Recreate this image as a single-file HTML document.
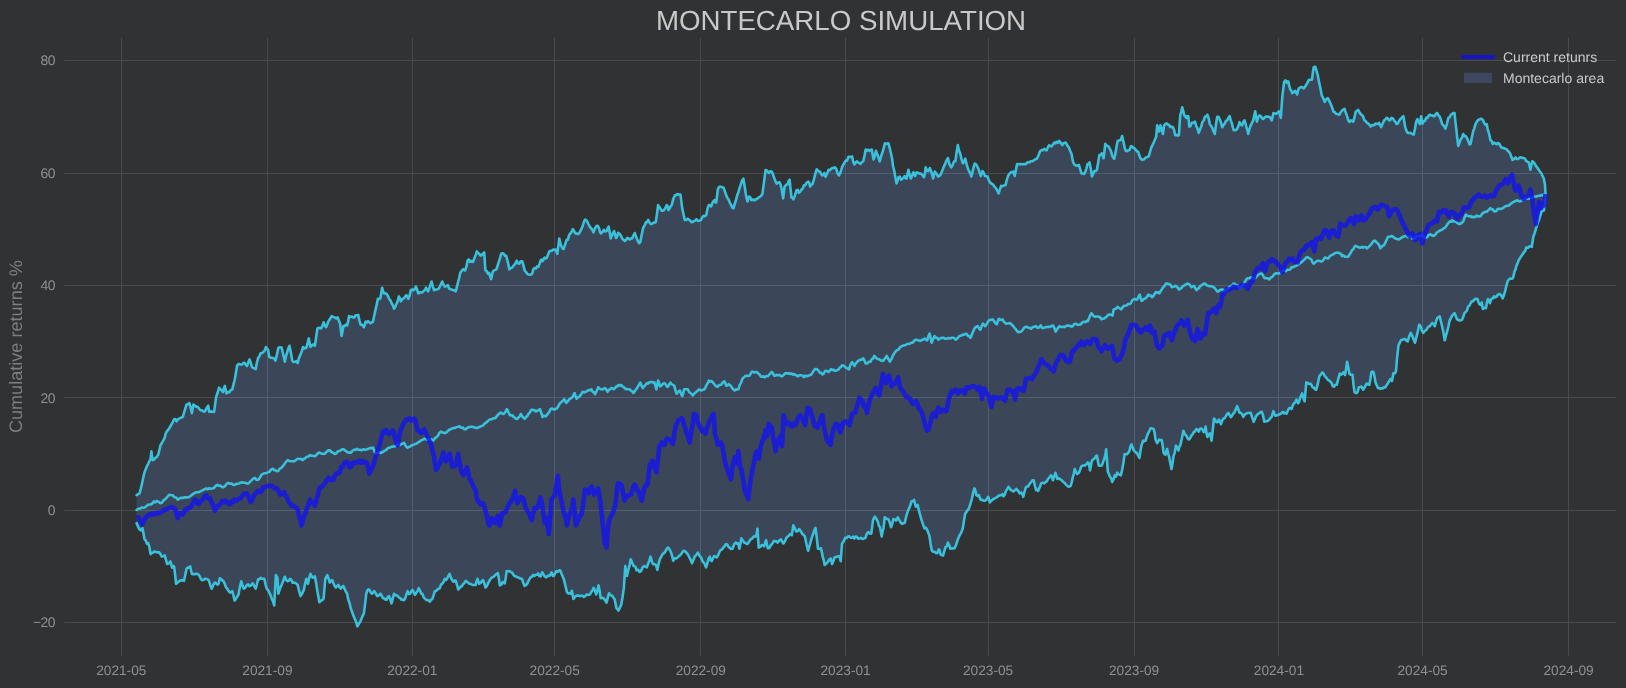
<!DOCTYPE html>
<html><head><meta charset="utf-8"><title>Montecarlo simulation</title>
<style>html,body{margin:0;padding:0;background:#313234;}body{width:1626px;height:688px;overflow:hidden;}svg{display:block;will-change:transform;}text{font-family:"Liberation Sans",sans-serif;text-rendering:geometricPrecision;}</style></head><body>
<svg width="1626" height="688" viewBox="0 0 1626 688">
<rect width="1626" height="688" fill="#313234"/>
<path d="M121.5,38 V655.5 M267.5,38 V655.5 M412.5,38 V655.5 M554.5,38 V655.5 M700.5,38 V655.5 M845.5,38 V655.5 M988.5,38 V655.5 M1134.5,38 V655.5 M1278.5,38 V655.5 M1422.5,38 V655.5 M1568.5,38 V655.5 M64.5,60.5 H1616 M64.5,173.5 H1616 M64.5,285.5 H1616 M64.5,397.5 H1616 M64.5,510.5 H1616 M64.5,622.5 H1616" stroke="#494a4d" stroke-width="1" fill="none"/>
<clipPath id="c"><path d="M136.6,495.1 L138.1,494.1 L139.5,493.4 L140.8,488.8 L142.0,483.5 L143.2,477.8 L144.5,472.4 L145.7,469.3 L147.0,466.0 L148.2,463.8 L149.4,461.2 L150.6,458.8 L151.4,451.4 L152.6,460.1 L154.0,459.6 L155.3,457.9 L156.7,457.1 L158.1,455.1 L159.3,450.3 L160.5,445.2 L161.9,443.0 L163.3,440.4 L164.7,437.8 L165.7,433.5 L166.7,431.6 L168.3,429.7 L170.0,427.0 L171.6,424.2 L172.8,422.1 L174.1,419.3 L175.3,419.1 L176.6,421.3 L178.2,419.0 L179.7,418.4 L181.2,417.6 L182.8,416.8 L184.0,412.9 L185.3,408.6 L186.5,404.5 L187.9,404.2 L189.4,403.2 L190.7,407.7 L191.9,413.1 L193.4,404.5 L194.8,405.6 L196.1,406.6 L197.5,406.8 L198.8,408.2 L200.4,410.2 L201.9,410.2 L203.4,411.4 L205.0,411.4 L206.6,408.1 L208.2,405.7 L209.2,411.9 L210.8,411.4 L212.5,411.7 L214.1,411.9 L215.1,404.4 L216.1,397.1 L217.6,392.8 L219.1,387.7 L220.4,389.3 L221.7,390.3 L223.0,392.1 L223.9,388.3 L224.8,385.9 L226.5,393.4 L227.9,392.1 L229.3,392.4 L230.8,390.0 L232.2,389.6 L233.4,384.9 L234.7,379.8 L235.9,372.9 L237.1,365.5 L238.7,363.9 L240.2,364.3 L241.8,364.6 L243.3,363.1 L244.5,362.7 L245.8,364.8 L247.0,366.0 L248.2,362.6 L249.5,359.4 L250.7,362.5 L251.9,366.8 L253.2,367.9 L254.4,368.4 L255.7,369.2 L256.9,362.6 L258.1,358.1 L259.4,356.2 L260.6,353.2 L262.1,353.0 L263.6,351.9 L264.8,350.1 L266.0,347.0 L267.0,349.3 L268.0,349.5 L269.2,356.9 L270.4,357.6 L271.7,357.8 L272.9,358.1 L274.1,358.4 L275.4,360.6 L276.9,354.6 L278.4,347.7 L280.0,347.2 L281.6,347.5 L283.2,354.3 L284.8,361.8 L286.1,356.0 L287.3,351.9 L288.4,348.2 L289.5,345.8 L290.9,352.8 L292.2,360.6 L293.7,362.1 L295.2,361.8 L296.4,361.0 L297.7,363.1 L299.1,357.7 L300.6,354.4 L301.9,350.9 L303.1,347.0 L304.7,348.4 L306.3,347.7 L307.6,343.5 L308.8,338.4 L310.5,347.0 L312.0,345.3 L313.4,344.4 L314.9,345.8 L316.1,337.4 L317.4,328.5 L318.6,328.0 L319.9,327.7 L321.1,328.5 L322.4,326.1 L323.6,322.3 L324.9,325.5 L326.1,327.2 L327.3,324.3 L328.5,321.1 L330.1,318.8 L331.7,316.1 L333.2,317.1 L334.7,317.4 L336.2,318.5 L337.7,317.4 L338.9,320.9 L340.1,323.5 L341.6,335.9 L342.5,331.3 L343.4,326.0 L344.6,326.2 L345.9,324.6 L347.1,325.5 L348.1,321.7 L349.0,316.1 L350.5,317.0 L352.0,316.6 L353.2,317.4 L354.5,317.4 L355.7,315.2 L357.0,315.3 L358.2,314.9 L359.4,320.4 L360.7,324.8 L362.3,324.7 L363.9,327.2 L364.8,324.3 L365.6,321.6 L366.8,322.5 L368.1,321.1 L369.3,322.3 L370.5,323.3 L371.8,322.4 L373.0,321.8 L374.2,315.7 L375.5,309.9 L376.7,304.6 L377.9,298.8 L379.1,299.0 L380.4,298.3 L381.2,293.1 L382.1,287.7 L383.1,291.4 L384.1,293.4 L385.4,293.2 L386.6,293.9 L387.8,295.7 L389.1,298.8 L390.3,300.1 L391.5,303.0 L392.8,305.2 L394.0,308.7 L395.2,306.9 L396.5,303.8 L397.7,301.1 L398.9,296.4 L399.9,298.5 L400.9,301.3 L402.1,299.1 L403.2,298.7 L404.4,297.6 L405.4,296.2 L406.4,295.1 L407.4,296.7 L408.3,298.8 L409.6,295.5 L410.8,290.2 L412.3,289.5 L413.8,290.2 L414.8,289.2 L415.8,286.5 L417.0,289.1 L418.2,293.4 L419.6,292.2 L420.9,292.6 L422.3,292.3 L423.7,290.9 L424.9,289.9 L426.1,287.7 L427.1,289.8 L428.1,291.4 L429.3,288.2 L430.4,284.9 L431.6,281.5 L432.8,286.3 L434.0,290.2 L435.5,289.6 L437.0,289.5 L438.5,288.9 L439.7,286.8 L441.0,284.0 L442.2,281.5 L443.4,284.5 L444.7,286.5 L446.3,286.2 L447.9,285.2 L449.1,288.5 L450.3,288.9 L451.7,289.8 L453.1,289.9 L454.4,290.5 L455.8,291.4 L457.0,286.4 L458.2,281.5 L459.2,277.8 L460.2,272.9 L461.7,270.8 L463.2,269.2 L464.2,270.1 L465.2,270.4 L466.4,266.7 L467.6,260.5 L468.9,259.4 L470.1,261.8 L471.6,261.0 L473.1,261.8 L474.3,258.5 L475.6,255.1 L476.8,251.4 L478.0,253.0 L479.3,253.9 L480.5,255.6 L481.7,255.0 L483.0,253.7 L484.2,252.4 L485.4,270.4 L486.6,270.9 L487.9,273.8 L489.1,272.9 L490.1,276.2 L491.1,279.1 L492.8,271.6 L494.0,270.4 L495.3,269.9 L496.5,269.2 L497.7,265.3 L498.8,261.8 L500.0,258.1 L501.2,253.8 L502.5,253.3 L503.7,253.8 L505.0,255.7 L506.2,255.8 L507.8,261.8 L509.4,269.4 L510.8,268.1 L512.2,267.6 L513.6,265.7 L515.2,263.8 L516.8,260.7 L518.0,263.2 L519.3,263.7 L520.8,261.3 L522.2,261.2 L523.5,265.7 L524.7,270.6 L526.2,272.2 L527.7,274.3 L529.2,274.6 L530.6,274.7 L532.1,273.8 L533.4,269.1 L534.6,268.1 L535.8,268.5 L537.1,266.3 L538.3,266.9 L539.5,264.0 L540.8,260.2 L541.6,259.7 L542.5,261.2 L543.5,259.6 L544.5,257.7 L545.7,258.5 L546.9,257.7 L548.1,254.4 L549.4,251.3 L550.6,250.9 L551.9,250.7 L553.1,249.6 L554.4,249.7 L555.6,249.6 L557.3,253.8 L558.3,246.1 L559.3,238.5 L560.5,243.9 L561.8,247.1 L562.8,248.7 L563.7,248.9 L565.2,244.1 L566.7,239.7 L567.9,239.6 L569.2,234.8 L570.4,233.5 L571.6,231.9 L572.9,229.1 L574.1,231.1 L575.4,233.5 L576.6,233.6 L577.9,234.0 L579.1,233.5 L580.3,231.2 L581.5,228.6 L582.7,226.0 L584.0,221.5 L585.2,219.5 L586.8,220.7 L588.4,224.1 L589.9,226.8 L591.4,228.6 L592.4,229.8 L593.4,232.3 L594.9,228.5 L596.4,226.1 L597.6,225.7 L598.8,227.4 L599.8,231.3 L600.8,233.5 L602.3,232.2 L603.8,229.8 L605.2,231.5 L606.7,231.1 L607.7,228.2 L608.7,226.6 L609.7,232.6 L610.7,238.5 L612.4,234.0 L614.1,231.1 L615.1,235.1 L616.1,238.0 L617.1,236.5 L618.1,232.8 L619.6,233.8 L621.1,236.0 L622.3,238.7 L623.6,240.0 L624.8,240.9 L626.0,240.0 L627.3,237.9 L628.5,238.5 L629.7,239.5 L631.0,238.4 L632.2,238.5 L633.5,235.3 L634.7,233.0 L635.9,236.3 L637.2,239.4 L638.4,242.2 L639.3,243.2 L640.3,242.2 L641.8,234.1 L643.3,227.4 L644.5,225.7 L645.8,222.4 L647.0,222.2 L648.2,219.9 L649.7,223.0 L651.2,224.1 L652.7,223.4 L654.2,222.4 L655.7,222.4 L656.9,214.5 L658.1,205.1 L659.3,207.1 L660.6,209.0 L661.8,210.8 L663.4,210.8 L665.0,208.8 L665.9,206.8 L666.8,205.1 L667.6,206.0 L668.5,210.1 L670.1,207.3 L671.7,205.1 L673.3,198.9 L674.9,195.2 L676.1,195.2 L677.4,194.0 L678.9,194.5 L680.4,194.5 L681.3,201.2 L682.3,208.8 L683.5,214.3 L684.8,219.9 L686.3,219.9 L687.8,218.7 L689.0,219.8 L690.2,220.7 L691.5,222.2 L692.7,221.9 L693.9,221.0 L695.2,220.8 L696.4,219.2 L698.0,221.0 L699.6,220.7 L701.1,219.8 L702.6,216.7 L703.8,215.7 L705.1,216.2 L706.3,215.0 L707.5,208.7 L708.8,205.1 L710.0,205.0 L711.2,206.4 L712.9,201.9 L714.5,200.2 L715.4,202.1 L716.2,202.6 L717.9,189.1 L719.1,187.0 L720.4,186.6 L722.0,187.2 L723.6,187.8 L724.9,191.4 L726.1,195.2 L727.3,197.6 L728.6,199.7 L729.8,202.6 L731.0,204.7 L732.3,207.7 L733.5,208.3 L734.7,204.0 L736.0,199.9 L737.2,195.2 L738.4,192.2 L739.7,187.7 L740.9,184.1 L742.1,180.5 L743.4,178.7 L744.6,186.0 L745.8,194.0 L746.7,198.5 L747.6,201.4 L749.0,196.5 L750.2,197.2 L751.5,200.2 L752.9,199.5 L754.3,200.4 L755.7,199.4 L756.9,199.2 L758.2,197.8 L759.4,197.0 L760.9,196.1 L762.4,194.0 L764.0,182.1 L765.6,170.0 L767.2,170.7 L768.8,173.0 L770.3,171.3 L771.8,171.8 L773.0,174.4 L774.2,177.9 L775.5,181.4 L776.7,183.6 L778.2,182.6 L779.7,182.4 L780.7,185.1 L781.7,189.1 L783.1,198.4 L784.6,186.6 L786.2,184.8 L787.8,184.1 L788.7,180.8 L789.6,179.7 L790.5,188.6 L791.5,197.7 L792.5,197.7 L793.5,199.4 L795.0,195.1 L796.5,190.3 L797.7,189.9 L798.9,192.8 L800.2,191.6 L801.4,189.6 L802.7,188.6 L803.9,185.3 L805.2,185.3 L806.4,182.9 L807.3,182.1 L808.3,181.6 L809.2,182.5 L810.1,186.6 L811.3,184.7 L812.5,184.1 L813.9,179.4 L815.3,173.9 L816.7,169.3 L818.4,171.1 L820.0,171.8 L821.2,174.2 L822.4,175.5 L823.3,174.7 L824.2,173.0 L825.6,176.7 L827.1,173.5 L828.6,169.8 L829.8,170.2 L831.1,169.1 L832.3,168.1 L833.5,168.0 L834.8,167.3 L836.2,168.6 L837.6,173.4 L839.0,175.5 L840.6,172.1 L842.2,166.8 L843.4,164.5 L844.7,162.3 L845.9,160.6 L847.1,160.7 L848.4,156.9 L849.6,156.9 L850.9,157.0 L852.1,156.4 L853.3,162.1 L854.5,164.4 L855.8,162.3 L857.0,161.4 L858.2,162.7 L859.5,163.1 L860.7,163.9 L862.0,161.9 L863.2,161.4 L864.5,155.8 L865.7,149.5 L866.9,150.6 L868.2,149.7 L869.4,150.8 L870.6,150.1 L871.8,149.5 L872.7,154.7 L873.6,159.4 L874.8,155.7 L876.0,150.8 L877.2,154.3 L878.5,157.7 L879.7,161.4 L881.4,155.4 L883.0,150.8 L884.0,146.8 L884.9,143.4 L886.1,144.0 L887.2,143.5 L888.4,143.4 L889.6,147.5 L890.7,152.2 L891.9,157.5 L893.1,166.2 L894.3,171.1 L895.5,178.0 L896.6,183.4 L897.5,180.7 L898.5,177.2 L899.8,176.6 L901.0,179.7 L902.2,178.9 L903.5,177.6 L904.7,176.0 L905.7,178.4 L906.7,178.5 L908.4,169.8 L909.6,174.4 L910.9,178.5 L912.1,175.4 L913.4,172.3 L914.2,174.5 L915.1,176.0 L916.1,172.8 L917.1,172.3 L918.3,173.4 L919.6,173.3 L920.8,173.5 L922.4,174.9 L924.0,177.2 L924.9,173.2 L925.7,167.4 L927.0,170.5 L928.2,171.1 L929.9,168.1 L931.5,172.3 L933.1,178.5 L934.8,171.6 L936.5,173.7 L938.1,176.7 L939.3,176.0 L940.5,174.8 L941.9,171.6 L943.3,167.9 L944.7,164.9 L946.3,160.9 L947.9,158.2 L949.5,164.3 L951.2,167.4 L952.4,165.6 L953.6,162.4 L954.5,161.0 L955.4,161.2 L956.6,152.2 L957.8,145.1 L959.0,150.6 L960.3,153.8 L961.5,159.2 L962.8,163.2 L964.0,162.2 L965.2,158.7 L966.8,164.8 L968.4,169.8 L969.9,172.5 L971.4,176.5 L972.6,171.5 L973.9,166.1 L974.9,163.6 L975.9,164.1 L977.3,166.4 L978.8,169.8 L979.8,172.9 L980.8,176.0 L981.6,173.9 L982.5,171.1 L983.8,173.0 L985.0,176.0 L986.2,176.2 L987.5,176.5 L988.7,179.7 L989.9,182.2 L991.5,183.7 L993.2,184.7 L994.7,187.0 L996.1,188.4 L997.4,191.0 L998.6,193.3 L999.9,189.4 L1001.1,185.9 L1002.6,186.2 L1004.0,185.4 L1005.5,185.1 L1006.8,180.0 L1008.0,176.0 L1009.5,173.7 L1010.9,172.3 L1012.1,171.9 L1013.4,171.6 L1014.7,176.0 L1015.9,170.0 L1017.1,164.1 L1018.3,164.2 L1019.6,164.1 L1020.8,164.1 L1022.5,164.2 L1024.1,164.0 L1025.8,164.1 L1027.4,162.3 L1029.1,162.5 L1030.7,161.2 L1032.2,161.3 L1033.8,160.3 L1035.4,159.2 L1036.9,158.7 L1038.5,155.3 L1040.1,151.3 L1041.6,150.0 L1043.1,150.1 L1044.3,148.8 L1045.6,150.1 L1046.8,150.1 L1048.0,146.9 L1049.2,145.1 L1050.5,146.3 L1051.7,146.4 L1052.9,144.6 L1054.2,142.6 L1055.4,143.4 L1056.6,141.8 L1057.9,142.8 L1059.1,140.9 L1060.7,142.7 L1062.3,145.1 L1063.5,143.3 L1064.6,142.9 L1065.8,142.6 L1067.4,145.5 L1069.0,147.6 L1070.2,151.0 L1071.5,153.8 L1072.3,158.2 L1073.2,162.4 L1074.8,165.0 L1076.4,165.6 L1077.7,165.7 L1078.9,164.9 L1080.2,169.2 L1081.4,173.5 L1082.6,173.5 L1083.9,173.9 L1085.1,172.3 L1086.3,168.9 L1087.5,164.1 L1088.5,164.0 L1089.5,162.4 L1090.8,168.7 L1092.0,176.5 L1093.2,173.7 L1094.5,171.1 L1095.7,171.0 L1096.9,169.8 L1098.2,162.2 L1099.4,155.0 L1100.7,154.9 L1101.9,153.3 L1103.6,158.2 L1104.4,151.5 L1105.3,143.9 L1106.9,145.8 L1108.5,146.4 L1109.8,148.7 L1111.0,151.3 L1112.6,156.8 L1114.2,158.7 L1115.4,153.6 L1116.5,146.7 L1117.7,140.9 L1118.7,140.6 L1119.7,140.2 L1120.9,139.9 L1122.1,136.0 L1123.1,140.3 L1124.1,145.1 L1124.9,148.6 L1125.8,150.8 L1127.0,151.3 L1128.3,150.3 L1129.5,150.1 L1130.8,146.4 L1132.0,146.2 L1133.3,147.8 L1134.5,148.3 L1135.7,149.7 L1137.0,151.4 L1138.2,151.8 L1139.5,155.8 L1140.7,158.7 L1141.6,159.3 L1142.4,159.9 L1144.0,159.3 L1145.6,157.5 L1147.2,157.2 L1148.8,156.2 L1150.0,152.0 L1151.3,147.6 L1152.5,145.1 L1153.7,142.6 L1155.0,139.4 L1156.2,136.5 L1157.2,125.4 L1158.2,128.9 L1159.2,131.5 L1160.4,125.4 L1161.7,129.0 L1162.9,134.0 L1164.1,125.4 L1165.3,124.0 L1166.6,123.4 L1167.8,124.6 L1169.1,124.8 L1170.3,127.1 L1171.5,126.8 L1172.8,127.1 L1174.0,129.7 L1175.2,135.2 L1176.4,134.7 L1177.7,135.6 L1178.9,135.2 L1180.2,115.5 L1181.2,111.8 L1182.2,107.3 L1183.3,111.4 L1184.4,115.5 L1185.4,116.5 L1186.4,117.9 L1187.3,116.1 L1188.3,116.2 L1189.3,126.6 L1190.5,126.0 L1191.8,122.9 L1193.4,122.6 L1195.0,121.6 L1196.2,126.1 L1197.5,128.4 L1198.7,132.8 L1200.0,129.6 L1201.2,126.6 L1202.4,122.0 L1203.7,120.5 L1204.9,116.7 L1206.2,116.4 L1207.4,114.7 L1208.6,118.1 L1209.8,124.1 L1211.0,125.9 L1212.3,127.8 L1213.5,131.3 L1214.8,134.0 L1216.0,124.1 L1217.2,116.7 L1218.5,116.7 L1219.7,119.2 L1221.0,122.5 L1222.2,127.3 L1223.5,125.0 L1224.7,123.6 L1225.9,121.0 L1227.1,120.4 L1228.3,118.3 L1229.6,116.2 L1230.8,120.3 L1232.1,124.1 L1232.9,127.6 L1233.8,130.3 L1235.4,130.2 L1237.0,129.1 L1238.2,126.7 L1239.5,122.1 L1240.8,124.6 L1242.1,125.4 L1243.3,122.0 L1244.5,120.4 L1245.4,123.1 L1246.3,126.6 L1247.2,129.6 L1248.2,134.0 L1249.5,128.9 L1250.7,125.4 L1252.0,122.8 L1253.2,120.4 L1254.2,115.9 L1255.2,111.3 L1256.1,116.8 L1256.9,121.6 L1258.2,117.4 L1259.4,115.5 L1260.6,115.9 L1261.9,118.0 L1263.1,119.2 L1264.3,117.8 L1265.5,116.7 L1266.7,116.5 L1268.0,116.7 L1269.2,116.7 L1270.5,118.0 L1271.7,120.4 L1272.6,117.2 L1273.4,113.0 L1275.0,113.6 L1276.6,113.7 L1277.8,112.4 L1279.1,111.3 L1279.9,114.1 L1280.8,117.9 L1282.3,96.9 L1283.2,89.4 L1284.1,82.1 L1285.3,80.4 L1286.5,82.6 L1287.4,81.4 L1288.3,81.6 L1289.2,85.6 L1290.2,89.5 L1291.2,90.3 L1292.2,93.2 L1293.7,92.1 L1295.2,90.8 L1296.2,92.8 L1297.2,94.5 L1298.1,90.4 L1298.9,88.3 L1300.2,87.5 L1301.4,87.1 L1302.6,87.5 L1303.8,88.3 L1305.0,86.8 L1306.3,84.6 L1307.5,82.8 L1308.8,80.1 L1310.4,79.8 L1312.0,79.6 L1312.8,72.9 L1313.7,67.3 L1314.6,66.9 L1315.4,66.8 L1316.7,71.3 L1317.9,75.9 L1318.9,81.4 L1319.9,85.8 L1320.9,91.0 L1321.9,95.7 L1323.3,98.3 L1324.8,101.9 L1326.3,99.1 L1327.8,98.2 L1329.0,100.4 L1330.3,103.1 L1331.9,106.9 L1333.5,111.8 L1334.7,112.0 L1335.9,113.7 L1337.6,114.1 L1339.2,114.7 L1340.7,112.3 L1342.1,110.5 L1343.3,109.7 L1344.6,108.8 L1345.6,112.1 L1346.6,114.7 L1347.4,117.3 L1348.3,120.4 L1349.5,122.0 L1350.8,120.4 L1352.0,120.8 L1353.2,121.6 L1354.5,117.5 L1355.7,111.8 L1357.0,110.9 L1358.2,109.8 L1359.8,113.0 L1361.4,114.7 L1362.9,115.9 L1364.4,120.4 L1365.6,120.9 L1366.9,122.7 L1368.1,123.6 L1369.3,124.6 L1370.6,126.4 L1371.8,125.4 L1373.0,125.0 L1374.3,125.1 L1375.5,123.6 L1376.7,123.9 L1378.0,123.8 L1379.2,122.9 L1380.2,125.4 L1381.2,127.1 L1382.7,123.6 L1384.1,120.4 L1385.3,119.5 L1386.6,117.9 L1387.8,118.4 L1389.1,120.4 L1390.3,120.0 L1391.5,117.9 L1392.8,118.4 L1394.0,120.4 L1395.2,121.6 L1396.5,124.0 L1397.7,123.6 L1399.0,121.2 L1400.2,119.2 L1401.8,117.7 L1403.4,116.2 L1405.1,126.6 L1406.3,130.5 L1407.6,132.8 L1408.8,133.1 L1410.1,132.7 L1411.3,133.5 L1412.5,134.2 L1413.8,134.5 L1415.0,128.5 L1416.2,121.6 L1417.5,119.2 L1418.7,122.1 L1419.9,124.1 L1421.2,116.2 L1422.4,123.6 L1423.6,121.2 L1424.9,121.0 L1426.1,117.9 L1427.3,118.0 L1428.6,115.8 L1429.8,114.7 L1431.0,115.4 L1432.3,115.4 L1433.5,116.2 L1434.7,116.1 L1436.0,113.6 L1437.2,113.0 L1438.5,115.3 L1439.7,116.7 L1441.0,120.1 L1442.2,124.1 L1443.8,125.9 L1445.4,128.6 L1446.9,123.8 L1448.4,117.9 L1449.6,117.2 L1450.8,114.7 L1452.0,114.1 L1453.3,113.1 L1454.5,113.0 L1455.4,121.6 L1456.3,129.1 L1457.2,137.5 L1458.2,145.9 L1459.5,142.9 L1460.7,139.4 L1462.0,137.8 L1463.2,134.0 L1464.7,136.0 L1466.1,136.5 L1467.3,138.8 L1468.6,141.9 L1469.6,144.5 L1470.6,143.9 L1471.8,137.7 L1473.1,131.5 L1474.3,128.4 L1475.5,124.1 L1477.0,121.4 L1478.5,119.7 L1479.8,119.2 L1481.0,118.7 L1482.6,119.6 L1484.2,122.9 L1485.5,124.8 L1486.7,124.1 L1487.6,128.8 L1488.4,131.5 L1489.4,135.0 L1490.4,140.2 L1491.6,141.0 L1492.8,143.9 L1494.0,142.5 L1495.3,143.4 L1496.5,144.2 L1497.8,143.1 L1499.0,143.4 L1500.2,145.5 L1501.5,147.6 L1502.7,147.8 L1504.0,148.3 L1505.2,148.8 L1506.4,149.0 L1507.7,150.8 L1508.9,151.8 L1510.1,153.5 L1511.4,157.1 L1512.6,159.9 L1514.1,158.9 L1515.6,157.5 L1516.5,158.7 L1517.5,159.2 L1518.7,158.5 L1520.0,157.4 L1521.2,157.5 L1522.4,158.0 L1523.7,158.0 L1524.9,158.7 L1526.2,161.0 L1527.4,161.7 L1528.7,162.4 L1529.6,166.0 L1530.4,169.8 L1531.3,165.2 L1532.3,161.2 L1533.4,162.2 L1534.6,163.5 L1535.7,165.6 L1537.2,167.5 L1538.7,169.8 L1540.1,171.9 L1541.5,173.5 L1542.7,176.4 L1543.8,178.5 L1545.0,184.7 L1545.4,193.3 L1545.4,194.0 L1545.0,203.1 L1543.8,210.5 L1542.7,210.8 L1541.5,211.8 L1540.3,215.5 L1539.2,219.2 L1538.2,221.9 L1537.3,224.1 L1535.7,229.6 L1534.6,233.4 L1533.4,236.5 L1531.8,246.8 L1530.6,246.4 L1529.4,246.4 L1527.8,248.0 L1526.2,247.6 L1525.0,251.3 L1523.7,252.5 L1522.5,254.5 L1521.2,256.2 L1520.0,258.2 L1518.8,259.9 L1517.5,263.7 L1516.3,266.1 L1515.4,270.0 L1514.6,271.1 L1513.6,275.7 L1512.6,278.5 L1511.3,278.7 L1510.1,278.5 L1508.9,279.5 L1507.7,281.0 L1506.5,285.4 L1505.2,290.9 L1504.0,295.0 L1502.7,298.3 L1501.5,295.9 L1500.2,294.2 L1499.0,294.1 L1497.8,294.9 L1496.5,296.6 L1495.3,297.4 L1494.0,296.4 L1492.8,298.3 L1491.3,299.1 L1489.9,303.2 L1488.9,300.1 L1487.9,299.0 L1486.9,302.8 L1485.9,308.2 L1484.4,307.8 L1482.9,308.9 L1481.7,302.5 L1480.5,304.8 L1479.2,304.0 L1478.3,301.6 L1477.5,299.0 L1475.9,298.8 L1474.3,299.5 L1473.1,301.2 L1471.8,301.3 L1470.6,303.2 L1469.4,305.7 L1468.1,306.5 L1466.9,310.6 L1465.7,311.8 L1464.4,313.1 L1463.2,317.1 L1461.9,320.0 L1460.7,320.2 L1459.5,320.5 L1458.2,319.8 L1457.0,319.3 L1455.8,316.3 L1454.5,313.1 L1453.3,314.2 L1452.1,315.6 L1450.8,318.5 L1449.6,320.5 L1448.3,327.0 L1447.1,331.6 L1445.9,335.9 L1444.7,340.3 L1443.5,332.7 L1442.2,326.7 L1441.0,321.7 L1439.7,316.3 L1438.5,317.0 L1437.2,318.1 L1436.0,321.4 L1434.8,326.2 L1433.5,324.1 L1432.3,323.0 L1431.0,324.5 L1429.8,326.2 L1428.2,326.7 L1426.6,329.7 L1424.9,330.8 L1423.2,332.9 L1422.2,331.4 L1421.2,327.9 L1420.2,325.7 L1419.2,324.7 L1418.3,329.0 L1417.5,332.9 L1416.2,337.9 L1415.0,342.8 L1413.8,340.0 L1412.5,336.6 L1411.7,334.8 L1410.8,332.9 L1409.2,336.4 L1407.6,341.5 L1406.4,340.7 L1405.1,339.1 L1403.9,339.1 L1402.4,339.7 L1400.9,340.3 L1399.7,342.8 L1398.5,345.2 L1397.0,358.8 L1396.0,371.2 L1394.8,373.5 L1393.5,373.2 L1392.0,381.1 L1391.2,379.0 L1390.3,379.1 L1389.0,381.5 L1387.8,383.5 L1386.6,385.2 L1385.3,387.4 L1384.1,387.2 L1382.9,388.4 L1381.6,388.2 L1380.4,389.0 L1379.2,388.1 L1377.9,388.0 L1376.7,385.3 L1375.5,382.3 L1374.6,377.3 L1373.7,372.4 L1372.5,371.4 L1371.3,372.4 L1370.3,379.5 L1369.3,384.8 L1368.0,384.4 L1366.8,383.5 L1365.6,385.4 L1364.3,388.0 L1363.1,389.7 L1361.4,386.5 L1360.2,386.9 L1358.9,387.2 L1357.9,390.9 L1356.9,392.9 L1355.7,393.0 L1354.5,392.2 L1353.5,384.7 L1352.5,374.9 L1351.0,374.8 L1349.5,374.1 L1348.3,367.5 L1347.1,361.8 L1346.1,368.6 L1345.1,374.9 L1343.4,372.4 L1342.2,373.7 L1340.9,374.8 L1339.7,373.7 L1338.2,379.3 L1336.7,384.8 L1335.4,384.8 L1334.0,386.7 L1332.7,386.0 L1331.8,383.5 L1331.0,382.3 L1329.4,380.6 L1327.8,379.8 L1326.3,377.7 L1324.8,376.1 L1323.6,373.6 L1322.4,372.4 L1320.9,374.3 L1319.4,376.1 L1317.8,383.9 L1316.2,389.7 L1315.0,389.2 L1313.7,387.6 L1312.5,387.2 L1311.2,384.5 L1310.0,383.5 L1308.8,383.9 L1307.5,383.3 L1306.3,382.3 L1305.4,392.6 L1304.6,401.3 L1303.3,397.7 L1302.1,393.4 L1301.1,395.7 L1300.1,397.9 L1299.1,401.8 L1298.1,403.3 L1296.4,399.6 L1295.2,402.5 L1293.9,403.3 L1292.7,405.6 L1291.5,409.0 L1290.2,408.0 L1289.0,408.2 L1287.8,410.7 L1286.5,413.7 L1285.3,412.7 L1284.0,413.4 L1282.8,411.9 L1281.6,412.9 L1280.3,414.0 L1279.1,414.4 L1277.9,415.3 L1276.6,415.3 L1275.4,415.7 L1274.4,414.1 L1273.4,411.2 L1272.6,413.9 L1271.7,416.9 L1270.5,418.0 L1269.2,419.7 L1268.0,420.6 L1266.8,421.3 L1265.5,421.3 L1264.3,421.8 L1263.0,415.4 L1261.8,411.9 L1260.6,412.1 L1259.4,413.2 L1257.8,414.1 L1256.1,416.1 L1254.9,419.0 L1253.7,421.8 L1252.2,417.6 L1250.7,412.7 L1249.5,412.9 L1248.2,413.0 L1247.0,413.2 L1245.8,413.9 L1244.5,414.8 L1243.3,416.9 L1242.0,414.0 L1240.8,412.9 L1239.5,412.8 L1238.2,409.0 L1237.0,406.1 L1235.8,409.4 L1234.5,412.3 L1233.3,413.7 L1232.0,415.6 L1230.8,417.2 L1229.6,415.2 L1228.4,412.8 L1227.2,414.0 L1225.9,416.0 L1224.7,418.2 L1223.4,418.5 L1222.2,420.6 L1221.0,424.2 L1220.0,421.9 L1219.0,419.7 L1217.8,421.9 L1216.5,422.2 L1215.2,419.8 L1214.0,418.5 L1212.8,429.8 L1211.6,440.7 L1210.7,436.5 L1209.8,433.3 L1208.6,434.7 L1207.4,437.0 L1206.5,433.1 L1205.6,426.6 L1204.7,431.1 L1203.7,432.1 L1202.5,429.6 L1201.2,428.4 L1200.0,428.7 L1198.7,431.6 L1197.5,429.7 L1196.2,429.1 L1195.0,431.5 L1193.7,432.2 L1192.5,434.5 L1191.3,435.7 L1190.0,438.4 L1188.8,439.5 L1187.6,438.3 L1186.4,435.8 L1184.9,434.4 L1183.4,430.8 L1181.8,438.8 L1180.2,445.6 L1179.3,446.8 L1178.5,450.6 L1177.2,447.5 L1176.0,445.6 L1174.8,452.3 L1173.5,456.3 L1172.5,463.6 L1171.5,469.1 L1170.3,463.1 L1169.1,456.8 L1168.1,453.3 L1167.1,448.9 L1165.4,454.8 L1164.5,453.9 L1163.6,453.1 L1162.7,445.9 L1161.7,440.0 L1160.5,440.3 L1159.2,439.5 L1158.2,441.5 L1157.2,443.2 L1156.3,441.3 L1155.5,439.5 L1154.6,432.7 L1153.7,429.1 L1152.1,428.4 L1150.5,428.4 L1149.3,431.0 L1148.1,433.3 L1146.8,436.7 L1145.6,440.7 L1144.3,441.1 L1143.1,440.7 L1141.4,445.6 L1140.4,451.4 L1139.4,458.0 L1138.2,455.6 L1136.9,453.1 L1135.5,452.1 L1134.0,450.6 L1132.8,448.1 L1131.5,444.4 L1130.5,445.9 L1129.5,450.6 L1128.3,452.8 L1127.1,454.3 L1125.8,454.1 L1124.6,454.3 L1123.4,462.9 L1122.2,469.5 L1120.9,475.3 L1119.7,474.8 L1118.4,474.1 L1117.2,472.7 L1115.9,476.8 L1114.7,475.3 L1113.5,479.3 L1112.2,482.0 L1111.0,478.0 L1109.8,476.5 L1108.8,473.9 L1107.8,471.6 L1106.9,458.7 L1106.1,449.4 L1105.2,455.5 L1104.3,458.7 L1103.1,461.9 L1101.9,465.4 L1100.3,465.8 L1098.7,465.4 L1097.8,460.4 L1096.9,455.5 L1095.9,456.1 L1094.9,458.0 L1093.5,459.2 L1092.0,460.5 L1091.0,465.2 L1090.0,470.4 L1088.8,462.9 L1087.6,462.5 L1086.3,464.4 L1085.1,465.4 L1083.9,465.4 L1082.6,465.7 L1081.4,466.2 L1080.2,469.5 L1078.9,472.8 L1078.1,473.2 L1077.2,474.1 L1076.0,472.0 L1074.7,469.1 L1073.7,474.1 L1072.7,477.8 L1071.7,482.4 L1070.7,485.9 L1069.2,486.7 L1067.8,486.4 L1066.2,484.9 L1064.7,483.0 L1063.1,481.9 L1061.6,480.2 L1060.2,479.4 L1058.8,478.2 L1057.4,479.0 L1056.4,476.0 L1055.4,472.8 L1054.2,476.5 L1052.9,480.2 L1052.0,477.2 L1051.0,475.3 L1049.5,477.3 L1048.0,479.0 L1046.8,481.4 L1045.5,482.2 L1044.3,483.4 L1042.7,482.7 L1041.1,483.4 L1039.6,487.6 L1038.1,490.9 L1037.1,489.6 L1036.1,490.1 L1034.9,485.6 L1033.7,480.2 L1032.5,480.3 L1031.2,482.0 L1029.7,483.8 L1028.2,486.4 L1027.0,486.6 L1025.8,487.6 L1024.5,491.7 L1023.3,496.8 L1022.1,493.3 L1020.9,492.6 L1019.6,493.3 L1018.0,490.8 L1016.4,488.9 L1014.9,490.3 L1013.4,491.4 L1012.1,490.6 L1010.9,490.1 L1009.7,488.5 L1008.5,486.9 L1007.2,489.1 L1006.0,490.9 L1004.8,494.5 L1003.5,496.3 L1002.5,494.2 L1001.6,495.1 L1000.1,495.2 L998.6,495.8 L997.0,497.2 L995.3,498.2 L993.7,498.8 L992.4,500.0 L991.2,500.6 L989.9,502.5 L988.2,496.8 L986.6,499.4 L985.0,500.7 L983.6,500.6 L982.2,499.8 L980.8,500.0 L979.8,497.8 L978.8,495.1 L977.6,495.9 L976.4,495.1 L975.4,490.6 L974.4,488.4 L973.1,493.1 L971.9,498.8 L970.4,503.9 L968.9,508.7 L967.7,510.0 L966.4,512.2 L965.2,513.6 L964.0,520.4 L962.8,528.4 L961.1,532.9 L959.5,535.5 L957.8,539.5 L956.2,544.5 L954.6,548.2 L953.2,548.4 L951.8,548.3 L950.4,548.7 L949.1,545.0 L947.9,542.7 L946.7,546.6 L945.5,546.9 L944.2,551.6 L943.0,555.6 L941.8,555.1 L940.5,554.4 L939.6,550.2 L938.8,549.4 L937.3,553.1 L936.0,553.1 L934.8,551.9 L933.3,551.8 L931.9,550.7 L930.6,543.9 L929.4,535.8 L928.4,532.9 L927.4,530.4 L926.0,527.8 L924.5,528.4 L923.3,525.2 L922.0,521.3 L920.8,517.3 L919.2,511.7 L917.6,504.9 L916.7,505.2 L915.8,506.7 L914.1,500.0 L912.9,501.1 L911.6,501.2 L910.0,506.4 L908.4,509.9 L907.2,513.1 L905.9,517.7 L904.7,523.0 L903.5,523.1 L902.2,523.9 L901.0,523.0 L899.4,520.3 L897.8,517.3 L896.1,520.5 L894.8,519.4 L893.4,519.1 L892.2,524.0 L891.0,527.2 L889.5,521.9 L888.1,519.1 L886.4,518.8 L884.7,517.3 L883.5,528.4 L882.6,531.3 L881.7,536.5 L880.9,531.9 L880.0,527.2 L878.9,525.8 L877.7,521.4 L876.2,518.6 L874.8,516.7 L873.9,518.4 L873.0,520.2 L872.1,527.3 L871.3,533.6 L869.8,533.4 L868.2,532.1 L866.7,534.0 L865.5,537.8 L864.2,538.4 L862.5,539.0 L860.9,537.9 L859.2,538.4 L858.0,538.6 L856.7,536.8 L855.5,536.5 L854.3,538.5 L853.0,536.7 L851.8,537.7 L850.6,537.6 L849.3,536.4 L848.1,536.5 L846.7,538.0 L845.2,537.7 L843.6,541.4 L842.0,543.9 L840.7,561.2 L839.5,556.2 L837.8,556.4 L836.2,556.9 L834.5,557.5 L833.3,561.3 L832.1,564.1 L830.8,558.7 L829.6,559.2 L828.4,561.2 L827.2,562.6 L825.9,564.0 L824.7,564.9 L823.8,560.4 L822.9,557.5 L822.0,553.1 L821.0,548.3 L819.5,549.0 L818.0,548.8 L816.8,538.1 L815.5,527.8 L814.5,529.9 L813.5,532.8 L812.3,536.3 L811.1,540.2 L809.6,545.5 L808.1,550.8 L806.5,544.3 L804.9,536.5 L803.6,534.9 L802.4,534.0 L800.8,531.3 L799.2,529.1 L797.7,531.2 L796.2,531.5 L794.8,528.4 L793.3,525.4 L791.8,535.2 L790.1,534.0 L788.9,535.6 L787.6,536.8 L786.4,537.7 L784.9,541.2 L783.4,543.4 L782.1,541.5 L780.9,539.4 L779.3,540.4 L777.7,542.6 L776.5,541.2 L775.2,541.4 L774.0,540.9 L772.5,543.3 L771.0,545.1 L769.4,547.9 L767.8,548.3 L766.1,540.2 L765.1,543.2 L764.1,546.4 L762.9,545.2 L761.7,545.1 L760.2,546.9 L758.7,547.6 L757.5,528.6 L756.2,536.5 L755.0,536.2 L753.7,536.5 L752.1,538.6 L750.5,539.4 L749.3,541.2 L748.1,543.4 L746.9,544.0 L745.6,543.2 L744.4,542.6 L742.9,540.8 L741.4,538.4 L740.4,543.7 L739.4,548.8 L738.2,543.4 L737.0,543.6 L735.7,542.6 L734.1,544.4 L732.5,548.8 L731.0,549.0 L729.5,547.6 L728.3,546.7 L727.0,544.2 L725.8,544.4 L724.6,546.0 L723.4,547.6 L722.0,549.6 L720.6,549.9 L719.2,552.5 L718.0,555.4 L716.7,557.5 L715.5,556.8 L714.2,556.2 L713.0,558.2 L711.7,561.2 L710.8,560.3 L709.8,556.7 L708.6,558.5 L707.3,563.5 L706.1,567.4 L704.9,564.4 L703.6,562.4 L702.4,561.1 L701.1,557.5 L699.5,555.8 L697.9,552.5 L696.4,554.9 L694.9,556.2 L693.5,559.7 L692.0,563.2 L691.0,560.5 L690.0,558.7 L688.8,556.2 L687.5,553.8 L686.3,552.5 L685.0,551.2 L683.8,550.8 L682.6,551.8 L681.4,553.8 L680.2,555.3 L678.9,556.0 L677.7,557.5 L676.2,558.4 L674.7,558.3 L673.2,560.7 L672.4,557.2 L671.5,553.8 L669.9,550.0 L668.3,547.6 L667.0,548.4 L665.8,550.8 L664.3,553.0 L662.8,553.8 L661.3,556.6 L659.9,559.2 L658.6,563.8 L657.4,569.8 L655.9,564.9 L654.4,564.3 L652.9,564.1 L651.7,560.9 L650.5,556.7 L649.3,560.9 L648.0,564.1 L646.8,567.4 L645.5,566.7 L644.3,566.1 L642.7,567.2 L641.1,571.1 L639.6,572.0 L638.1,569.8 L636.6,570.3 L635.2,566.4 L633.7,566.1 L632.2,562.8 L630.7,559.2 L629.5,565.7 L628.2,570.7 L627.0,576.0 L626.1,571.1 L625.3,566.1 L623.8,588.4 L622.5,597.5 L621.3,604.4 L619.8,607.9 L618.4,610.6 L617.4,609.1 L616.4,608.1 L614.7,599.5 L613.5,597.7 L612.2,595.8 L610.6,595.2 L609.0,593.3 L607.8,597.7 L606.5,602.7 L605.0,600.1 L603.5,598.2 L602.0,597.7 L600.6,598.2 L599.6,590.7 L598.6,585.4 L597.4,590.5 L596.1,594.5 L594.9,590.1 L593.7,587.9 L592.4,590.5 L591.2,592.1 L589.9,594.5 L588.3,594.9 L586.7,594.5 L585.2,596.1 L583.8,597.0 L582.5,595.7 L581.3,595.8 L579.7,596.1 L578.0,595.4 L576.4,595.8 L574.9,596.9 L573.4,599.0 L571.9,590.8 L570.6,593.7 L569.4,593.3 L568.2,593.5 L567.0,592.1 L565.5,586.0 L564.0,579.7 L562.8,576.6 L561.5,573.8 L560.3,570.6 L559.1,570.3 L557.8,571.8 L556.6,571.1 L555.4,572.8 L554.1,575.5 L552.9,576.0 L551.6,572.3 L550.4,574.7 L549.2,576.0 L547.7,575.9 L546.2,577.4 L544.7,576.5 L543.5,574.3 L542.3,572.3 L541.4,574.1 L540.5,576.5 L539.3,575.9 L538.1,573.5 L536.9,574.8 L535.6,574.9 L534.4,576.0 L533.1,574.9 L531.9,576.8 L530.6,577.2 L529.0,580.0 L527.4,583.4 L526.0,585.1 L524.5,585.9 L523.2,582.5 L522.0,579.0 L520.4,578.6 L518.7,577.6 L517.1,577.2 L515.9,576.4 L514.6,576.3 L513.4,574.8 L512.1,572.5 L510.9,572.2 L509.6,571.1 L508.1,571.2 L506.7,571.1 L505.7,577.9 L504.7,583.4 L503.7,583.0 L502.7,582.2 L501.2,584.9 L499.8,585.4 L498.8,578.1 L497.8,573.0 L496.6,574.1 L495.3,574.8 L493.9,576.8 L492.4,577.2 L490.8,578.6 L489.1,581.3 L487.9,583.7 L486.6,586.5 L485.4,587.5 L484.2,583.0 L483.0,580.1 L481.7,581.2 L480.5,583.0 L479.2,583.8 L477.5,578.8 L476.5,581.8 L475.5,585.0 L474.0,585.0 L472.4,585.0 L470.9,584.0 L469.4,583.8 L468.2,582.8 L466.9,581.8 L465.7,580.8 L464.5,583.0 L463.2,584.0 L462.0,586.2 L460.7,586.7 L459.5,588.1 L458.2,589.5 L457.0,585.0 L455.8,580.8 L454.6,580.6 L453.3,581.8 L452.1,580.1 L450.9,577.6 L449.6,573.9 L448.4,575.7 L447.1,578.6 L445.9,580.1 L444.7,578.9 L443.4,582.3 L442.2,583.8 L441.0,584.6 L439.7,588.2 L438.5,588.7 L437.3,589.8 L436.0,591.0 L434.8,591.2 L433.6,595.3 L432.3,599.1 L431.1,599.6 L429.8,601.7 L428.6,600.3 L427.4,600.2 L426.1,599.7 L424.9,598.6 L423.7,597.4 L422.4,593.9 L421.2,593.7 L419.9,590.1 L418.7,588.2 L417.5,591.2 L416.2,592.8 L415.0,594.9 L413.8,592.4 L412.5,589.9 L411.3,591.3 L410.1,593.7 L408.9,594.1 L407.6,591.2 L406.4,594.4 L405.1,598.6 L403.9,600.2 L402.6,599.6 L401.4,599.8 L400.2,598.1 L398.9,597.5 L397.7,596.1 L396.5,595.2 L395.2,595.1 L394.0,593.7 L392.8,598.6 L391.5,603.5 L390.3,599.3 L389.1,596.1 L387.9,596.9 L386.6,599.8 L385.4,599.6 L384.1,598.2 L382.9,598.1 L381.6,595.7 L380.4,593.7 L378.8,595.5 L377.2,596.1 L375.7,593.3 L374.2,591.2 L373.0,592.6 L371.8,593.7 L370.6,592.3 L369.3,589.5 L368.1,589.5 L367.2,590.8 L366.3,593.7 L365.1,603.8 L363.9,613.4 L362.3,616.6 L360.7,620.8 L359.0,623.6 L357.4,626.3 L355.9,621.3 L354.5,618.4 L353.3,615.2 L352.0,611.7 L350.8,608.5 L349.6,603.3 L348.3,599.7 L347.1,593.7 L345.9,591.7 L344.6,588.8 L343.4,586.2 L342.1,586.9 L340.9,588.7 L339.6,587.4 L338.4,585.0 L337.1,586.0 L335.9,587.5 L334.7,586.0 L333.4,583.3 L332.2,580.1 L331.0,581.1 L329.8,582.5 L328.6,578.7 L327.3,575.1 L326.3,576.9 L325.3,578.8 L323.6,598.6 L322.2,600.2 L320.8,600.7 L319.4,602.3 L318.4,596.6 L317.4,591.2 L316.1,582.9 L314.9,576.4 L313.7,577.2 L312.5,577.6 L311.5,576.0 L310.5,573.9 L309.2,578.0 L308.0,583.8 L306.3,578.8 L305.1,583.6 L303.8,589.9 L302.2,593.4 L300.6,596.1 L299.1,590.9 L297.7,585.0 L296.4,583.7 L295.2,583.0 L293.9,582.5 L292.7,582.8 L291.4,580.2 L290.2,578.8 L289.0,580.4 L287.8,581.3 L286.3,580.2 L284.8,576.8 L283.2,581.1 L281.6,585.0 L280.0,588.5 L278.4,593.7 L277.4,577.6 L275.9,575.1 L274.2,605.5 L272.9,601.1 L271.7,598.6 L270.4,594.8 L269.2,592.4 L268.0,590.1 L266.8,588.7 L265.6,584.8 L264.3,578.8 L263.1,578.7 L261.8,578.8 L260.6,577.9 L259.3,579.4 L258.1,579.3 L256.9,584.3 L255.7,588.7 L254.2,585.9 L252.7,583.3 L251.1,585.3 L249.5,586.2 L248.2,584.4 L247.0,585.0 L245.4,587.5 L243.8,588.7 L242.6,586.0 L241.3,581.3 L239.9,586.9 L238.4,594.9 L237.2,596.8 L235.9,598.7 L234.7,600.6 L233.4,595.4 L232.2,591.2 L230.9,592.4 L229.7,592.4 L228.4,590.8 L227.2,588.7 L226.0,587.3 L224.7,583.7 L223.5,581.3 L222.3,580.4 L221.0,578.9 L219.8,578.3 L218.6,583.8 L217.4,584.7 L216.1,583.4 L214.9,582.5 L213.3,585.0 L211.7,588.7 L210.2,584.9 L208.7,580.1 L207.4,579.4 L206.2,578.8 L204.7,578.9 L203.3,580.0 L201.8,580.1 L200.4,578.0 L199.0,575.0 L197.6,573.9 L196.2,573.8 L194.8,574.3 L193.3,574.1 L191.9,573.9 L191.1,570.7 L190.2,566.5 L189.0,567.7 L187.7,567.6 L186.5,568.9 L185.2,575.3 L184.0,580.8 L182.4,580.2 L180.7,580.4 L179.1,581.3 L177.6,582.5 L176.1,583.8 L175.1,574.5 L174.1,566.5 L173.1,565.8 L172.1,567.7 L170.4,561.5 L168.8,563.3 L167.2,564.0 L165.9,559.7 L164.7,555.4 L163.2,556.3 L161.8,556.6 L160.6,554.3 L159.3,552.4 L157.7,552.4 L156.0,552.0 L154.4,551.6 L153.1,552.6 L151.9,552.9 L150.6,554.1 L149.4,547.2 L148.2,543.0 L147.0,543.7 L145.7,540.5 L144.5,539.3 L143.5,533.3 L142.5,528.2 L141.0,530.3 L139.5,529.4 L138.1,526.7 L136.6,523.2Z"/></clipPath>
<path d="M136.6,495.1 L138.1,494.1 L139.5,493.4 L140.8,488.8 L142.0,483.5 L143.2,477.8 L144.5,472.4 L145.7,469.3 L147.0,466.0 L148.2,463.8 L149.4,461.2 L150.6,458.8 L151.4,451.4 L152.6,460.1 L154.0,459.6 L155.3,457.9 L156.7,457.1 L158.1,455.1 L159.3,450.3 L160.5,445.2 L161.9,443.0 L163.3,440.4 L164.7,437.8 L165.7,433.5 L166.7,431.6 L168.3,429.7 L170.0,427.0 L171.6,424.2 L172.8,422.1 L174.1,419.3 L175.3,419.1 L176.6,421.3 L178.2,419.0 L179.7,418.4 L181.2,417.6 L182.8,416.8 L184.0,412.9 L185.3,408.6 L186.5,404.5 L187.9,404.2 L189.4,403.2 L190.7,407.7 L191.9,413.1 L193.4,404.5 L194.8,405.6 L196.1,406.6 L197.5,406.8 L198.8,408.2 L200.4,410.2 L201.9,410.2 L203.4,411.4 L205.0,411.4 L206.6,408.1 L208.2,405.7 L209.2,411.9 L210.8,411.4 L212.5,411.7 L214.1,411.9 L215.1,404.4 L216.1,397.1 L217.6,392.8 L219.1,387.7 L220.4,389.3 L221.7,390.3 L223.0,392.1 L223.9,388.3 L224.8,385.9 L226.5,393.4 L227.9,392.1 L229.3,392.4 L230.8,390.0 L232.2,389.6 L233.4,384.9 L234.7,379.8 L235.9,372.9 L237.1,365.5 L238.7,363.9 L240.2,364.3 L241.8,364.6 L243.3,363.1 L244.5,362.7 L245.8,364.8 L247.0,366.0 L248.2,362.6 L249.5,359.4 L250.7,362.5 L251.9,366.8 L253.2,367.9 L254.4,368.4 L255.7,369.2 L256.9,362.6 L258.1,358.1 L259.4,356.2 L260.6,353.2 L262.1,353.0 L263.6,351.9 L264.8,350.1 L266.0,347.0 L267.0,349.3 L268.0,349.5 L269.2,356.9 L270.4,357.6 L271.7,357.8 L272.9,358.1 L274.1,358.4 L275.4,360.6 L276.9,354.6 L278.4,347.7 L280.0,347.2 L281.6,347.5 L283.2,354.3 L284.8,361.8 L286.1,356.0 L287.3,351.9 L288.4,348.2 L289.5,345.8 L290.9,352.8 L292.2,360.6 L293.7,362.1 L295.2,361.8 L296.4,361.0 L297.7,363.1 L299.1,357.7 L300.6,354.4 L301.9,350.9 L303.1,347.0 L304.7,348.4 L306.3,347.7 L307.6,343.5 L308.8,338.4 L310.5,347.0 L312.0,345.3 L313.4,344.4 L314.9,345.8 L316.1,337.4 L317.4,328.5 L318.6,328.0 L319.9,327.7 L321.1,328.5 L322.4,326.1 L323.6,322.3 L324.9,325.5 L326.1,327.2 L327.3,324.3 L328.5,321.1 L330.1,318.8 L331.7,316.1 L333.2,317.1 L334.7,317.4 L336.2,318.5 L337.7,317.4 L338.9,320.9 L340.1,323.5 L341.6,335.9 L342.5,331.3 L343.4,326.0 L344.6,326.2 L345.9,324.6 L347.1,325.5 L348.1,321.7 L349.0,316.1 L350.5,317.0 L352.0,316.6 L353.2,317.4 L354.5,317.4 L355.7,315.2 L357.0,315.3 L358.2,314.9 L359.4,320.4 L360.7,324.8 L362.3,324.7 L363.9,327.2 L364.8,324.3 L365.6,321.6 L366.8,322.5 L368.1,321.1 L369.3,322.3 L370.5,323.3 L371.8,322.4 L373.0,321.8 L374.2,315.7 L375.5,309.9 L376.7,304.6 L377.9,298.8 L379.1,299.0 L380.4,298.3 L381.2,293.1 L382.1,287.7 L383.1,291.4 L384.1,293.4 L385.4,293.2 L386.6,293.9 L387.8,295.7 L389.1,298.8 L390.3,300.1 L391.5,303.0 L392.8,305.2 L394.0,308.7 L395.2,306.9 L396.5,303.8 L397.7,301.1 L398.9,296.4 L399.9,298.5 L400.9,301.3 L402.1,299.1 L403.2,298.7 L404.4,297.6 L405.4,296.2 L406.4,295.1 L407.4,296.7 L408.3,298.8 L409.6,295.5 L410.8,290.2 L412.3,289.5 L413.8,290.2 L414.8,289.2 L415.8,286.5 L417.0,289.1 L418.2,293.4 L419.6,292.2 L420.9,292.6 L422.3,292.3 L423.7,290.9 L424.9,289.9 L426.1,287.7 L427.1,289.8 L428.1,291.4 L429.3,288.2 L430.4,284.9 L431.6,281.5 L432.8,286.3 L434.0,290.2 L435.5,289.6 L437.0,289.5 L438.5,288.9 L439.7,286.8 L441.0,284.0 L442.2,281.5 L443.4,284.5 L444.7,286.5 L446.3,286.2 L447.9,285.2 L449.1,288.5 L450.3,288.9 L451.7,289.8 L453.1,289.9 L454.4,290.5 L455.8,291.4 L457.0,286.4 L458.2,281.5 L459.2,277.8 L460.2,272.9 L461.7,270.8 L463.2,269.2 L464.2,270.1 L465.2,270.4 L466.4,266.7 L467.6,260.5 L468.9,259.4 L470.1,261.8 L471.6,261.0 L473.1,261.8 L474.3,258.5 L475.6,255.1 L476.8,251.4 L478.0,253.0 L479.3,253.9 L480.5,255.6 L481.7,255.0 L483.0,253.7 L484.2,252.4 L485.4,270.4 L486.6,270.9 L487.9,273.8 L489.1,272.9 L490.1,276.2 L491.1,279.1 L492.8,271.6 L494.0,270.4 L495.3,269.9 L496.5,269.2 L497.7,265.3 L498.8,261.8 L500.0,258.1 L501.2,253.8 L502.5,253.3 L503.7,253.8 L505.0,255.7 L506.2,255.8 L507.8,261.8 L509.4,269.4 L510.8,268.1 L512.2,267.6 L513.6,265.7 L515.2,263.8 L516.8,260.7 L518.0,263.2 L519.3,263.7 L520.8,261.3 L522.2,261.2 L523.5,265.7 L524.7,270.6 L526.2,272.2 L527.7,274.3 L529.2,274.6 L530.6,274.7 L532.1,273.8 L533.4,269.1 L534.6,268.1 L535.8,268.5 L537.1,266.3 L538.3,266.9 L539.5,264.0 L540.8,260.2 L541.6,259.7 L542.5,261.2 L543.5,259.6 L544.5,257.7 L545.7,258.5 L546.9,257.7 L548.1,254.4 L549.4,251.3 L550.6,250.9 L551.9,250.7 L553.1,249.6 L554.4,249.7 L555.6,249.6 L557.3,253.8 L558.3,246.1 L559.3,238.5 L560.5,243.9 L561.8,247.1 L562.8,248.7 L563.7,248.9 L565.2,244.1 L566.7,239.7 L567.9,239.6 L569.2,234.8 L570.4,233.5 L571.6,231.9 L572.9,229.1 L574.1,231.1 L575.4,233.5 L576.6,233.6 L577.9,234.0 L579.1,233.5 L580.3,231.2 L581.5,228.6 L582.7,226.0 L584.0,221.5 L585.2,219.5 L586.8,220.7 L588.4,224.1 L589.9,226.8 L591.4,228.6 L592.4,229.8 L593.4,232.3 L594.9,228.5 L596.4,226.1 L597.6,225.7 L598.8,227.4 L599.8,231.3 L600.8,233.5 L602.3,232.2 L603.8,229.8 L605.2,231.5 L606.7,231.1 L607.7,228.2 L608.7,226.6 L609.7,232.6 L610.7,238.5 L612.4,234.0 L614.1,231.1 L615.1,235.1 L616.1,238.0 L617.1,236.5 L618.1,232.8 L619.6,233.8 L621.1,236.0 L622.3,238.7 L623.6,240.0 L624.8,240.9 L626.0,240.0 L627.3,237.9 L628.5,238.5 L629.7,239.5 L631.0,238.4 L632.2,238.5 L633.5,235.3 L634.7,233.0 L635.9,236.3 L637.2,239.4 L638.4,242.2 L639.3,243.2 L640.3,242.2 L641.8,234.1 L643.3,227.4 L644.5,225.7 L645.8,222.4 L647.0,222.2 L648.2,219.9 L649.7,223.0 L651.2,224.1 L652.7,223.4 L654.2,222.4 L655.7,222.4 L656.9,214.5 L658.1,205.1 L659.3,207.1 L660.6,209.0 L661.8,210.8 L663.4,210.8 L665.0,208.8 L665.9,206.8 L666.8,205.1 L667.6,206.0 L668.5,210.1 L670.1,207.3 L671.7,205.1 L673.3,198.9 L674.9,195.2 L676.1,195.2 L677.4,194.0 L678.9,194.5 L680.4,194.5 L681.3,201.2 L682.3,208.8 L683.5,214.3 L684.8,219.9 L686.3,219.9 L687.8,218.7 L689.0,219.8 L690.2,220.7 L691.5,222.2 L692.7,221.9 L693.9,221.0 L695.2,220.8 L696.4,219.2 L698.0,221.0 L699.6,220.7 L701.1,219.8 L702.6,216.7 L703.8,215.7 L705.1,216.2 L706.3,215.0 L707.5,208.7 L708.8,205.1 L710.0,205.0 L711.2,206.4 L712.9,201.9 L714.5,200.2 L715.4,202.1 L716.2,202.6 L717.9,189.1 L719.1,187.0 L720.4,186.6 L722.0,187.2 L723.6,187.8 L724.9,191.4 L726.1,195.2 L727.3,197.6 L728.6,199.7 L729.8,202.6 L731.0,204.7 L732.3,207.7 L733.5,208.3 L734.7,204.0 L736.0,199.9 L737.2,195.2 L738.4,192.2 L739.7,187.7 L740.9,184.1 L742.1,180.5 L743.4,178.7 L744.6,186.0 L745.8,194.0 L746.7,198.5 L747.6,201.4 L749.0,196.5 L750.2,197.2 L751.5,200.2 L752.9,199.5 L754.3,200.4 L755.7,199.4 L756.9,199.2 L758.2,197.8 L759.4,197.0 L760.9,196.1 L762.4,194.0 L764.0,182.1 L765.6,170.0 L767.2,170.7 L768.8,173.0 L770.3,171.3 L771.8,171.8 L773.0,174.4 L774.2,177.9 L775.5,181.4 L776.7,183.6 L778.2,182.6 L779.7,182.4 L780.7,185.1 L781.7,189.1 L783.1,198.4 L784.6,186.6 L786.2,184.8 L787.8,184.1 L788.7,180.8 L789.6,179.7 L790.5,188.6 L791.5,197.7 L792.5,197.7 L793.5,199.4 L795.0,195.1 L796.5,190.3 L797.7,189.9 L798.9,192.8 L800.2,191.6 L801.4,189.6 L802.7,188.6 L803.9,185.3 L805.2,185.3 L806.4,182.9 L807.3,182.1 L808.3,181.6 L809.2,182.5 L810.1,186.6 L811.3,184.7 L812.5,184.1 L813.9,179.4 L815.3,173.9 L816.7,169.3 L818.4,171.1 L820.0,171.8 L821.2,174.2 L822.4,175.5 L823.3,174.7 L824.2,173.0 L825.6,176.7 L827.1,173.5 L828.6,169.8 L829.8,170.2 L831.1,169.1 L832.3,168.1 L833.5,168.0 L834.8,167.3 L836.2,168.6 L837.6,173.4 L839.0,175.5 L840.6,172.1 L842.2,166.8 L843.4,164.5 L844.7,162.3 L845.9,160.6 L847.1,160.7 L848.4,156.9 L849.6,156.9 L850.9,157.0 L852.1,156.4 L853.3,162.1 L854.5,164.4 L855.8,162.3 L857.0,161.4 L858.2,162.7 L859.5,163.1 L860.7,163.9 L862.0,161.9 L863.2,161.4 L864.5,155.8 L865.7,149.5 L866.9,150.6 L868.2,149.7 L869.4,150.8 L870.6,150.1 L871.8,149.5 L872.7,154.7 L873.6,159.4 L874.8,155.7 L876.0,150.8 L877.2,154.3 L878.5,157.7 L879.7,161.4 L881.4,155.4 L883.0,150.8 L884.0,146.8 L884.9,143.4 L886.1,144.0 L887.2,143.5 L888.4,143.4 L889.6,147.5 L890.7,152.2 L891.9,157.5 L893.1,166.2 L894.3,171.1 L895.5,178.0 L896.6,183.4 L897.5,180.7 L898.5,177.2 L899.8,176.6 L901.0,179.7 L902.2,178.9 L903.5,177.6 L904.7,176.0 L905.7,178.4 L906.7,178.5 L908.4,169.8 L909.6,174.4 L910.9,178.5 L912.1,175.4 L913.4,172.3 L914.2,174.5 L915.1,176.0 L916.1,172.8 L917.1,172.3 L918.3,173.4 L919.6,173.3 L920.8,173.5 L922.4,174.9 L924.0,177.2 L924.9,173.2 L925.7,167.4 L927.0,170.5 L928.2,171.1 L929.9,168.1 L931.5,172.3 L933.1,178.5 L934.8,171.6 L936.5,173.7 L938.1,176.7 L939.3,176.0 L940.5,174.8 L941.9,171.6 L943.3,167.9 L944.7,164.9 L946.3,160.9 L947.9,158.2 L949.5,164.3 L951.2,167.4 L952.4,165.6 L953.6,162.4 L954.5,161.0 L955.4,161.2 L956.6,152.2 L957.8,145.1 L959.0,150.6 L960.3,153.8 L961.5,159.2 L962.8,163.2 L964.0,162.2 L965.2,158.7 L966.8,164.8 L968.4,169.8 L969.9,172.5 L971.4,176.5 L972.6,171.5 L973.9,166.1 L974.9,163.6 L975.9,164.1 L977.3,166.4 L978.8,169.8 L979.8,172.9 L980.8,176.0 L981.6,173.9 L982.5,171.1 L983.8,173.0 L985.0,176.0 L986.2,176.2 L987.5,176.5 L988.7,179.7 L989.9,182.2 L991.5,183.7 L993.2,184.7 L994.7,187.0 L996.1,188.4 L997.4,191.0 L998.6,193.3 L999.9,189.4 L1001.1,185.9 L1002.6,186.2 L1004.0,185.4 L1005.5,185.1 L1006.8,180.0 L1008.0,176.0 L1009.5,173.7 L1010.9,172.3 L1012.1,171.9 L1013.4,171.6 L1014.7,176.0 L1015.9,170.0 L1017.1,164.1 L1018.3,164.2 L1019.6,164.1 L1020.8,164.1 L1022.5,164.2 L1024.1,164.0 L1025.8,164.1 L1027.4,162.3 L1029.1,162.5 L1030.7,161.2 L1032.2,161.3 L1033.8,160.3 L1035.4,159.2 L1036.9,158.7 L1038.5,155.3 L1040.1,151.3 L1041.6,150.0 L1043.1,150.1 L1044.3,148.8 L1045.6,150.1 L1046.8,150.1 L1048.0,146.9 L1049.2,145.1 L1050.5,146.3 L1051.7,146.4 L1052.9,144.6 L1054.2,142.6 L1055.4,143.4 L1056.6,141.8 L1057.9,142.8 L1059.1,140.9 L1060.7,142.7 L1062.3,145.1 L1063.5,143.3 L1064.6,142.9 L1065.8,142.6 L1067.4,145.5 L1069.0,147.6 L1070.2,151.0 L1071.5,153.8 L1072.3,158.2 L1073.2,162.4 L1074.8,165.0 L1076.4,165.6 L1077.7,165.7 L1078.9,164.9 L1080.2,169.2 L1081.4,173.5 L1082.6,173.5 L1083.9,173.9 L1085.1,172.3 L1086.3,168.9 L1087.5,164.1 L1088.5,164.0 L1089.5,162.4 L1090.8,168.7 L1092.0,176.5 L1093.2,173.7 L1094.5,171.1 L1095.7,171.0 L1096.9,169.8 L1098.2,162.2 L1099.4,155.0 L1100.7,154.9 L1101.9,153.3 L1103.6,158.2 L1104.4,151.5 L1105.3,143.9 L1106.9,145.8 L1108.5,146.4 L1109.8,148.7 L1111.0,151.3 L1112.6,156.8 L1114.2,158.7 L1115.4,153.6 L1116.5,146.7 L1117.7,140.9 L1118.7,140.6 L1119.7,140.2 L1120.9,139.9 L1122.1,136.0 L1123.1,140.3 L1124.1,145.1 L1124.9,148.6 L1125.8,150.8 L1127.0,151.3 L1128.3,150.3 L1129.5,150.1 L1130.8,146.4 L1132.0,146.2 L1133.3,147.8 L1134.5,148.3 L1135.7,149.7 L1137.0,151.4 L1138.2,151.8 L1139.5,155.8 L1140.7,158.7 L1141.6,159.3 L1142.4,159.9 L1144.0,159.3 L1145.6,157.5 L1147.2,157.2 L1148.8,156.2 L1150.0,152.0 L1151.3,147.6 L1152.5,145.1 L1153.7,142.6 L1155.0,139.4 L1156.2,136.5 L1157.2,125.4 L1158.2,128.9 L1159.2,131.5 L1160.4,125.4 L1161.7,129.0 L1162.9,134.0 L1164.1,125.4 L1165.3,124.0 L1166.6,123.4 L1167.8,124.6 L1169.1,124.8 L1170.3,127.1 L1171.5,126.8 L1172.8,127.1 L1174.0,129.7 L1175.2,135.2 L1176.4,134.7 L1177.7,135.6 L1178.9,135.2 L1180.2,115.5 L1181.2,111.8 L1182.2,107.3 L1183.3,111.4 L1184.4,115.5 L1185.4,116.5 L1186.4,117.9 L1187.3,116.1 L1188.3,116.2 L1189.3,126.6 L1190.5,126.0 L1191.8,122.9 L1193.4,122.6 L1195.0,121.6 L1196.2,126.1 L1197.5,128.4 L1198.7,132.8 L1200.0,129.6 L1201.2,126.6 L1202.4,122.0 L1203.7,120.5 L1204.9,116.7 L1206.2,116.4 L1207.4,114.7 L1208.6,118.1 L1209.8,124.1 L1211.0,125.9 L1212.3,127.8 L1213.5,131.3 L1214.8,134.0 L1216.0,124.1 L1217.2,116.7 L1218.5,116.7 L1219.7,119.2 L1221.0,122.5 L1222.2,127.3 L1223.5,125.0 L1224.7,123.6 L1225.9,121.0 L1227.1,120.4 L1228.3,118.3 L1229.6,116.2 L1230.8,120.3 L1232.1,124.1 L1232.9,127.6 L1233.8,130.3 L1235.4,130.2 L1237.0,129.1 L1238.2,126.7 L1239.5,122.1 L1240.8,124.6 L1242.1,125.4 L1243.3,122.0 L1244.5,120.4 L1245.4,123.1 L1246.3,126.6 L1247.2,129.6 L1248.2,134.0 L1249.5,128.9 L1250.7,125.4 L1252.0,122.8 L1253.2,120.4 L1254.2,115.9 L1255.2,111.3 L1256.1,116.8 L1256.9,121.6 L1258.2,117.4 L1259.4,115.5 L1260.6,115.9 L1261.9,118.0 L1263.1,119.2 L1264.3,117.8 L1265.5,116.7 L1266.7,116.5 L1268.0,116.7 L1269.2,116.7 L1270.5,118.0 L1271.7,120.4 L1272.6,117.2 L1273.4,113.0 L1275.0,113.6 L1276.6,113.7 L1277.8,112.4 L1279.1,111.3 L1279.9,114.1 L1280.8,117.9 L1282.3,96.9 L1283.2,89.4 L1284.1,82.1 L1285.3,80.4 L1286.5,82.6 L1287.4,81.4 L1288.3,81.6 L1289.2,85.6 L1290.2,89.5 L1291.2,90.3 L1292.2,93.2 L1293.7,92.1 L1295.2,90.8 L1296.2,92.8 L1297.2,94.5 L1298.1,90.4 L1298.9,88.3 L1300.2,87.5 L1301.4,87.1 L1302.6,87.5 L1303.8,88.3 L1305.0,86.8 L1306.3,84.6 L1307.5,82.8 L1308.8,80.1 L1310.4,79.8 L1312.0,79.6 L1312.8,72.9 L1313.7,67.3 L1314.6,66.9 L1315.4,66.8 L1316.7,71.3 L1317.9,75.9 L1318.9,81.4 L1319.9,85.8 L1320.9,91.0 L1321.9,95.7 L1323.3,98.3 L1324.8,101.9 L1326.3,99.1 L1327.8,98.2 L1329.0,100.4 L1330.3,103.1 L1331.9,106.9 L1333.5,111.8 L1334.7,112.0 L1335.9,113.7 L1337.6,114.1 L1339.2,114.7 L1340.7,112.3 L1342.1,110.5 L1343.3,109.7 L1344.6,108.8 L1345.6,112.1 L1346.6,114.7 L1347.4,117.3 L1348.3,120.4 L1349.5,122.0 L1350.8,120.4 L1352.0,120.8 L1353.2,121.6 L1354.5,117.5 L1355.7,111.8 L1357.0,110.9 L1358.2,109.8 L1359.8,113.0 L1361.4,114.7 L1362.9,115.9 L1364.4,120.4 L1365.6,120.9 L1366.9,122.7 L1368.1,123.6 L1369.3,124.6 L1370.6,126.4 L1371.8,125.4 L1373.0,125.0 L1374.3,125.1 L1375.5,123.6 L1376.7,123.9 L1378.0,123.8 L1379.2,122.9 L1380.2,125.4 L1381.2,127.1 L1382.7,123.6 L1384.1,120.4 L1385.3,119.5 L1386.6,117.9 L1387.8,118.4 L1389.1,120.4 L1390.3,120.0 L1391.5,117.9 L1392.8,118.4 L1394.0,120.4 L1395.2,121.6 L1396.5,124.0 L1397.7,123.6 L1399.0,121.2 L1400.2,119.2 L1401.8,117.7 L1403.4,116.2 L1405.1,126.6 L1406.3,130.5 L1407.6,132.8 L1408.8,133.1 L1410.1,132.7 L1411.3,133.5 L1412.5,134.2 L1413.8,134.5 L1415.0,128.5 L1416.2,121.6 L1417.5,119.2 L1418.7,122.1 L1419.9,124.1 L1421.2,116.2 L1422.4,123.6 L1423.6,121.2 L1424.9,121.0 L1426.1,117.9 L1427.3,118.0 L1428.6,115.8 L1429.8,114.7 L1431.0,115.4 L1432.3,115.4 L1433.5,116.2 L1434.7,116.1 L1436.0,113.6 L1437.2,113.0 L1438.5,115.3 L1439.7,116.7 L1441.0,120.1 L1442.2,124.1 L1443.8,125.9 L1445.4,128.6 L1446.9,123.8 L1448.4,117.9 L1449.6,117.2 L1450.8,114.7 L1452.0,114.1 L1453.3,113.1 L1454.5,113.0 L1455.4,121.6 L1456.3,129.1 L1457.2,137.5 L1458.2,145.9 L1459.5,142.9 L1460.7,139.4 L1462.0,137.8 L1463.2,134.0 L1464.7,136.0 L1466.1,136.5 L1467.3,138.8 L1468.6,141.9 L1469.6,144.5 L1470.6,143.9 L1471.8,137.7 L1473.1,131.5 L1474.3,128.4 L1475.5,124.1 L1477.0,121.4 L1478.5,119.7 L1479.8,119.2 L1481.0,118.7 L1482.6,119.6 L1484.2,122.9 L1485.5,124.8 L1486.7,124.1 L1487.6,128.8 L1488.4,131.5 L1489.4,135.0 L1490.4,140.2 L1491.6,141.0 L1492.8,143.9 L1494.0,142.5 L1495.3,143.4 L1496.5,144.2 L1497.8,143.1 L1499.0,143.4 L1500.2,145.5 L1501.5,147.6 L1502.7,147.8 L1504.0,148.3 L1505.2,148.8 L1506.4,149.0 L1507.7,150.8 L1508.9,151.8 L1510.1,153.5 L1511.4,157.1 L1512.6,159.9 L1514.1,158.9 L1515.6,157.5 L1516.5,158.7 L1517.5,159.2 L1518.7,158.5 L1520.0,157.4 L1521.2,157.5 L1522.4,158.0 L1523.7,158.0 L1524.9,158.7 L1526.2,161.0 L1527.4,161.7 L1528.7,162.4 L1529.6,166.0 L1530.4,169.8 L1531.3,165.2 L1532.3,161.2 L1533.4,162.2 L1534.6,163.5 L1535.7,165.6 L1537.2,167.5 L1538.7,169.8 L1540.1,171.9 L1541.5,173.5 L1542.7,176.4 L1543.8,178.5 L1545.0,184.7 L1545.4,193.3 L1545.4,194.0 L1545.0,203.1 L1543.8,210.5 L1542.7,210.8 L1541.5,211.8 L1540.3,215.5 L1539.2,219.2 L1538.2,221.9 L1537.3,224.1 L1535.7,229.6 L1534.6,233.4 L1533.4,236.5 L1531.8,246.8 L1530.6,246.4 L1529.4,246.4 L1527.8,248.0 L1526.2,247.6 L1525.0,251.3 L1523.7,252.5 L1522.5,254.5 L1521.2,256.2 L1520.0,258.2 L1518.8,259.9 L1517.5,263.7 L1516.3,266.1 L1515.4,270.0 L1514.6,271.1 L1513.6,275.7 L1512.6,278.5 L1511.3,278.7 L1510.1,278.5 L1508.9,279.5 L1507.7,281.0 L1506.5,285.4 L1505.2,290.9 L1504.0,295.0 L1502.7,298.3 L1501.5,295.9 L1500.2,294.2 L1499.0,294.1 L1497.8,294.9 L1496.5,296.6 L1495.3,297.4 L1494.0,296.4 L1492.8,298.3 L1491.3,299.1 L1489.9,303.2 L1488.9,300.1 L1487.9,299.0 L1486.9,302.8 L1485.9,308.2 L1484.4,307.8 L1482.9,308.9 L1481.7,302.5 L1480.5,304.8 L1479.2,304.0 L1478.3,301.6 L1477.5,299.0 L1475.9,298.8 L1474.3,299.5 L1473.1,301.2 L1471.8,301.3 L1470.6,303.2 L1469.4,305.7 L1468.1,306.5 L1466.9,310.6 L1465.7,311.8 L1464.4,313.1 L1463.2,317.1 L1461.9,320.0 L1460.7,320.2 L1459.5,320.5 L1458.2,319.8 L1457.0,319.3 L1455.8,316.3 L1454.5,313.1 L1453.3,314.2 L1452.1,315.6 L1450.8,318.5 L1449.6,320.5 L1448.3,327.0 L1447.1,331.6 L1445.9,335.9 L1444.7,340.3 L1443.5,332.7 L1442.2,326.7 L1441.0,321.7 L1439.7,316.3 L1438.5,317.0 L1437.2,318.1 L1436.0,321.4 L1434.8,326.2 L1433.5,324.1 L1432.3,323.0 L1431.0,324.5 L1429.8,326.2 L1428.2,326.7 L1426.6,329.7 L1424.9,330.8 L1423.2,332.9 L1422.2,331.4 L1421.2,327.9 L1420.2,325.7 L1419.2,324.7 L1418.3,329.0 L1417.5,332.9 L1416.2,337.9 L1415.0,342.8 L1413.8,340.0 L1412.5,336.6 L1411.7,334.8 L1410.8,332.9 L1409.2,336.4 L1407.6,341.5 L1406.4,340.7 L1405.1,339.1 L1403.9,339.1 L1402.4,339.7 L1400.9,340.3 L1399.7,342.8 L1398.5,345.2 L1397.0,358.8 L1396.0,371.2 L1394.8,373.5 L1393.5,373.2 L1392.0,381.1 L1391.2,379.0 L1390.3,379.1 L1389.0,381.5 L1387.8,383.5 L1386.6,385.2 L1385.3,387.4 L1384.1,387.2 L1382.9,388.4 L1381.6,388.2 L1380.4,389.0 L1379.2,388.1 L1377.9,388.0 L1376.7,385.3 L1375.5,382.3 L1374.6,377.3 L1373.7,372.4 L1372.5,371.4 L1371.3,372.4 L1370.3,379.5 L1369.3,384.8 L1368.0,384.4 L1366.8,383.5 L1365.6,385.4 L1364.3,388.0 L1363.1,389.7 L1361.4,386.5 L1360.2,386.9 L1358.9,387.2 L1357.9,390.9 L1356.9,392.9 L1355.7,393.0 L1354.5,392.2 L1353.5,384.7 L1352.5,374.9 L1351.0,374.8 L1349.5,374.1 L1348.3,367.5 L1347.1,361.8 L1346.1,368.6 L1345.1,374.9 L1343.4,372.4 L1342.2,373.7 L1340.9,374.8 L1339.7,373.7 L1338.2,379.3 L1336.7,384.8 L1335.4,384.8 L1334.0,386.7 L1332.7,386.0 L1331.8,383.5 L1331.0,382.3 L1329.4,380.6 L1327.8,379.8 L1326.3,377.7 L1324.8,376.1 L1323.6,373.6 L1322.4,372.4 L1320.9,374.3 L1319.4,376.1 L1317.8,383.9 L1316.2,389.7 L1315.0,389.2 L1313.7,387.6 L1312.5,387.2 L1311.2,384.5 L1310.0,383.5 L1308.8,383.9 L1307.5,383.3 L1306.3,382.3 L1305.4,392.6 L1304.6,401.3 L1303.3,397.7 L1302.1,393.4 L1301.1,395.7 L1300.1,397.9 L1299.1,401.8 L1298.1,403.3 L1296.4,399.6 L1295.2,402.5 L1293.9,403.3 L1292.7,405.6 L1291.5,409.0 L1290.2,408.0 L1289.0,408.2 L1287.8,410.7 L1286.5,413.7 L1285.3,412.7 L1284.0,413.4 L1282.8,411.9 L1281.6,412.9 L1280.3,414.0 L1279.1,414.4 L1277.9,415.3 L1276.6,415.3 L1275.4,415.7 L1274.4,414.1 L1273.4,411.2 L1272.6,413.9 L1271.7,416.9 L1270.5,418.0 L1269.2,419.7 L1268.0,420.6 L1266.8,421.3 L1265.5,421.3 L1264.3,421.8 L1263.0,415.4 L1261.8,411.9 L1260.6,412.1 L1259.4,413.2 L1257.8,414.1 L1256.1,416.1 L1254.9,419.0 L1253.7,421.8 L1252.2,417.6 L1250.7,412.7 L1249.5,412.9 L1248.2,413.0 L1247.0,413.2 L1245.8,413.9 L1244.5,414.8 L1243.3,416.9 L1242.0,414.0 L1240.8,412.9 L1239.5,412.8 L1238.2,409.0 L1237.0,406.1 L1235.8,409.4 L1234.5,412.3 L1233.3,413.7 L1232.0,415.6 L1230.8,417.2 L1229.6,415.2 L1228.4,412.8 L1227.2,414.0 L1225.9,416.0 L1224.7,418.2 L1223.4,418.5 L1222.2,420.6 L1221.0,424.2 L1220.0,421.9 L1219.0,419.7 L1217.8,421.9 L1216.5,422.2 L1215.2,419.8 L1214.0,418.5 L1212.8,429.8 L1211.6,440.7 L1210.7,436.5 L1209.8,433.3 L1208.6,434.7 L1207.4,437.0 L1206.5,433.1 L1205.6,426.6 L1204.7,431.1 L1203.7,432.1 L1202.5,429.6 L1201.2,428.4 L1200.0,428.7 L1198.7,431.6 L1197.5,429.7 L1196.2,429.1 L1195.0,431.5 L1193.7,432.2 L1192.5,434.5 L1191.3,435.7 L1190.0,438.4 L1188.8,439.5 L1187.6,438.3 L1186.4,435.8 L1184.9,434.4 L1183.4,430.8 L1181.8,438.8 L1180.2,445.6 L1179.3,446.8 L1178.5,450.6 L1177.2,447.5 L1176.0,445.6 L1174.8,452.3 L1173.5,456.3 L1172.5,463.6 L1171.5,469.1 L1170.3,463.1 L1169.1,456.8 L1168.1,453.3 L1167.1,448.9 L1165.4,454.8 L1164.5,453.9 L1163.6,453.1 L1162.7,445.9 L1161.7,440.0 L1160.5,440.3 L1159.2,439.5 L1158.2,441.5 L1157.2,443.2 L1156.3,441.3 L1155.5,439.5 L1154.6,432.7 L1153.7,429.1 L1152.1,428.4 L1150.5,428.4 L1149.3,431.0 L1148.1,433.3 L1146.8,436.7 L1145.6,440.7 L1144.3,441.1 L1143.1,440.7 L1141.4,445.6 L1140.4,451.4 L1139.4,458.0 L1138.2,455.6 L1136.9,453.1 L1135.5,452.1 L1134.0,450.6 L1132.8,448.1 L1131.5,444.4 L1130.5,445.9 L1129.5,450.6 L1128.3,452.8 L1127.1,454.3 L1125.8,454.1 L1124.6,454.3 L1123.4,462.9 L1122.2,469.5 L1120.9,475.3 L1119.7,474.8 L1118.4,474.1 L1117.2,472.7 L1115.9,476.8 L1114.7,475.3 L1113.5,479.3 L1112.2,482.0 L1111.0,478.0 L1109.8,476.5 L1108.8,473.9 L1107.8,471.6 L1106.9,458.7 L1106.1,449.4 L1105.2,455.5 L1104.3,458.7 L1103.1,461.9 L1101.9,465.4 L1100.3,465.8 L1098.7,465.4 L1097.8,460.4 L1096.9,455.5 L1095.9,456.1 L1094.9,458.0 L1093.5,459.2 L1092.0,460.5 L1091.0,465.2 L1090.0,470.4 L1088.8,462.9 L1087.6,462.5 L1086.3,464.4 L1085.1,465.4 L1083.9,465.4 L1082.6,465.7 L1081.4,466.2 L1080.2,469.5 L1078.9,472.8 L1078.1,473.2 L1077.2,474.1 L1076.0,472.0 L1074.7,469.1 L1073.7,474.1 L1072.7,477.8 L1071.7,482.4 L1070.7,485.9 L1069.2,486.7 L1067.8,486.4 L1066.2,484.9 L1064.7,483.0 L1063.1,481.9 L1061.6,480.2 L1060.2,479.4 L1058.8,478.2 L1057.4,479.0 L1056.4,476.0 L1055.4,472.8 L1054.2,476.5 L1052.9,480.2 L1052.0,477.2 L1051.0,475.3 L1049.5,477.3 L1048.0,479.0 L1046.8,481.4 L1045.5,482.2 L1044.3,483.4 L1042.7,482.7 L1041.1,483.4 L1039.6,487.6 L1038.1,490.9 L1037.1,489.6 L1036.1,490.1 L1034.9,485.6 L1033.7,480.2 L1032.5,480.3 L1031.2,482.0 L1029.7,483.8 L1028.2,486.4 L1027.0,486.6 L1025.8,487.6 L1024.5,491.7 L1023.3,496.8 L1022.1,493.3 L1020.9,492.6 L1019.6,493.3 L1018.0,490.8 L1016.4,488.9 L1014.9,490.3 L1013.4,491.4 L1012.1,490.6 L1010.9,490.1 L1009.7,488.5 L1008.5,486.9 L1007.2,489.1 L1006.0,490.9 L1004.8,494.5 L1003.5,496.3 L1002.5,494.2 L1001.6,495.1 L1000.1,495.2 L998.6,495.8 L997.0,497.2 L995.3,498.2 L993.7,498.8 L992.4,500.0 L991.2,500.6 L989.9,502.5 L988.2,496.8 L986.6,499.4 L985.0,500.7 L983.6,500.6 L982.2,499.8 L980.8,500.0 L979.8,497.8 L978.8,495.1 L977.6,495.9 L976.4,495.1 L975.4,490.6 L974.4,488.4 L973.1,493.1 L971.9,498.8 L970.4,503.9 L968.9,508.7 L967.7,510.0 L966.4,512.2 L965.2,513.6 L964.0,520.4 L962.8,528.4 L961.1,532.9 L959.5,535.5 L957.8,539.5 L956.2,544.5 L954.6,548.2 L953.2,548.4 L951.8,548.3 L950.4,548.7 L949.1,545.0 L947.9,542.7 L946.7,546.6 L945.5,546.9 L944.2,551.6 L943.0,555.6 L941.8,555.1 L940.5,554.4 L939.6,550.2 L938.8,549.4 L937.3,553.1 L936.0,553.1 L934.8,551.9 L933.3,551.8 L931.9,550.7 L930.6,543.9 L929.4,535.8 L928.4,532.9 L927.4,530.4 L926.0,527.8 L924.5,528.4 L923.3,525.2 L922.0,521.3 L920.8,517.3 L919.2,511.7 L917.6,504.9 L916.7,505.2 L915.8,506.7 L914.1,500.0 L912.9,501.1 L911.6,501.2 L910.0,506.4 L908.4,509.9 L907.2,513.1 L905.9,517.7 L904.7,523.0 L903.5,523.1 L902.2,523.9 L901.0,523.0 L899.4,520.3 L897.8,517.3 L896.1,520.5 L894.8,519.4 L893.4,519.1 L892.2,524.0 L891.0,527.2 L889.5,521.9 L888.1,519.1 L886.4,518.8 L884.7,517.3 L883.5,528.4 L882.6,531.3 L881.7,536.5 L880.9,531.9 L880.0,527.2 L878.9,525.8 L877.7,521.4 L876.2,518.6 L874.8,516.7 L873.9,518.4 L873.0,520.2 L872.1,527.3 L871.3,533.6 L869.8,533.4 L868.2,532.1 L866.7,534.0 L865.5,537.8 L864.2,538.4 L862.5,539.0 L860.9,537.9 L859.2,538.4 L858.0,538.6 L856.7,536.8 L855.5,536.5 L854.3,538.5 L853.0,536.7 L851.8,537.7 L850.6,537.6 L849.3,536.4 L848.1,536.5 L846.7,538.0 L845.2,537.7 L843.6,541.4 L842.0,543.9 L840.7,561.2 L839.5,556.2 L837.8,556.4 L836.2,556.9 L834.5,557.5 L833.3,561.3 L832.1,564.1 L830.8,558.7 L829.6,559.2 L828.4,561.2 L827.2,562.6 L825.9,564.0 L824.7,564.9 L823.8,560.4 L822.9,557.5 L822.0,553.1 L821.0,548.3 L819.5,549.0 L818.0,548.8 L816.8,538.1 L815.5,527.8 L814.5,529.9 L813.5,532.8 L812.3,536.3 L811.1,540.2 L809.6,545.5 L808.1,550.8 L806.5,544.3 L804.9,536.5 L803.6,534.9 L802.4,534.0 L800.8,531.3 L799.2,529.1 L797.7,531.2 L796.2,531.5 L794.8,528.4 L793.3,525.4 L791.8,535.2 L790.1,534.0 L788.9,535.6 L787.6,536.8 L786.4,537.7 L784.9,541.2 L783.4,543.4 L782.1,541.5 L780.9,539.4 L779.3,540.4 L777.7,542.6 L776.5,541.2 L775.2,541.4 L774.0,540.9 L772.5,543.3 L771.0,545.1 L769.4,547.9 L767.8,548.3 L766.1,540.2 L765.1,543.2 L764.1,546.4 L762.9,545.2 L761.7,545.1 L760.2,546.9 L758.7,547.6 L757.5,528.6 L756.2,536.5 L755.0,536.2 L753.7,536.5 L752.1,538.6 L750.5,539.4 L749.3,541.2 L748.1,543.4 L746.9,544.0 L745.6,543.2 L744.4,542.6 L742.9,540.8 L741.4,538.4 L740.4,543.7 L739.4,548.8 L738.2,543.4 L737.0,543.6 L735.7,542.6 L734.1,544.4 L732.5,548.8 L731.0,549.0 L729.5,547.6 L728.3,546.7 L727.0,544.2 L725.8,544.4 L724.6,546.0 L723.4,547.6 L722.0,549.6 L720.6,549.9 L719.2,552.5 L718.0,555.4 L716.7,557.5 L715.5,556.8 L714.2,556.2 L713.0,558.2 L711.7,561.2 L710.8,560.3 L709.8,556.7 L708.6,558.5 L707.3,563.5 L706.1,567.4 L704.9,564.4 L703.6,562.4 L702.4,561.1 L701.1,557.5 L699.5,555.8 L697.9,552.5 L696.4,554.9 L694.9,556.2 L693.5,559.7 L692.0,563.2 L691.0,560.5 L690.0,558.7 L688.8,556.2 L687.5,553.8 L686.3,552.5 L685.0,551.2 L683.8,550.8 L682.6,551.8 L681.4,553.8 L680.2,555.3 L678.9,556.0 L677.7,557.5 L676.2,558.4 L674.7,558.3 L673.2,560.7 L672.4,557.2 L671.5,553.8 L669.9,550.0 L668.3,547.6 L667.0,548.4 L665.8,550.8 L664.3,553.0 L662.8,553.8 L661.3,556.6 L659.9,559.2 L658.6,563.8 L657.4,569.8 L655.9,564.9 L654.4,564.3 L652.9,564.1 L651.7,560.9 L650.5,556.7 L649.3,560.9 L648.0,564.1 L646.8,567.4 L645.5,566.7 L644.3,566.1 L642.7,567.2 L641.1,571.1 L639.6,572.0 L638.1,569.8 L636.6,570.3 L635.2,566.4 L633.7,566.1 L632.2,562.8 L630.7,559.2 L629.5,565.7 L628.2,570.7 L627.0,576.0 L626.1,571.1 L625.3,566.1 L623.8,588.4 L622.5,597.5 L621.3,604.4 L619.8,607.9 L618.4,610.6 L617.4,609.1 L616.4,608.1 L614.7,599.5 L613.5,597.7 L612.2,595.8 L610.6,595.2 L609.0,593.3 L607.8,597.7 L606.5,602.7 L605.0,600.1 L603.5,598.2 L602.0,597.7 L600.6,598.2 L599.6,590.7 L598.6,585.4 L597.4,590.5 L596.1,594.5 L594.9,590.1 L593.7,587.9 L592.4,590.5 L591.2,592.1 L589.9,594.5 L588.3,594.9 L586.7,594.5 L585.2,596.1 L583.8,597.0 L582.5,595.7 L581.3,595.8 L579.7,596.1 L578.0,595.4 L576.4,595.8 L574.9,596.9 L573.4,599.0 L571.9,590.8 L570.6,593.7 L569.4,593.3 L568.2,593.5 L567.0,592.1 L565.5,586.0 L564.0,579.7 L562.8,576.6 L561.5,573.8 L560.3,570.6 L559.1,570.3 L557.8,571.8 L556.6,571.1 L555.4,572.8 L554.1,575.5 L552.9,576.0 L551.6,572.3 L550.4,574.7 L549.2,576.0 L547.7,575.9 L546.2,577.4 L544.7,576.5 L543.5,574.3 L542.3,572.3 L541.4,574.1 L540.5,576.5 L539.3,575.9 L538.1,573.5 L536.9,574.8 L535.6,574.9 L534.4,576.0 L533.1,574.9 L531.9,576.8 L530.6,577.2 L529.0,580.0 L527.4,583.4 L526.0,585.1 L524.5,585.9 L523.2,582.5 L522.0,579.0 L520.4,578.6 L518.7,577.6 L517.1,577.2 L515.9,576.4 L514.6,576.3 L513.4,574.8 L512.1,572.5 L510.9,572.2 L509.6,571.1 L508.1,571.2 L506.7,571.1 L505.7,577.9 L504.7,583.4 L503.7,583.0 L502.7,582.2 L501.2,584.9 L499.8,585.4 L498.8,578.1 L497.8,573.0 L496.6,574.1 L495.3,574.8 L493.9,576.8 L492.4,577.2 L490.8,578.6 L489.1,581.3 L487.9,583.7 L486.6,586.5 L485.4,587.5 L484.2,583.0 L483.0,580.1 L481.7,581.2 L480.5,583.0 L479.2,583.8 L477.5,578.8 L476.5,581.8 L475.5,585.0 L474.0,585.0 L472.4,585.0 L470.9,584.0 L469.4,583.8 L468.2,582.8 L466.9,581.8 L465.7,580.8 L464.5,583.0 L463.2,584.0 L462.0,586.2 L460.7,586.7 L459.5,588.1 L458.2,589.5 L457.0,585.0 L455.8,580.8 L454.6,580.6 L453.3,581.8 L452.1,580.1 L450.9,577.6 L449.6,573.9 L448.4,575.7 L447.1,578.6 L445.9,580.1 L444.7,578.9 L443.4,582.3 L442.2,583.8 L441.0,584.6 L439.7,588.2 L438.5,588.7 L437.3,589.8 L436.0,591.0 L434.8,591.2 L433.6,595.3 L432.3,599.1 L431.1,599.6 L429.8,601.7 L428.6,600.3 L427.4,600.2 L426.1,599.7 L424.9,598.6 L423.7,597.4 L422.4,593.9 L421.2,593.7 L419.9,590.1 L418.7,588.2 L417.5,591.2 L416.2,592.8 L415.0,594.9 L413.8,592.4 L412.5,589.9 L411.3,591.3 L410.1,593.7 L408.9,594.1 L407.6,591.2 L406.4,594.4 L405.1,598.6 L403.9,600.2 L402.6,599.6 L401.4,599.8 L400.2,598.1 L398.9,597.5 L397.7,596.1 L396.5,595.2 L395.2,595.1 L394.0,593.7 L392.8,598.6 L391.5,603.5 L390.3,599.3 L389.1,596.1 L387.9,596.9 L386.6,599.8 L385.4,599.6 L384.1,598.2 L382.9,598.1 L381.6,595.7 L380.4,593.7 L378.8,595.5 L377.2,596.1 L375.7,593.3 L374.2,591.2 L373.0,592.6 L371.8,593.7 L370.6,592.3 L369.3,589.5 L368.1,589.5 L367.2,590.8 L366.3,593.7 L365.1,603.8 L363.9,613.4 L362.3,616.6 L360.7,620.8 L359.0,623.6 L357.4,626.3 L355.9,621.3 L354.5,618.4 L353.3,615.2 L352.0,611.7 L350.8,608.5 L349.6,603.3 L348.3,599.7 L347.1,593.7 L345.9,591.7 L344.6,588.8 L343.4,586.2 L342.1,586.9 L340.9,588.7 L339.6,587.4 L338.4,585.0 L337.1,586.0 L335.9,587.5 L334.7,586.0 L333.4,583.3 L332.2,580.1 L331.0,581.1 L329.8,582.5 L328.6,578.7 L327.3,575.1 L326.3,576.9 L325.3,578.8 L323.6,598.6 L322.2,600.2 L320.8,600.7 L319.4,602.3 L318.4,596.6 L317.4,591.2 L316.1,582.9 L314.9,576.4 L313.7,577.2 L312.5,577.6 L311.5,576.0 L310.5,573.9 L309.2,578.0 L308.0,583.8 L306.3,578.8 L305.1,583.6 L303.8,589.9 L302.2,593.4 L300.6,596.1 L299.1,590.9 L297.7,585.0 L296.4,583.7 L295.2,583.0 L293.9,582.5 L292.7,582.8 L291.4,580.2 L290.2,578.8 L289.0,580.4 L287.8,581.3 L286.3,580.2 L284.8,576.8 L283.2,581.1 L281.6,585.0 L280.0,588.5 L278.4,593.7 L277.4,577.6 L275.9,575.1 L274.2,605.5 L272.9,601.1 L271.7,598.6 L270.4,594.8 L269.2,592.4 L268.0,590.1 L266.8,588.7 L265.6,584.8 L264.3,578.8 L263.1,578.7 L261.8,578.8 L260.6,577.9 L259.3,579.4 L258.1,579.3 L256.9,584.3 L255.7,588.7 L254.2,585.9 L252.7,583.3 L251.1,585.3 L249.5,586.2 L248.2,584.4 L247.0,585.0 L245.4,587.5 L243.8,588.7 L242.6,586.0 L241.3,581.3 L239.9,586.9 L238.4,594.9 L237.2,596.8 L235.9,598.7 L234.7,600.6 L233.4,595.4 L232.2,591.2 L230.9,592.4 L229.7,592.4 L228.4,590.8 L227.2,588.7 L226.0,587.3 L224.7,583.7 L223.5,581.3 L222.3,580.4 L221.0,578.9 L219.8,578.3 L218.6,583.8 L217.4,584.7 L216.1,583.4 L214.9,582.5 L213.3,585.0 L211.7,588.7 L210.2,584.9 L208.7,580.1 L207.4,579.4 L206.2,578.8 L204.7,578.9 L203.3,580.0 L201.8,580.1 L200.4,578.0 L199.0,575.0 L197.6,573.9 L196.2,573.8 L194.8,574.3 L193.3,574.1 L191.9,573.9 L191.1,570.7 L190.2,566.5 L189.0,567.7 L187.7,567.6 L186.5,568.9 L185.2,575.3 L184.0,580.8 L182.4,580.2 L180.7,580.4 L179.1,581.3 L177.6,582.5 L176.1,583.8 L175.1,574.5 L174.1,566.5 L173.1,565.8 L172.1,567.7 L170.4,561.5 L168.8,563.3 L167.2,564.0 L165.9,559.7 L164.7,555.4 L163.2,556.3 L161.8,556.6 L160.6,554.3 L159.3,552.4 L157.7,552.4 L156.0,552.0 L154.4,551.6 L153.1,552.6 L151.9,552.9 L150.6,554.1 L149.4,547.2 L148.2,543.0 L147.0,543.7 L145.7,540.5 L144.5,539.3 L143.5,533.3 L142.5,528.2 L141.0,530.3 L139.5,529.4 L138.1,526.7 L136.6,523.2Z" fill="#3c4659" stroke="none"/>
<path d="M121.5,38 V655.5 M267.5,38 V655.5 M412.5,38 V655.5 M554.5,38 V655.5 M700.5,38 V655.5 M845.5,38 V655.5 M988.5,38 V655.5 M1134.5,38 V655.5 M1278.5,38 V655.5 M1422.5,38 V655.5 M1568.5,38 V655.5 M64.5,60.5 H1616 M64.5,173.5 H1616 M64.5,285.5 H1616 M64.5,397.5 H1616 M64.5,510.5 H1616 M64.5,622.5 H1616" stroke="#535d71" stroke-width="1" fill="none" clip-path="url(#c)"/>
<path d="M136.6,495.1 L138.1,494.1 L139.5,493.4 L140.8,488.8 L142.0,483.5 L143.2,477.8 L144.5,472.4 L145.7,469.3 L147.0,466.0 L148.2,463.8 L149.4,461.2 L150.6,458.8 L151.4,451.4 L152.6,460.1 L154.0,459.6 L155.3,457.9 L156.7,457.1 L158.1,455.1 L159.3,450.3 L160.5,445.2 L161.9,443.0 L163.3,440.4 L164.7,437.8 L165.7,433.5 L166.7,431.6 L168.3,429.7 L170.0,427.0 L171.6,424.2 L172.8,422.1 L174.1,419.3 L175.3,419.1 L176.6,421.3 L178.2,419.0 L179.7,418.4 L181.2,417.6 L182.8,416.8 L184.0,412.9 L185.3,408.6 L186.5,404.5 L187.9,404.2 L189.4,403.2 L190.7,407.7 L191.9,413.1 L193.4,404.5 L194.8,405.6 L196.1,406.6 L197.5,406.8 L198.8,408.2 L200.4,410.2 L201.9,410.2 L203.4,411.4 L205.0,411.4 L206.6,408.1 L208.2,405.7 L209.2,411.9 L210.8,411.4 L212.5,411.7 L214.1,411.9 L215.1,404.4 L216.1,397.1 L217.6,392.8 L219.1,387.7 L220.4,389.3 L221.7,390.3 L223.0,392.1 L223.9,388.3 L224.8,385.9 L226.5,393.4 L227.9,392.1 L229.3,392.4 L230.8,390.0 L232.2,389.6 L233.4,384.9 L234.7,379.8 L235.9,372.9 L237.1,365.5 L238.7,363.9 L240.2,364.3 L241.8,364.6 L243.3,363.1 L244.5,362.7 L245.8,364.8 L247.0,366.0 L248.2,362.6 L249.5,359.4 L250.7,362.5 L251.9,366.8 L253.2,367.9 L254.4,368.4 L255.7,369.2 L256.9,362.6 L258.1,358.1 L259.4,356.2 L260.6,353.2 L262.1,353.0 L263.6,351.9 L264.8,350.1 L266.0,347.0 L267.0,349.3 L268.0,349.5 L269.2,356.9 L270.4,357.6 L271.7,357.8 L272.9,358.1 L274.1,358.4 L275.4,360.6 L276.9,354.6 L278.4,347.7 L280.0,347.2 L281.6,347.5 L283.2,354.3 L284.8,361.8 L286.1,356.0 L287.3,351.9 L288.4,348.2 L289.5,345.8 L290.9,352.8 L292.2,360.6 L293.7,362.1 L295.2,361.8 L296.4,361.0 L297.7,363.1 L299.1,357.7 L300.6,354.4 L301.9,350.9 L303.1,347.0 L304.7,348.4 L306.3,347.7 L307.6,343.5 L308.8,338.4 L310.5,347.0 L312.0,345.3 L313.4,344.4 L314.9,345.8 L316.1,337.4 L317.4,328.5 L318.6,328.0 L319.9,327.7 L321.1,328.5 L322.4,326.1 L323.6,322.3 L324.9,325.5 L326.1,327.2 L327.3,324.3 L328.5,321.1 L330.1,318.8 L331.7,316.1 L333.2,317.1 L334.7,317.4 L336.2,318.5 L337.7,317.4 L338.9,320.9 L340.1,323.5 L341.6,335.9 L342.5,331.3 L343.4,326.0 L344.6,326.2 L345.9,324.6 L347.1,325.5 L348.1,321.7 L349.0,316.1 L350.5,317.0 L352.0,316.6 L353.2,317.4 L354.5,317.4 L355.7,315.2 L357.0,315.3 L358.2,314.9 L359.4,320.4 L360.7,324.8 L362.3,324.7 L363.9,327.2 L364.8,324.3 L365.6,321.6 L366.8,322.5 L368.1,321.1 L369.3,322.3 L370.5,323.3 L371.8,322.4 L373.0,321.8 L374.2,315.7 L375.5,309.9 L376.7,304.6 L377.9,298.8 L379.1,299.0 L380.4,298.3 L381.2,293.1 L382.1,287.7 L383.1,291.4 L384.1,293.4 L385.4,293.2 L386.6,293.9 L387.8,295.7 L389.1,298.8 L390.3,300.1 L391.5,303.0 L392.8,305.2 L394.0,308.7 L395.2,306.9 L396.5,303.8 L397.7,301.1 L398.9,296.4 L399.9,298.5 L400.9,301.3 L402.1,299.1 L403.2,298.7 L404.4,297.6 L405.4,296.2 L406.4,295.1 L407.4,296.7 L408.3,298.8 L409.6,295.5 L410.8,290.2 L412.3,289.5 L413.8,290.2 L414.8,289.2 L415.8,286.5 L417.0,289.1 L418.2,293.4 L419.6,292.2 L420.9,292.6 L422.3,292.3 L423.7,290.9 L424.9,289.9 L426.1,287.7 L427.1,289.8 L428.1,291.4 L429.3,288.2 L430.4,284.9 L431.6,281.5 L432.8,286.3 L434.0,290.2 L435.5,289.6 L437.0,289.5 L438.5,288.9 L439.7,286.8 L441.0,284.0 L442.2,281.5 L443.4,284.5 L444.7,286.5 L446.3,286.2 L447.9,285.2 L449.1,288.5 L450.3,288.9 L451.7,289.8 L453.1,289.9 L454.4,290.5 L455.8,291.4 L457.0,286.4 L458.2,281.5 L459.2,277.8 L460.2,272.9 L461.7,270.8 L463.2,269.2 L464.2,270.1 L465.2,270.4 L466.4,266.7 L467.6,260.5 L468.9,259.4 L470.1,261.8 L471.6,261.0 L473.1,261.8 L474.3,258.5 L475.6,255.1 L476.8,251.4 L478.0,253.0 L479.3,253.9 L480.5,255.6 L481.7,255.0 L483.0,253.7 L484.2,252.4 L485.4,270.4 L486.6,270.9 L487.9,273.8 L489.1,272.9 L490.1,276.2 L491.1,279.1 L492.8,271.6 L494.0,270.4 L495.3,269.9 L496.5,269.2 L497.7,265.3 L498.8,261.8 L500.0,258.1 L501.2,253.8 L502.5,253.3 L503.7,253.8 L505.0,255.7 L506.2,255.8 L507.8,261.8 L509.4,269.4 L510.8,268.1 L512.2,267.6 L513.6,265.7 L515.2,263.8 L516.8,260.7 L518.0,263.2 L519.3,263.7 L520.8,261.3 L522.2,261.2 L523.5,265.7 L524.7,270.6 L526.2,272.2 L527.7,274.3 L529.2,274.6 L530.6,274.7 L532.1,273.8 L533.4,269.1 L534.6,268.1 L535.8,268.5 L537.1,266.3 L538.3,266.9 L539.5,264.0 L540.8,260.2 L541.6,259.7 L542.5,261.2 L543.5,259.6 L544.5,257.7 L545.7,258.5 L546.9,257.7 L548.1,254.4 L549.4,251.3 L550.6,250.9 L551.9,250.7 L553.1,249.6 L554.4,249.7 L555.6,249.6 L557.3,253.8 L558.3,246.1 L559.3,238.5 L560.5,243.9 L561.8,247.1 L562.8,248.7 L563.7,248.9 L565.2,244.1 L566.7,239.7 L567.9,239.6 L569.2,234.8 L570.4,233.5 L571.6,231.9 L572.9,229.1 L574.1,231.1 L575.4,233.5 L576.6,233.6 L577.9,234.0 L579.1,233.5 L580.3,231.2 L581.5,228.6 L582.7,226.0 L584.0,221.5 L585.2,219.5 L586.8,220.7 L588.4,224.1 L589.9,226.8 L591.4,228.6 L592.4,229.8 L593.4,232.3 L594.9,228.5 L596.4,226.1 L597.6,225.7 L598.8,227.4 L599.8,231.3 L600.8,233.5 L602.3,232.2 L603.8,229.8 L605.2,231.5 L606.7,231.1 L607.7,228.2 L608.7,226.6 L609.7,232.6 L610.7,238.5 L612.4,234.0 L614.1,231.1 L615.1,235.1 L616.1,238.0 L617.1,236.5 L618.1,232.8 L619.6,233.8 L621.1,236.0 L622.3,238.7 L623.6,240.0 L624.8,240.9 L626.0,240.0 L627.3,237.9 L628.5,238.5 L629.7,239.5 L631.0,238.4 L632.2,238.5 L633.5,235.3 L634.7,233.0 L635.9,236.3 L637.2,239.4 L638.4,242.2 L639.3,243.2 L640.3,242.2 L641.8,234.1 L643.3,227.4 L644.5,225.7 L645.8,222.4 L647.0,222.2 L648.2,219.9 L649.7,223.0 L651.2,224.1 L652.7,223.4 L654.2,222.4 L655.7,222.4 L656.9,214.5 L658.1,205.1 L659.3,207.1 L660.6,209.0 L661.8,210.8 L663.4,210.8 L665.0,208.8 L665.9,206.8 L666.8,205.1 L667.6,206.0 L668.5,210.1 L670.1,207.3 L671.7,205.1 L673.3,198.9 L674.9,195.2 L676.1,195.2 L677.4,194.0 L678.9,194.5 L680.4,194.5 L681.3,201.2 L682.3,208.8 L683.5,214.3 L684.8,219.9 L686.3,219.9 L687.8,218.7 L689.0,219.8 L690.2,220.7 L691.5,222.2 L692.7,221.9 L693.9,221.0 L695.2,220.8 L696.4,219.2 L698.0,221.0 L699.6,220.7 L701.1,219.8 L702.6,216.7 L703.8,215.7 L705.1,216.2 L706.3,215.0 L707.5,208.7 L708.8,205.1 L710.0,205.0 L711.2,206.4 L712.9,201.9 L714.5,200.2 L715.4,202.1 L716.2,202.6 L717.9,189.1 L719.1,187.0 L720.4,186.6 L722.0,187.2 L723.6,187.8 L724.9,191.4 L726.1,195.2 L727.3,197.6 L728.6,199.7 L729.8,202.6 L731.0,204.7 L732.3,207.7 L733.5,208.3 L734.7,204.0 L736.0,199.9 L737.2,195.2 L738.4,192.2 L739.7,187.7 L740.9,184.1 L742.1,180.5 L743.4,178.7 L744.6,186.0 L745.8,194.0 L746.7,198.5 L747.6,201.4 L749.0,196.5 L750.2,197.2 L751.5,200.2 L752.9,199.5 L754.3,200.4 L755.7,199.4 L756.9,199.2 L758.2,197.8 L759.4,197.0 L760.9,196.1 L762.4,194.0 L764.0,182.1 L765.6,170.0 L767.2,170.7 L768.8,173.0 L770.3,171.3 L771.8,171.8 L773.0,174.4 L774.2,177.9 L775.5,181.4 L776.7,183.6 L778.2,182.6 L779.7,182.4 L780.7,185.1 L781.7,189.1 L783.1,198.4 L784.6,186.6 L786.2,184.8 L787.8,184.1 L788.7,180.8 L789.6,179.7 L790.5,188.6 L791.5,197.7 L792.5,197.7 L793.5,199.4 L795.0,195.1 L796.5,190.3 L797.7,189.9 L798.9,192.8 L800.2,191.6 L801.4,189.6 L802.7,188.6 L803.9,185.3 L805.2,185.3 L806.4,182.9 L807.3,182.1 L808.3,181.6 L809.2,182.5 L810.1,186.6 L811.3,184.7 L812.5,184.1 L813.9,179.4 L815.3,173.9 L816.7,169.3 L818.4,171.1 L820.0,171.8 L821.2,174.2 L822.4,175.5 L823.3,174.7 L824.2,173.0 L825.6,176.7 L827.1,173.5 L828.6,169.8 L829.8,170.2 L831.1,169.1 L832.3,168.1 L833.5,168.0 L834.8,167.3 L836.2,168.6 L837.6,173.4 L839.0,175.5 L840.6,172.1 L842.2,166.8 L843.4,164.5 L844.7,162.3 L845.9,160.6 L847.1,160.7 L848.4,156.9 L849.6,156.9 L850.9,157.0 L852.1,156.4 L853.3,162.1 L854.5,164.4 L855.8,162.3 L857.0,161.4 L858.2,162.7 L859.5,163.1 L860.7,163.9 L862.0,161.9 L863.2,161.4 L864.5,155.8 L865.7,149.5 L866.9,150.6 L868.2,149.7 L869.4,150.8 L870.6,150.1 L871.8,149.5 L872.7,154.7 L873.6,159.4 L874.8,155.7 L876.0,150.8 L877.2,154.3 L878.5,157.7 L879.7,161.4 L881.4,155.4 L883.0,150.8 L884.0,146.8 L884.9,143.4 L886.1,144.0 L887.2,143.5 L888.4,143.4 L889.6,147.5 L890.7,152.2 L891.9,157.5 L893.1,166.2 L894.3,171.1 L895.5,178.0 L896.6,183.4 L897.5,180.7 L898.5,177.2 L899.8,176.6 L901.0,179.7 L902.2,178.9 L903.5,177.6 L904.7,176.0 L905.7,178.4 L906.7,178.5 L908.4,169.8 L909.6,174.4 L910.9,178.5 L912.1,175.4 L913.4,172.3 L914.2,174.5 L915.1,176.0 L916.1,172.8 L917.1,172.3 L918.3,173.4 L919.6,173.3 L920.8,173.5 L922.4,174.9 L924.0,177.2 L924.9,173.2 L925.7,167.4 L927.0,170.5 L928.2,171.1 L929.9,168.1 L931.5,172.3 L933.1,178.5 L934.8,171.6 L936.5,173.7 L938.1,176.7 L939.3,176.0 L940.5,174.8 L941.9,171.6 L943.3,167.9 L944.7,164.9 L946.3,160.9 L947.9,158.2 L949.5,164.3 L951.2,167.4 L952.4,165.6 L953.6,162.4 L954.5,161.0 L955.4,161.2 L956.6,152.2 L957.8,145.1 L959.0,150.6 L960.3,153.8 L961.5,159.2 L962.8,163.2 L964.0,162.2 L965.2,158.7 L966.8,164.8 L968.4,169.8 L969.9,172.5 L971.4,176.5 L972.6,171.5 L973.9,166.1 L974.9,163.6 L975.9,164.1 L977.3,166.4 L978.8,169.8 L979.8,172.9 L980.8,176.0 L981.6,173.9 L982.5,171.1 L983.8,173.0 L985.0,176.0 L986.2,176.2 L987.5,176.5 L988.7,179.7 L989.9,182.2 L991.5,183.7 L993.2,184.7 L994.7,187.0 L996.1,188.4 L997.4,191.0 L998.6,193.3 L999.9,189.4 L1001.1,185.9 L1002.6,186.2 L1004.0,185.4 L1005.5,185.1 L1006.8,180.0 L1008.0,176.0 L1009.5,173.7 L1010.9,172.3 L1012.1,171.9 L1013.4,171.6 L1014.7,176.0 L1015.9,170.0 L1017.1,164.1 L1018.3,164.2 L1019.6,164.1 L1020.8,164.1 L1022.5,164.2 L1024.1,164.0 L1025.8,164.1 L1027.4,162.3 L1029.1,162.5 L1030.7,161.2 L1032.2,161.3 L1033.8,160.3 L1035.4,159.2 L1036.9,158.7 L1038.5,155.3 L1040.1,151.3 L1041.6,150.0 L1043.1,150.1 L1044.3,148.8 L1045.6,150.1 L1046.8,150.1 L1048.0,146.9 L1049.2,145.1 L1050.5,146.3 L1051.7,146.4 L1052.9,144.6 L1054.2,142.6 L1055.4,143.4 L1056.6,141.8 L1057.9,142.8 L1059.1,140.9 L1060.7,142.7 L1062.3,145.1 L1063.5,143.3 L1064.6,142.9 L1065.8,142.6 L1067.4,145.5 L1069.0,147.6 L1070.2,151.0 L1071.5,153.8 L1072.3,158.2 L1073.2,162.4 L1074.8,165.0 L1076.4,165.6 L1077.7,165.7 L1078.9,164.9 L1080.2,169.2 L1081.4,173.5 L1082.6,173.5 L1083.9,173.9 L1085.1,172.3 L1086.3,168.9 L1087.5,164.1 L1088.5,164.0 L1089.5,162.4 L1090.8,168.7 L1092.0,176.5 L1093.2,173.7 L1094.5,171.1 L1095.7,171.0 L1096.9,169.8 L1098.2,162.2 L1099.4,155.0 L1100.7,154.9 L1101.9,153.3 L1103.6,158.2 L1104.4,151.5 L1105.3,143.9 L1106.9,145.8 L1108.5,146.4 L1109.8,148.7 L1111.0,151.3 L1112.6,156.8 L1114.2,158.7 L1115.4,153.6 L1116.5,146.7 L1117.7,140.9 L1118.7,140.6 L1119.7,140.2 L1120.9,139.9 L1122.1,136.0 L1123.1,140.3 L1124.1,145.1 L1124.9,148.6 L1125.8,150.8 L1127.0,151.3 L1128.3,150.3 L1129.5,150.1 L1130.8,146.4 L1132.0,146.2 L1133.3,147.8 L1134.5,148.3 L1135.7,149.7 L1137.0,151.4 L1138.2,151.8 L1139.5,155.8 L1140.7,158.7 L1141.6,159.3 L1142.4,159.9 L1144.0,159.3 L1145.6,157.5 L1147.2,157.2 L1148.8,156.2 L1150.0,152.0 L1151.3,147.6 L1152.5,145.1 L1153.7,142.6 L1155.0,139.4 L1156.2,136.5 L1157.2,125.4 L1158.2,128.9 L1159.2,131.5 L1160.4,125.4 L1161.7,129.0 L1162.9,134.0 L1164.1,125.4 L1165.3,124.0 L1166.6,123.4 L1167.8,124.6 L1169.1,124.8 L1170.3,127.1 L1171.5,126.8 L1172.8,127.1 L1174.0,129.7 L1175.2,135.2 L1176.4,134.7 L1177.7,135.6 L1178.9,135.2 L1180.2,115.5 L1181.2,111.8 L1182.2,107.3 L1183.3,111.4 L1184.4,115.5 L1185.4,116.5 L1186.4,117.9 L1187.3,116.1 L1188.3,116.2 L1189.3,126.6 L1190.5,126.0 L1191.8,122.9 L1193.4,122.6 L1195.0,121.6 L1196.2,126.1 L1197.5,128.4 L1198.7,132.8 L1200.0,129.6 L1201.2,126.6 L1202.4,122.0 L1203.7,120.5 L1204.9,116.7 L1206.2,116.4 L1207.4,114.7 L1208.6,118.1 L1209.8,124.1 L1211.0,125.9 L1212.3,127.8 L1213.5,131.3 L1214.8,134.0 L1216.0,124.1 L1217.2,116.7 L1218.5,116.7 L1219.7,119.2 L1221.0,122.5 L1222.2,127.3 L1223.5,125.0 L1224.7,123.6 L1225.9,121.0 L1227.1,120.4 L1228.3,118.3 L1229.6,116.2 L1230.8,120.3 L1232.1,124.1 L1232.9,127.6 L1233.8,130.3 L1235.4,130.2 L1237.0,129.1 L1238.2,126.7 L1239.5,122.1 L1240.8,124.6 L1242.1,125.4 L1243.3,122.0 L1244.5,120.4 L1245.4,123.1 L1246.3,126.6 L1247.2,129.6 L1248.2,134.0 L1249.5,128.9 L1250.7,125.4 L1252.0,122.8 L1253.2,120.4 L1254.2,115.9 L1255.2,111.3 L1256.1,116.8 L1256.9,121.6 L1258.2,117.4 L1259.4,115.5 L1260.6,115.9 L1261.9,118.0 L1263.1,119.2 L1264.3,117.8 L1265.5,116.7 L1266.7,116.5 L1268.0,116.7 L1269.2,116.7 L1270.5,118.0 L1271.7,120.4 L1272.6,117.2 L1273.4,113.0 L1275.0,113.6 L1276.6,113.7 L1277.8,112.4 L1279.1,111.3 L1279.9,114.1 L1280.8,117.9 L1282.3,96.9 L1283.2,89.4 L1284.1,82.1 L1285.3,80.4 L1286.5,82.6 L1287.4,81.4 L1288.3,81.6 L1289.2,85.6 L1290.2,89.5 L1291.2,90.3 L1292.2,93.2 L1293.7,92.1 L1295.2,90.8 L1296.2,92.8 L1297.2,94.5 L1298.1,90.4 L1298.9,88.3 L1300.2,87.5 L1301.4,87.1 L1302.6,87.5 L1303.8,88.3 L1305.0,86.8 L1306.3,84.6 L1307.5,82.8 L1308.8,80.1 L1310.4,79.8 L1312.0,79.6 L1312.8,72.9 L1313.7,67.3 L1314.6,66.9 L1315.4,66.8 L1316.7,71.3 L1317.9,75.9 L1318.9,81.4 L1319.9,85.8 L1320.9,91.0 L1321.9,95.7 L1323.3,98.3 L1324.8,101.9 L1326.3,99.1 L1327.8,98.2 L1329.0,100.4 L1330.3,103.1 L1331.9,106.9 L1333.5,111.8 L1334.7,112.0 L1335.9,113.7 L1337.6,114.1 L1339.2,114.7 L1340.7,112.3 L1342.1,110.5 L1343.3,109.7 L1344.6,108.8 L1345.6,112.1 L1346.6,114.7 L1347.4,117.3 L1348.3,120.4 L1349.5,122.0 L1350.8,120.4 L1352.0,120.8 L1353.2,121.6 L1354.5,117.5 L1355.7,111.8 L1357.0,110.9 L1358.2,109.8 L1359.8,113.0 L1361.4,114.7 L1362.9,115.9 L1364.4,120.4 L1365.6,120.9 L1366.9,122.7 L1368.1,123.6 L1369.3,124.6 L1370.6,126.4 L1371.8,125.4 L1373.0,125.0 L1374.3,125.1 L1375.5,123.6 L1376.7,123.9 L1378.0,123.8 L1379.2,122.9 L1380.2,125.4 L1381.2,127.1 L1382.7,123.6 L1384.1,120.4 L1385.3,119.5 L1386.6,117.9 L1387.8,118.4 L1389.1,120.4 L1390.3,120.0 L1391.5,117.9 L1392.8,118.4 L1394.0,120.4 L1395.2,121.6 L1396.5,124.0 L1397.7,123.6 L1399.0,121.2 L1400.2,119.2 L1401.8,117.7 L1403.4,116.2 L1405.1,126.6 L1406.3,130.5 L1407.6,132.8 L1408.8,133.1 L1410.1,132.7 L1411.3,133.5 L1412.5,134.2 L1413.8,134.5 L1415.0,128.5 L1416.2,121.6 L1417.5,119.2 L1418.7,122.1 L1419.9,124.1 L1421.2,116.2 L1422.4,123.6 L1423.6,121.2 L1424.9,121.0 L1426.1,117.9 L1427.3,118.0 L1428.6,115.8 L1429.8,114.7 L1431.0,115.4 L1432.3,115.4 L1433.5,116.2 L1434.7,116.1 L1436.0,113.6 L1437.2,113.0 L1438.5,115.3 L1439.7,116.7 L1441.0,120.1 L1442.2,124.1 L1443.8,125.9 L1445.4,128.6 L1446.9,123.8 L1448.4,117.9 L1449.6,117.2 L1450.8,114.7 L1452.0,114.1 L1453.3,113.1 L1454.5,113.0 L1455.4,121.6 L1456.3,129.1 L1457.2,137.5 L1458.2,145.9 L1459.5,142.9 L1460.7,139.4 L1462.0,137.8 L1463.2,134.0 L1464.7,136.0 L1466.1,136.5 L1467.3,138.8 L1468.6,141.9 L1469.6,144.5 L1470.6,143.9 L1471.8,137.7 L1473.1,131.5 L1474.3,128.4 L1475.5,124.1 L1477.0,121.4 L1478.5,119.7 L1479.8,119.2 L1481.0,118.7 L1482.6,119.6 L1484.2,122.9 L1485.5,124.8 L1486.7,124.1 L1487.6,128.8 L1488.4,131.5 L1489.4,135.0 L1490.4,140.2 L1491.6,141.0 L1492.8,143.9 L1494.0,142.5 L1495.3,143.4 L1496.5,144.2 L1497.8,143.1 L1499.0,143.4 L1500.2,145.5 L1501.5,147.6 L1502.7,147.8 L1504.0,148.3 L1505.2,148.8 L1506.4,149.0 L1507.7,150.8 L1508.9,151.8 L1510.1,153.5 L1511.4,157.1 L1512.6,159.9 L1514.1,158.9 L1515.6,157.5 L1516.5,158.7 L1517.5,159.2 L1518.7,158.5 L1520.0,157.4 L1521.2,157.5 L1522.4,158.0 L1523.7,158.0 L1524.9,158.7 L1526.2,161.0 L1527.4,161.7 L1528.7,162.4 L1529.6,166.0 L1530.4,169.8 L1531.3,165.2 L1532.3,161.2 L1533.4,162.2 L1534.6,163.5 L1535.7,165.6 L1537.2,167.5 L1538.7,169.8 L1540.1,171.9 L1541.5,173.5 L1542.7,176.4 L1543.8,178.5 L1545.0,184.7 L1545.4,193.3" stroke="#3ac0da" stroke-width="2.6" fill="none" stroke-linejoin="round" stroke-linecap="round"/>
<path d="M136.6,523.2 L138.1,526.7 L139.5,529.4 L141.0,530.3 L142.5,528.2 L143.5,533.3 L144.5,539.3 L145.7,540.5 L147.0,543.7 L148.2,543.0 L149.4,547.2 L150.6,554.1 L151.9,552.9 L153.1,552.6 L154.4,551.6 L156.0,552.0 L157.7,552.4 L159.3,552.4 L160.6,554.3 L161.8,556.6 L163.2,556.3 L164.7,555.4 L165.9,559.7 L167.2,564.0 L168.8,563.3 L170.4,561.5 L172.1,567.7 L173.1,565.8 L174.1,566.5 L175.1,574.5 L176.1,583.8 L177.6,582.5 L179.1,581.3 L180.7,580.4 L182.4,580.2 L184.0,580.8 L185.2,575.3 L186.5,568.9 L187.7,567.6 L189.0,567.7 L190.2,566.5 L191.1,570.7 L191.9,573.9 L193.3,574.1 L194.8,574.3 L196.2,573.8 L197.6,573.9 L199.0,575.0 L200.4,578.0 L201.8,580.1 L203.3,580.0 L204.7,578.9 L206.2,578.8 L207.4,579.4 L208.7,580.1 L210.2,584.9 L211.7,588.7 L213.3,585.0 L214.9,582.5 L216.1,583.4 L217.4,584.7 L218.6,583.8 L219.8,578.3 L221.0,578.9 L222.3,580.4 L223.5,581.3 L224.7,583.7 L226.0,587.3 L227.2,588.7 L228.4,590.8 L229.7,592.4 L230.9,592.4 L232.2,591.2 L233.4,595.4 L234.7,600.6 L235.9,598.7 L237.2,596.8 L238.4,594.9 L239.9,586.9 L241.3,581.3 L242.6,586.0 L243.8,588.7 L245.4,587.5 L247.0,585.0 L248.2,584.4 L249.5,586.2 L251.1,585.3 L252.7,583.3 L254.2,585.9 L255.7,588.7 L256.9,584.3 L258.1,579.3 L259.3,579.4 L260.6,577.9 L261.8,578.8 L263.1,578.7 L264.3,578.8 L265.6,584.8 L266.8,588.7 L268.0,590.1 L269.2,592.4 L270.4,594.8 L271.7,598.6 L272.9,601.1 L274.2,605.5 L275.9,575.1 L277.4,577.6 L278.4,593.7 L280.0,588.5 L281.6,585.0 L283.2,581.1 L284.8,576.8 L286.3,580.2 L287.8,581.3 L289.0,580.4 L290.2,578.8 L291.4,580.2 L292.7,582.8 L293.9,582.5 L295.2,583.0 L296.4,583.7 L297.7,585.0 L299.1,590.9 L300.6,596.1 L302.2,593.4 L303.8,589.9 L305.1,583.6 L306.3,578.8 L308.0,583.8 L309.2,578.0 L310.5,573.9 L311.5,576.0 L312.5,577.6 L313.7,577.2 L314.9,576.4 L316.1,582.9 L317.4,591.2 L318.4,596.6 L319.4,602.3 L320.8,600.7 L322.2,600.2 L323.6,598.6 L325.3,578.8 L326.3,576.9 L327.3,575.1 L328.6,578.7 L329.8,582.5 L331.0,581.1 L332.2,580.1 L333.4,583.3 L334.7,586.0 L335.9,587.5 L337.1,586.0 L338.4,585.0 L339.6,587.4 L340.9,588.7 L342.1,586.9 L343.4,586.2 L344.6,588.8 L345.9,591.7 L347.1,593.7 L348.3,599.7 L349.6,603.3 L350.8,608.5 L352.0,611.7 L353.3,615.2 L354.5,618.4 L355.9,621.3 L357.4,626.3 L359.0,623.6 L360.7,620.8 L362.3,616.6 L363.9,613.4 L365.1,603.8 L366.3,593.7 L367.2,590.8 L368.1,589.5 L369.3,589.5 L370.6,592.3 L371.8,593.7 L373.0,592.6 L374.2,591.2 L375.7,593.3 L377.2,596.1 L378.8,595.5 L380.4,593.7 L381.6,595.7 L382.9,598.1 L384.1,598.2 L385.4,599.6 L386.6,599.8 L387.9,596.9 L389.1,596.1 L390.3,599.3 L391.5,603.5 L392.8,598.6 L394.0,593.7 L395.2,595.1 L396.5,595.2 L397.7,596.1 L398.9,597.5 L400.2,598.1 L401.4,599.8 L402.6,599.6 L403.9,600.2 L405.1,598.6 L406.4,594.4 L407.6,591.2 L408.9,594.1 L410.1,593.7 L411.3,591.3 L412.5,589.9 L413.8,592.4 L415.0,594.9 L416.2,592.8 L417.5,591.2 L418.7,588.2 L419.9,590.1 L421.2,593.7 L422.4,593.9 L423.7,597.4 L424.9,598.6 L426.1,599.7 L427.4,600.2 L428.6,600.3 L429.8,601.7 L431.1,599.6 L432.3,599.1 L433.6,595.3 L434.8,591.2 L436.0,591.0 L437.3,589.8 L438.5,588.7 L439.7,588.2 L441.0,584.6 L442.2,583.8 L443.4,582.3 L444.7,578.9 L445.9,580.1 L447.1,578.6 L448.4,575.7 L449.6,573.9 L450.9,577.6 L452.1,580.1 L453.3,581.8 L454.6,580.6 L455.8,580.8 L457.0,585.0 L458.2,589.5 L459.5,588.1 L460.7,586.7 L462.0,586.2 L463.2,584.0 L464.5,583.0 L465.7,580.8 L466.9,581.8 L468.2,582.8 L469.4,583.8 L470.9,584.0 L472.4,585.0 L474.0,585.0 L475.5,585.0 L476.5,581.8 L477.5,578.8 L479.2,583.8 L480.5,583.0 L481.7,581.2 L483.0,580.1 L484.2,583.0 L485.4,587.5 L486.6,586.5 L487.9,583.7 L489.1,581.3 L490.8,578.6 L492.4,577.2 L493.9,576.8 L495.3,574.8 L496.6,574.1 L497.8,573.0 L498.8,578.1 L499.8,585.4 L501.2,584.9 L502.7,582.2 L503.7,583.0 L504.7,583.4 L505.7,577.9 L506.7,571.1 L508.1,571.2 L509.6,571.1 L510.9,572.2 L512.1,572.5 L513.4,574.8 L514.6,576.3 L515.9,576.4 L517.1,577.2 L518.7,577.6 L520.4,578.6 L522.0,579.0 L523.2,582.5 L524.5,585.9 L526.0,585.1 L527.4,583.4 L529.0,580.0 L530.6,577.2 L531.9,576.8 L533.1,574.9 L534.4,576.0 L535.6,574.9 L536.9,574.8 L538.1,573.5 L539.3,575.9 L540.5,576.5 L541.4,574.1 L542.3,572.3 L543.5,574.3 L544.7,576.5 L546.2,577.4 L547.7,575.9 L549.2,576.0 L550.4,574.7 L551.6,572.3 L552.9,576.0 L554.1,575.5 L555.4,572.8 L556.6,571.1 L557.8,571.8 L559.1,570.3 L560.3,570.6 L561.5,573.8 L562.8,576.6 L564.0,579.7 L565.5,586.0 L567.0,592.1 L568.2,593.5 L569.4,593.3 L570.6,593.7 L571.9,590.8 L573.4,599.0 L574.9,596.9 L576.4,595.8 L578.0,595.4 L579.7,596.1 L581.3,595.8 L582.5,595.7 L583.8,597.0 L585.2,596.1 L586.7,594.5 L588.3,594.9 L589.9,594.5 L591.2,592.1 L592.4,590.5 L593.7,587.9 L594.9,590.1 L596.1,594.5 L597.4,590.5 L598.6,585.4 L599.6,590.7 L600.6,598.2 L602.0,597.7 L603.5,598.2 L605.0,600.1 L606.5,602.7 L607.8,597.7 L609.0,593.3 L610.6,595.2 L612.2,595.8 L613.5,597.7 L614.7,599.5 L616.4,608.1 L617.4,609.1 L618.4,610.6 L619.8,607.9 L621.3,604.4 L622.5,597.5 L623.8,588.4 L625.3,566.1 L626.1,571.1 L627.0,576.0 L628.2,570.7 L629.5,565.7 L630.7,559.2 L632.2,562.8 L633.7,566.1 L635.2,566.4 L636.6,570.3 L638.1,569.8 L639.6,572.0 L641.1,571.1 L642.7,567.2 L644.3,566.1 L645.5,566.7 L646.8,567.4 L648.0,564.1 L649.3,560.9 L650.5,556.7 L651.7,560.9 L652.9,564.1 L654.4,564.3 L655.9,564.9 L657.4,569.8 L658.6,563.8 L659.9,559.2 L661.3,556.6 L662.8,553.8 L664.3,553.0 L665.8,550.8 L667.0,548.4 L668.3,547.6 L669.9,550.0 L671.5,553.8 L672.4,557.2 L673.2,560.7 L674.7,558.3 L676.2,558.4 L677.7,557.5 L678.9,556.0 L680.2,555.3 L681.4,553.8 L682.6,551.8 L683.8,550.8 L685.0,551.2 L686.3,552.5 L687.5,553.8 L688.8,556.2 L690.0,558.7 L691.0,560.5 L692.0,563.2 L693.5,559.7 L694.9,556.2 L696.4,554.9 L697.9,552.5 L699.5,555.8 L701.1,557.5 L702.4,561.1 L703.6,562.4 L704.9,564.4 L706.1,567.4 L707.3,563.5 L708.6,558.5 L709.8,556.7 L710.8,560.3 L711.7,561.2 L713.0,558.2 L714.2,556.2 L715.5,556.8 L716.7,557.5 L718.0,555.4 L719.2,552.5 L720.6,549.9 L722.0,549.6 L723.4,547.6 L724.6,546.0 L725.8,544.4 L727.0,544.2 L728.3,546.7 L729.5,547.6 L731.0,549.0 L732.5,548.8 L734.1,544.4 L735.7,542.6 L737.0,543.6 L738.2,543.4 L739.4,548.8 L740.4,543.7 L741.4,538.4 L742.9,540.8 L744.4,542.6 L745.6,543.2 L746.9,544.0 L748.1,543.4 L749.3,541.2 L750.5,539.4 L752.1,538.6 L753.7,536.5 L755.0,536.2 L756.2,536.5 L757.5,528.6 L758.7,547.6 L760.2,546.9 L761.7,545.1 L762.9,545.2 L764.1,546.4 L765.1,543.2 L766.1,540.2 L767.8,548.3 L769.4,547.9 L771.0,545.1 L772.5,543.3 L774.0,540.9 L775.2,541.4 L776.5,541.2 L777.7,542.6 L779.3,540.4 L780.9,539.4 L782.1,541.5 L783.4,543.4 L784.9,541.2 L786.4,537.7 L787.6,536.8 L788.9,535.6 L790.1,534.0 L791.8,535.2 L793.3,525.4 L794.8,528.4 L796.2,531.5 L797.7,531.2 L799.2,529.1 L800.8,531.3 L802.4,534.0 L803.6,534.9 L804.9,536.5 L806.5,544.3 L808.1,550.8 L809.6,545.5 L811.1,540.2 L812.3,536.3 L813.5,532.8 L814.5,529.9 L815.5,527.8 L816.8,538.1 L818.0,548.8 L819.5,549.0 L821.0,548.3 L822.0,553.1 L822.9,557.5 L823.8,560.4 L824.7,564.9 L825.9,564.0 L827.2,562.6 L828.4,561.2 L829.6,559.2 L830.8,558.7 L832.1,564.1 L833.3,561.3 L834.5,557.5 L836.2,556.9 L837.8,556.4 L839.5,556.2 L840.7,561.2 L842.0,543.9 L843.6,541.4 L845.2,537.7 L846.7,538.0 L848.1,536.5 L849.3,536.4 L850.6,537.6 L851.8,537.7 L853.0,536.7 L854.3,538.5 L855.5,536.5 L856.7,536.8 L858.0,538.6 L859.2,538.4 L860.9,537.9 L862.5,539.0 L864.2,538.4 L865.5,537.8 L866.7,534.0 L868.2,532.1 L869.8,533.4 L871.3,533.6 L872.1,527.3 L873.0,520.2 L873.9,518.4 L874.8,516.7 L876.2,518.6 L877.7,521.4 L878.9,525.8 L880.0,527.2 L880.9,531.9 L881.7,536.5 L882.6,531.3 L883.5,528.4 L884.7,517.3 L886.4,518.8 L888.1,519.1 L889.5,521.9 L891.0,527.2 L892.2,524.0 L893.4,519.1 L894.8,519.4 L896.1,520.5 L897.8,517.3 L899.4,520.3 L901.0,523.0 L902.2,523.9 L903.5,523.1 L904.7,523.0 L905.9,517.7 L907.2,513.1 L908.4,509.9 L910.0,506.4 L911.6,501.2 L912.9,501.1 L914.1,500.0 L915.8,506.7 L916.7,505.2 L917.6,504.9 L919.2,511.7 L920.8,517.3 L922.0,521.3 L923.3,525.2 L924.5,528.4 L926.0,527.8 L927.4,530.4 L928.4,532.9 L929.4,535.8 L930.6,543.9 L931.9,550.7 L933.3,551.8 L934.8,551.9 L936.0,553.1 L937.3,553.1 L938.8,549.4 L939.6,550.2 L940.5,554.4 L941.8,555.1 L943.0,555.6 L944.2,551.6 L945.5,546.9 L946.7,546.6 L947.9,542.7 L949.1,545.0 L950.4,548.7 L951.8,548.3 L953.2,548.4 L954.6,548.2 L956.2,544.5 L957.8,539.5 L959.5,535.5 L961.1,532.9 L962.8,528.4 L964.0,520.4 L965.2,513.6 L966.4,512.2 L967.7,510.0 L968.9,508.7 L970.4,503.9 L971.9,498.8 L973.1,493.1 L974.4,488.4 L975.4,490.6 L976.4,495.1 L977.6,495.9 L978.8,495.1 L979.8,497.8 L980.8,500.0 L982.2,499.8 L983.6,500.6 L985.0,500.7 L986.6,499.4 L988.2,496.8 L989.9,502.5 L991.2,500.6 L992.4,500.0 L993.7,498.8 L995.3,498.2 L997.0,497.2 L998.6,495.8 L1000.1,495.2 L1001.6,495.1 L1002.5,494.2 L1003.5,496.3 L1004.8,494.5 L1006.0,490.9 L1007.2,489.1 L1008.5,486.9 L1009.7,488.5 L1010.9,490.1 L1012.1,490.6 L1013.4,491.4 L1014.9,490.3 L1016.4,488.9 L1018.0,490.8 L1019.6,493.3 L1020.9,492.6 L1022.1,493.3 L1023.3,496.8 L1024.5,491.7 L1025.8,487.6 L1027.0,486.6 L1028.2,486.4 L1029.7,483.8 L1031.2,482.0 L1032.5,480.3 L1033.7,480.2 L1034.9,485.6 L1036.1,490.1 L1037.1,489.6 L1038.1,490.9 L1039.6,487.6 L1041.1,483.4 L1042.7,482.7 L1044.3,483.4 L1045.5,482.2 L1046.8,481.4 L1048.0,479.0 L1049.5,477.3 L1051.0,475.3 L1052.0,477.2 L1052.9,480.2 L1054.2,476.5 L1055.4,472.8 L1056.4,476.0 L1057.4,479.0 L1058.8,478.2 L1060.2,479.4 L1061.6,480.2 L1063.1,481.9 L1064.7,483.0 L1066.2,484.9 L1067.8,486.4 L1069.2,486.7 L1070.7,485.9 L1071.7,482.4 L1072.7,477.8 L1073.7,474.1 L1074.7,469.1 L1076.0,472.0 L1077.2,474.1 L1078.1,473.2 L1078.9,472.8 L1080.2,469.5 L1081.4,466.2 L1082.6,465.7 L1083.9,465.4 L1085.1,465.4 L1086.3,464.4 L1087.6,462.5 L1088.8,462.9 L1090.0,470.4 L1091.0,465.2 L1092.0,460.5 L1093.5,459.2 L1094.9,458.0 L1095.9,456.1 L1096.9,455.5 L1097.8,460.4 L1098.7,465.4 L1100.3,465.8 L1101.9,465.4 L1103.1,461.9 L1104.3,458.7 L1105.2,455.5 L1106.1,449.4 L1106.9,458.7 L1107.8,471.6 L1108.8,473.9 L1109.8,476.5 L1111.0,478.0 L1112.2,482.0 L1113.5,479.3 L1114.7,475.3 L1115.9,476.8 L1117.2,472.7 L1118.4,474.1 L1119.7,474.8 L1120.9,475.3 L1122.2,469.5 L1123.4,462.9 L1124.6,454.3 L1125.8,454.1 L1127.1,454.3 L1128.3,452.8 L1129.5,450.6 L1130.5,445.9 L1131.5,444.4 L1132.8,448.1 L1134.0,450.6 L1135.5,452.1 L1136.9,453.1 L1138.2,455.6 L1139.4,458.0 L1140.4,451.4 L1141.4,445.6 L1143.1,440.7 L1144.3,441.1 L1145.6,440.7 L1146.8,436.7 L1148.1,433.3 L1149.3,431.0 L1150.5,428.4 L1152.1,428.4 L1153.7,429.1 L1154.6,432.7 L1155.5,439.5 L1156.3,441.3 L1157.2,443.2 L1158.2,441.5 L1159.2,439.5 L1160.5,440.3 L1161.7,440.0 L1162.7,445.9 L1163.6,453.1 L1164.5,453.9 L1165.4,454.8 L1167.1,448.9 L1168.1,453.3 L1169.1,456.8 L1170.3,463.1 L1171.5,469.1 L1172.5,463.6 L1173.5,456.3 L1174.8,452.3 L1176.0,445.6 L1177.2,447.5 L1178.5,450.6 L1179.3,446.8 L1180.2,445.6 L1181.8,438.8 L1183.4,430.8 L1184.9,434.4 L1186.4,435.8 L1187.6,438.3 L1188.8,439.5 L1190.0,438.4 L1191.3,435.7 L1192.5,434.5 L1193.7,432.2 L1195.0,431.5 L1196.2,429.1 L1197.5,429.7 L1198.7,431.6 L1200.0,428.7 L1201.2,428.4 L1202.5,429.6 L1203.7,432.1 L1204.7,431.1 L1205.6,426.6 L1206.5,433.1 L1207.4,437.0 L1208.6,434.7 L1209.8,433.3 L1210.7,436.5 L1211.6,440.7 L1212.8,429.8 L1214.0,418.5 L1215.2,419.8 L1216.5,422.2 L1217.8,421.9 L1219.0,419.7 L1220.0,421.9 L1221.0,424.2 L1222.2,420.6 L1223.4,418.5 L1224.7,418.2 L1225.9,416.0 L1227.2,414.0 L1228.4,412.8 L1229.6,415.2 L1230.8,417.2 L1232.0,415.6 L1233.3,413.7 L1234.5,412.3 L1235.8,409.4 L1237.0,406.1 L1238.2,409.0 L1239.5,412.8 L1240.8,412.9 L1242.0,414.0 L1243.3,416.9 L1244.5,414.8 L1245.8,413.9 L1247.0,413.2 L1248.2,413.0 L1249.5,412.9 L1250.7,412.7 L1252.2,417.6 L1253.7,421.8 L1254.9,419.0 L1256.1,416.1 L1257.8,414.1 L1259.4,413.2 L1260.6,412.1 L1261.8,411.9 L1263.0,415.4 L1264.3,421.8 L1265.5,421.3 L1266.8,421.3 L1268.0,420.6 L1269.2,419.7 L1270.5,418.0 L1271.7,416.9 L1272.6,413.9 L1273.4,411.2 L1274.4,414.1 L1275.4,415.7 L1276.6,415.3 L1277.9,415.3 L1279.1,414.4 L1280.3,414.0 L1281.6,412.9 L1282.8,411.9 L1284.0,413.4 L1285.3,412.7 L1286.5,413.7 L1287.8,410.7 L1289.0,408.2 L1290.2,408.0 L1291.5,409.0 L1292.7,405.6 L1293.9,403.3 L1295.2,402.5 L1296.4,399.6 L1298.1,403.3 L1299.1,401.8 L1300.1,397.9 L1301.1,395.7 L1302.1,393.4 L1303.3,397.7 L1304.6,401.3 L1305.4,392.6 L1306.3,382.3 L1307.5,383.3 L1308.8,383.9 L1310.0,383.5 L1311.2,384.5 L1312.5,387.2 L1313.7,387.6 L1315.0,389.2 L1316.2,389.7 L1317.8,383.9 L1319.4,376.1 L1320.9,374.3 L1322.4,372.4 L1323.6,373.6 L1324.8,376.1 L1326.3,377.7 L1327.8,379.8 L1329.4,380.6 L1331.0,382.3 L1331.8,383.5 L1332.7,386.0 L1334.0,386.7 L1335.4,384.8 L1336.7,384.8 L1338.2,379.3 L1339.7,373.7 L1340.9,374.8 L1342.2,373.7 L1343.4,372.4 L1345.1,374.9 L1346.1,368.6 L1347.1,361.8 L1348.3,367.5 L1349.5,374.1 L1351.0,374.8 L1352.5,374.9 L1353.5,384.7 L1354.5,392.2 L1355.7,393.0 L1356.9,392.9 L1357.9,390.9 L1358.9,387.2 L1360.2,386.9 L1361.4,386.5 L1363.1,389.7 L1364.3,388.0 L1365.6,385.4 L1366.8,383.5 L1368.0,384.4 L1369.3,384.8 L1370.3,379.5 L1371.3,372.4 L1372.5,371.4 L1373.7,372.4 L1374.6,377.3 L1375.5,382.3 L1376.7,385.3 L1377.9,388.0 L1379.2,388.1 L1380.4,389.0 L1381.6,388.2 L1382.9,388.4 L1384.1,387.2 L1385.3,387.4 L1386.6,385.2 L1387.8,383.5 L1389.0,381.5 L1390.3,379.1 L1391.2,379.0 L1392.0,381.1 L1393.5,373.2 L1394.8,373.5 L1396.0,371.2 L1397.0,358.8 L1398.5,345.2 L1399.7,342.8 L1400.9,340.3 L1402.4,339.7 L1403.9,339.1 L1405.1,339.1 L1406.4,340.7 L1407.6,341.5 L1409.2,336.4 L1410.8,332.9 L1411.7,334.8 L1412.5,336.6 L1413.8,340.0 L1415.0,342.8 L1416.2,337.9 L1417.5,332.9 L1418.3,329.0 L1419.2,324.7 L1420.2,325.7 L1421.2,327.9 L1422.2,331.4 L1423.2,332.9 L1424.9,330.8 L1426.6,329.7 L1428.2,326.7 L1429.8,326.2 L1431.0,324.5 L1432.3,323.0 L1433.5,324.1 L1434.8,326.2 L1436.0,321.4 L1437.2,318.1 L1438.5,317.0 L1439.7,316.3 L1441.0,321.7 L1442.2,326.7 L1443.5,332.7 L1444.7,340.3 L1445.9,335.9 L1447.1,331.6 L1448.3,327.0 L1449.6,320.5 L1450.8,318.5 L1452.1,315.6 L1453.3,314.2 L1454.5,313.1 L1455.8,316.3 L1457.0,319.3 L1458.2,319.8 L1459.5,320.5 L1460.7,320.2 L1461.9,320.0 L1463.2,317.1 L1464.4,313.1 L1465.7,311.8 L1466.9,310.6 L1468.1,306.5 L1469.4,305.7 L1470.6,303.2 L1471.8,301.3 L1473.1,301.2 L1474.3,299.5 L1475.9,298.8 L1477.5,299.0 L1478.3,301.6 L1479.2,304.0 L1480.5,304.8 L1481.7,302.5 L1482.9,308.9 L1484.4,307.8 L1485.9,308.2 L1486.9,302.8 L1487.9,299.0 L1488.9,300.1 L1489.9,303.2 L1491.3,299.1 L1492.8,298.3 L1494.0,296.4 L1495.3,297.4 L1496.5,296.6 L1497.8,294.9 L1499.0,294.1 L1500.2,294.2 L1501.5,295.9 L1502.7,298.3 L1504.0,295.0 L1505.2,290.9 L1506.5,285.4 L1507.7,281.0 L1508.9,279.5 L1510.1,278.5 L1511.3,278.7 L1512.6,278.5 L1513.6,275.7 L1514.6,271.1 L1515.4,270.0 L1516.3,266.1 L1517.5,263.7 L1518.8,259.9 L1520.0,258.2 L1521.2,256.2 L1522.5,254.5 L1523.7,252.5 L1525.0,251.3 L1526.2,247.6 L1527.8,248.0 L1529.4,246.4 L1530.6,246.4 L1531.8,246.8 L1533.4,236.5 L1534.6,233.4 L1535.7,229.6 L1537.3,224.1 L1538.2,221.9 L1539.2,219.2 L1540.3,215.5 L1541.5,211.8 L1542.7,210.8 L1543.8,210.5 L1545.0,203.1 L1545.4,194.0" stroke="#3ac0da" stroke-width="2.6" fill="none" stroke-linejoin="round" stroke-linecap="round"/>
<path d="M136.6,510.0 L138.2,508.8 L139.9,508.6 L141.5,507.6 L143.2,507.7 L144.8,507.5 L146.3,506.3 L147.8,504.8 L149.4,504.5 L150.9,504.4 L152.4,503.4 L153.8,501.4 L155.3,502.4 L156.8,500.8 L158.5,501.8 L160.1,503.1 L161.8,502.8 L163.2,500.6 L164.7,499.6 L166.2,498.2 L167.7,496.5 L169.2,494.7 L170.4,495.0 L171.7,495.2 L172.9,495.4 L174.5,497.3 L176.2,497.5 L177.8,499.6 L179.5,498.5 L181.1,497.8 L182.8,497.9 L184.3,497.4 L185.9,497.2 L187.4,497.5 L188.9,497.1 L190.6,496.0 L192.2,494.6 L193.9,493.4 L195.4,492.6 L196.9,492.2 L198.3,492.3 L199.8,491.7 L201.3,490.9 L202.9,490.1 L204.6,489.2 L206.2,488.5 L207.8,489.2 L209.3,488.2 L210.8,488.8 L212.4,488.5 L214.1,487.8 L215.7,485.9 L217.4,484.8 L218.9,485.8 L220.4,485.5 L222.0,487.1 L223.5,487.2 L225.2,485.9 L226.8,483.7 L228.5,483.0 L230.1,483.8 L231.6,483.5 L233.1,484.9 L234.7,484.8 L236.2,484.0 L237.7,483.7 L239.1,483.4 L240.6,482.7 L242.1,482.3 L243.6,482.7 L245.1,482.7 L246.7,483.5 L248.2,483.5 L249.9,481.9 L251.5,480.3 L253.2,478.6 L254.8,477.8 L256.5,479.9 L258.1,479.8 L259.8,477.8 L261.4,474.9 L263.1,473.7 L264.7,473.3 L266.4,473.0 L268.0,472.4 L269.6,471.6 L271.3,469.4 L272.9,468.7 L274.2,470.2 L275.4,470.3 L276.7,471.2 L278.2,471.0 L279.8,468.6 L281.3,467.8 L282.8,466.2 L284.5,464.0 L286.1,461.6 L287.8,460.1 L289.4,461.0 L291.1,461.3 L292.7,461.3 L294.4,461.2 L296.0,460.0 L297.7,458.8 L299.3,459.0 L301.0,458.9 L302.6,460.1 L304.1,458.8 L305.6,457.8 L307.0,456.7 L308.5,456.4 L310.0,455.1 L311.6,455.7 L313.3,455.8 L314.9,456.4 L316.2,455.2 L317.4,453.8 L318.7,452.6 L320.3,453.1 L322.0,453.8 L323.6,453.9 L325.2,453.4 L326.7,451.7 L328.2,450.4 L329.8,450.2 L331.4,452.1 L333.1,452.7 L334.7,453.9 L336.2,453.5 L337.7,451.4 L339.1,451.1 L340.6,450.3 L342.1,449.4 L343.6,449.4 L345.1,450.4 L346.5,451.6 L348.0,452.4 L349.5,452.6 L351.0,452.6 L352.5,450.7 L353.9,449.7 L355.4,449.9 L356.9,448.9 L358.6,449.8 L360.2,449.9 L361.9,450.2 L363.4,449.3 L364.9,449.8 L366.3,449.5 L367.8,449.0 L369.3,448.4 L370.5,447.9 L371.8,448.1 L373.0,447.7 L374.2,450.9 L375.5,453.4 L377.1,452.9 L378.6,452.2 L380.1,452.9 L381.7,452.6 L383.2,451.8 L384.7,450.6 L386.1,450.1 L387.6,448.4 L389.1,447.7 L390.6,447.2 L392.1,446.6 L393.5,446.5 L395.0,446.4 L396.5,445.2 L398.0,444.6 L399.5,445.2 L400.9,444.4 L402.4,443.6 L403.9,442.8 L405.1,444.7 L406.4,446.9 L407.6,447.7 L409.1,446.9 L410.6,446.2 L412.0,445.0 L413.5,445.0 L415.0,444.0 L416.4,443.8 L417.9,442.6 L419.4,441.7 L420.8,440.6 L422.2,440.0 L423.7,439.1 L425.2,438.6 L426.8,439.8 L428.3,439.3 L429.8,439.6 L431.0,439.3 L432.3,439.7 L433.5,440.3 L435.0,438.2 L436.5,437.2 L438.0,435.6 L439.5,432.7 L441.0,431.6 L442.6,432.5 L444.3,432.9 L445.9,432.9 L447.5,431.4 L449.2,429.8 L450.8,429.2 L452.3,428.4 L453.8,427.9 L455.2,427.9 L456.7,427.0 L458.2,426.7 L459.7,426.3 L461.2,427.8 L462.7,427.5 L464.2,429.1 L465.7,429.2 L467.3,427.8 L469.0,427.2 L470.6,426.7 L472.2,426.7 L473.9,427.3 L475.5,427.9 L477.0,428.0 L478.5,427.3 L480.0,426.7 L481.5,426.1 L483.0,425.5 L484.5,423.6 L486.0,422.8 L487.4,421.5 L488.9,420.1 L490.4,419.3 L492.0,419.1 L493.7,418.2 L495.3,418.1 L496.9,416.1 L498.4,414.3 L500.0,413.1 L501.2,412.5 L502.5,414.0 L503.7,414.0 L505.3,412.1 L506.9,409.1 L508.4,412.2 L509.9,415.2 L511.1,415.4 L512.4,415.2 L513.6,417.0 L514.8,417.7 L516.1,418.8 L517.3,418.9 L518.5,417.4 L519.8,416.1 L521.0,414.0 L522.2,416.3 L523.5,417.8 L524.7,418.9 L525.9,417.1 L527.2,416.1 L528.4,414.0 L529.6,412.9 L530.9,410.4 L532.1,409.6 L533.3,410.1 L534.6,410.2 L535.8,411.5 L537.2,410.7 L538.6,410.2 L540.0,409.1 L541.2,412.6 L542.5,417.0 L544.0,415.5 L545.4,416.4 L546.9,415.2 L548.1,413.3 L549.4,411.8 L550.6,409.1 L552.3,408.5 L553.9,409.6 L555.6,409.1 L556.8,408.4 L558.1,406.7 L559.3,404.1 L560.9,402.4 L562.6,401.0 L564.2,399.2 L565.2,401.0 L566.2,402.9 L567.7,401.5 L569.2,399.2 L570.4,398.8 L571.7,397.6 L572.9,396.7 L573.8,394.2 L574.6,393.0 L575.6,396.2 L576.6,398.7 L577.8,397.4 L579.1,396.8 L580.3,395.5 L581.5,393.8 L582.8,391.8 L584.0,392.4 L585.3,392.0 L586.5,391.3 L588.1,390.4 L589.8,390.1 L591.4,389.3 L592.6,391.7 L593.9,392.3 L595.1,394.2 L596.7,390.9 L598.3,387.3 L599.8,388.8 L601.3,389.3 L602.5,389.5 L603.8,388.7 L605.0,388.1 L606.2,389.4 L607.5,391.8 L608.7,390.0 L610.0,389.4 L611.2,388.1 L612.4,388.3 L613.7,389.2 L614.9,388.1 L616.1,386.6 L617.4,386.4 L618.6,384.8 L619.8,385.6 L621.1,385.0 L622.3,386.3 L623.5,386.9 L624.8,388.4 L626.0,389.3 L627.2,389.1 L628.5,389.2 L629.7,389.3 L630.9,390.7 L632.2,391.4 L633.4,393.0 L634.6,391.6 L635.9,389.4 L637.1,388.1 L638.7,385.1 L640.3,382.6 L641.5,385.6 L642.8,388.1 L644.2,386.2 L645.6,384.9 L647.0,383.1 L648.2,383.4 L649.5,382.3 L650.7,381.9 L651.9,382.0 L653.2,382.6 L654.4,382.4 L655.4,385.7 L656.4,389.3 L657.2,385.4 L658.1,380.6 L659.1,382.9 L660.1,386.3 L661.5,385.5 L662.9,383.9 L664.3,383.1 L665.5,384.0 L666.8,386.4 L668.0,386.8 L669.2,384.3 L670.5,382.6 L671.7,384.4 L673.0,384.9 L674.2,385.6 L675.5,390.3 L676.7,393.7 L678.3,391.7 L679.9,390.5 L681.1,393.9 L682.3,396.2 L683.2,393.4 L684.1,389.3 L685.3,389.2 L686.6,389.2 L687.8,389.3 L689.4,392.5 L691.1,393.5 L692.7,395.5 L693.9,394.1 L695.2,392.7 L696.4,391.8 L697.6,390.8 L698.9,389.3 L700.1,390.0 L701.4,390.5 L702.6,389.8 L703.9,389.7 L705.1,388.1 L706.3,385.5 L707.6,383.3 L708.8,380.6 L710.0,381.7 L711.3,381.0 L712.5,381.9 L714.1,384.0 L715.8,386.0 L717.4,386.8 L718.6,385.5 L719.9,385.0 L721.1,384.8 L722.7,382.6 L724.3,381.4 L725.2,382.7 L726.1,385.6 L727.3,385.5 L728.6,384.2 L729.8,384.8 L731.4,386.9 L733.1,389.3 L734.7,390.5 L735.9,389.4 L737.2,389.6 L738.4,389.3 L739.6,385.1 L740.9,383.1 L742.1,379.4 L743.3,377.8 L744.6,376.8 L745.8,375.7 L747.0,375.7 L748.3,375.9 L749.5,375.7 L750.8,373.4 L752.0,371.5 L753.2,372.0 L754.5,372.5 L755.7,372.0 L756.9,372.0 L758.2,373.5 L759.4,374.4 L760.7,376.4 L761.9,376.8 L763.2,376.2 L764.4,377.4 L766.0,376.2 L767.7,376.3 L769.3,374.5 L770.5,373.3 L771.8,372.0 L773.0,373.3 L774.2,375.7 L775.4,375.6 L776.7,374.9 L777.9,375.2 L779.2,374.9 L780.4,375.7 L781.7,376.4 L782.9,375.7 L784.2,374.4 L785.4,373.2 L787.0,373.4 L788.7,373.3 L790.3,374.0 L791.5,373.5 L792.8,374.6 L794.0,374.0 L795.2,374.9 L796.5,375.2 L797.7,376.4 L799.4,375.2 L801.0,375.3 L802.7,375.7 L803.9,377.0 L805.2,375.6 L806.4,376.4 L808.0,375.7 L809.7,375.2 L811.3,374.5 L812.5,372.6 L813.8,370.7 L815.0,369.0 L816.2,369.0 L817.5,369.7 L818.7,370.8 L819.9,372.8 L821.2,372.9 L822.4,374.5 L823.6,373.6 L824.9,371.3 L826.1,370.8 L827.4,371.3 L828.6,372.0 L829.9,370.6 L831.1,369.0 L832.3,370.1 L833.6,369.7 L834.8,370.8 L836.0,370.6 L837.3,370.1 L838.5,369.5 L839.7,367.8 L841.0,366.9 L842.2,365.3 L843.4,365.7 L844.7,366.5 L845.9,367.6 L847.4,368.5 L848.9,369.5 L850.5,364.6 L852.1,362.1 L853.3,363.9 L854.5,365.8 L855.7,363.7 L857.0,361.9 L858.2,360.9 L859.9,359.9 L861.5,359.6 L863.2,358.4 L864.5,360.7 L865.7,363.4 L867.3,363.4 L869.0,361.7 L870.6,361.6 L871.8,359.1 L873.1,358.5 L874.3,355.9 L875.5,357.2 L876.8,358.5 L878.0,359.2 L879.7,359.4 L881.3,360.7 L883.0,360.9 L884.2,359.4 L885.5,357.9 L886.7,355.9 L888.3,358.8 L889.9,361.6 L891.3,359.4 L892.7,355.9 L894.1,353.5 L895.3,351.8 L896.6,350.4 L897.8,349.8 L898.9,349.1 L900.0,347.3 L901.4,346.4 L902.9,345.7 L904.3,345.2 L905.7,344.9 L907.2,344.0 L908.6,344.0 L909.9,343.5 L911.1,342.9 L912.4,342.8 L913.6,341.5 L914.9,340.2 L916.1,339.6 L917.3,340.1 L918.6,340.3 L919.8,341.0 L921.4,340.3 L923.1,339.5 L924.7,338.6 L926.0,339.6 L927.2,340.3 L928.4,336.0 L929.6,333.6 L930.6,338.0 L931.6,342.8 L933.1,339.1 L934.6,336.1 L935.8,337.6 L937.1,337.7 L938.3,339.6 L939.5,338.7 L940.8,338.3 L942.0,337.8 L943.6,337.9 L945.3,338.8 L946.9,338.6 L948.6,338.1 L950.2,338.5 L951.9,337.8 L953.1,337.7 L954.4,338.2 L955.6,339.6 L956.8,339.0 L958.1,337.5 L959.3,336.1 L960.5,335.8 L961.8,335.2 L963.0,334.6 L964.2,334.7 L965.5,333.7 L966.7,334.1 L967.9,335.8 L969.2,336.3 L970.4,337.8 L971.6,335.4 L972.9,332.1 L974.1,329.2 L975.3,327.3 L976.6,326.6 L977.8,326.2 L979.0,328.5 L980.3,329.7 L981.5,326.6 L982.8,323.7 L984.0,324.8 L985.2,326.2 L986.4,324.4 L987.7,322.2 L988.9,320.5 L990.1,319.9 L991.4,319.7 L992.6,319.3 L994.0,321.0 L995.4,323.2 L996.8,324.2 L997.8,321.5 L998.8,318.8 L1000.0,319.8 L1001.3,319.9 L1002.5,319.3 L1003.7,321.5 L1005.0,322.7 L1006.2,323.7 L1007.4,323.5 L1008.7,323.3 L1009.9,323.0 L1011.2,324.2 L1012.4,325.1 L1013.7,326.7 L1014.9,328.3 L1016.2,329.7 L1017.4,331.6 L1018.6,332.3 L1019.9,331.8 L1021.1,331.6 L1022.7,329.8 L1024.4,327.5 L1026.0,326.7 L1027.6,327.3 L1029.3,327.8 L1030.9,328.7 L1032.2,327.5 L1033.4,326.9 L1034.7,326.7 L1035.9,326.1 L1037.2,327.8 L1038.4,327.9 L1039.6,326.7 L1040.8,325.5 L1042.0,327.9 L1043.3,327.9 L1044.9,327.5 L1046.6,327.0 L1048.2,326.7 L1049.9,326.9 L1051.5,326.0 L1053.2,325.5 L1054.5,328.6 L1055.7,331.6 L1056.9,329.6 L1058.2,327.7 L1059.4,326.2 L1060.6,327.0 L1061.9,327.0 L1063.1,326.7 L1064.7,327.1 L1066.4,325.7 L1068.0,325.5 L1069.2,325.9 L1070.5,325.9 L1071.7,326.7 L1072.9,326.1 L1074.2,324.1 L1075.4,323.7 L1076.6,324.3 L1077.9,324.9 L1079.1,324.7 L1080.8,324.4 L1082.4,322.3 L1084.1,321.8 L1085.3,322.1 L1086.6,321.1 L1087.8,321.3 L1089.0,318.2 L1090.3,315.2 L1091.5,313.1 L1092.7,314.9 L1094.0,316.3 L1095.2,316.8 L1096.4,316.5 L1097.7,316.5 L1098.9,316.8 L1100.1,317.3 L1101.4,319.3 L1102.6,318.8 L1103.8,318.8 L1105.1,317.6 L1106.3,317.3 L1107.9,315.0 L1109.5,314.4 L1111.0,314.7 L1112.5,315.6 L1113.7,309.4 L1114.9,309.1 L1116.2,308.6 L1117.4,306.9 L1118.6,307.6 L1119.9,308.3 L1121.1,309.4 L1122.3,307.9 L1123.6,306.1 L1124.8,305.7 L1126.5,305.5 L1128.1,304.1 L1129.8,304.0 L1131.0,303.0 L1132.3,300.2 L1133.5,299.5 L1134.7,298.9 L1136.0,299.6 L1137.2,299.5 L1138.5,296.7 L1139.7,294.6 L1140.7,298.1 L1141.6,300.8 L1143.0,300.0 L1144.4,298.6 L1145.8,298.3 L1147.0,296.7 L1148.3,294.6 L1149.5,295.8 L1150.8,295.4 L1152.0,297.1 L1153.2,296.3 L1154.5,294.0 L1155.7,292.1 L1156.9,292.9 L1158.2,292.1 L1159.4,293.4 L1160.7,291.0 L1161.9,289.2 L1163.1,287.3 L1164.4,286.2 L1165.6,284.0 L1166.8,283.4 L1168.1,283.7 L1169.3,284.2 L1170.5,284.8 L1171.8,287.2 L1173.0,286.7 L1174.3,286.5 L1175.5,285.9 L1176.7,286.4 L1178.0,288.1 L1179.2,289.6 L1180.4,288.6 L1181.7,287.8 L1182.9,285.9 L1184.5,285.4 L1186.2,284.2 L1187.8,283.5 L1189.0,284.2 L1190.3,285.5 L1191.5,287.2 L1192.8,286.3 L1194.0,285.9 L1195.2,288.1 L1196.5,290.1 L1197.7,288.7 L1199.0,288.1 L1200.2,285.9 L1201.8,285.2 L1203.5,283.8 L1205.1,283.5 L1206.3,285.0 L1207.6,285.5 L1208.8,285.9 L1210.0,286.2 L1211.3,286.1 L1212.5,286.7 L1214.2,287.5 L1215.8,289.5 L1217.5,291.6 L1218.7,291.3 L1220.0,289.9 L1221.2,289.6 L1222.4,289.4 L1223.7,290.6 L1224.9,290.9 L1226.1,289.9 L1227.4,289.0 L1228.6,287.7 L1230.2,286.6 L1231.9,285.5 L1233.5,283.5 L1234.7,283.7 L1236.0,285.1 L1237.2,285.2 L1238.5,286.4 L1239.7,288.4 L1240.8,287.1 L1242.3,285.6 L1243.8,283.4 L1245.4,281.0 L1247.0,278.5 L1248.2,278.2 L1249.5,278.1 L1250.7,277.2 L1251.9,277.6 L1253.2,278.6 L1254.4,278.5 L1255.6,277.7 L1256.9,276.1 L1258.1,274.8 L1259.3,274.1 L1260.6,273.6 L1261.8,273.5 L1263.0,275.5 L1264.3,278.0 L1265.5,278.1 L1266.8,278.3 L1268.0,278.5 L1269.2,279.4 L1270.5,277.9 L1271.7,277.2 L1272.9,276.3 L1274.2,274.3 L1275.4,273.5 L1276.6,273.2 L1277.9,273.4 L1279.1,273.5 L1280.8,272.6 L1282.4,271.1 L1284.1,270.6 L1285.7,271.1 L1287.4,269.8 L1289.0,269.8 L1290.2,269.5 L1291.5,267.1 L1292.7,267.4 L1294.3,266.6 L1296.0,265.9 L1297.6,264.9 L1299.3,263.8 L1300.9,262.7 L1302.6,261.2 L1303.8,260.1 L1305.1,258.8 L1306.3,257.5 L1307.5,257.0 L1308.8,258.0 L1310.0,258.7 L1311.2,259.3 L1312.5,262.3 L1313.7,263.7 L1314.9,262.8 L1316.2,261.6 L1317.4,260.7 L1318.6,260.7 L1319.9,261.1 L1321.1,261.7 L1322.3,261.1 L1323.6,259.7 L1324.8,257.5 L1326.0,257.7 L1327.3,258.5 L1328.5,258.2 L1329.7,256.4 L1331.0,255.2 L1332.2,255.0 L1333.9,253.9 L1335.5,252.9 L1337.2,252.5 L1338.4,252.7 L1339.7,253.5 L1340.9,253.8 L1342.1,256.1 L1343.4,255.4 L1344.6,256.7 L1345.8,256.7 L1347.1,256.8 L1348.3,256.7 L1349.5,254.5 L1350.8,252.7 L1352.0,250.1 L1353.2,249.5 L1354.5,246.7 L1355.7,245.9 L1356.9,246.5 L1358.2,246.9 L1359.4,247.6 L1360.6,247.8 L1361.9,246.9 L1363.1,247.6 L1364.3,247.0 L1365.6,247.0 L1366.8,248.3 L1368.0,247.5 L1369.3,246.3 L1370.5,245.1 L1372.1,243.0 L1373.7,240.9 L1375.1,240.7 L1376.5,242.4 L1377.9,243.4 L1379.2,245.5 L1380.4,248.3 L1381.6,246.6 L1382.9,245.8 L1384.1,245.1 L1385.3,242.7 L1386.6,239.9 L1387.8,237.0 L1389.0,236.7 L1390.3,236.6 L1391.5,236.0 L1392.7,236.5 L1394.0,237.6 L1395.2,238.4 L1396.4,238.8 L1397.7,239.3 L1398.9,239.4 L1400.2,238.6 L1401.4,237.7 L1402.7,237.0 L1403.9,236.6 L1405.2,236.0 L1406.4,236.0 L1407.6,237.2 L1408.9,236.6 L1410.1,236.5 L1411.3,237.3 L1412.6,238.8 L1413.8,238.4 L1415.0,238.2 L1416.3,236.1 L1417.5,236.0 L1419.1,236.0 L1420.8,235.8 L1422.4,235.2 L1423.6,236.9 L1424.9,237.5 L1426.1,237.7 L1427.3,237.0 L1428.6,235.0 L1429.8,234.5 L1431.0,234.6 L1432.3,235.6 L1433.5,236.0 L1435.2,234.7 L1436.8,232.5 L1438.5,231.5 L1439.7,230.7 L1441.0,230.1 L1442.2,229.6 L1443.4,228.6 L1444.7,227.8 L1445.9,226.6 L1447.2,224.6 L1448.4,222.9 L1449.6,221.5 L1450.9,221.8 L1452.1,220.4 L1453.3,221.5 L1454.6,221.2 L1455.8,221.6 L1457.0,222.9 L1458.3,223.5 L1459.5,224.1 L1460.7,223.6 L1462.0,222.6 L1463.2,221.6 L1464.5,217.8 L1465.7,214.7 L1466.9,215.5 L1468.2,216.2 L1469.4,216.2 L1470.6,216.0 L1471.9,217.4 L1473.1,216.7 L1474.3,217.2 L1475.6,216.7 L1476.8,215.5 L1478.0,216.6 L1479.3,216.3 L1480.5,216.2 L1481.7,214.4 L1482.9,213.0 L1484.2,212.3 L1485.4,211.8 L1486.7,211.8 L1487.9,210.6 L1489.2,209.3 L1490.4,208.1 L1491.6,209.5 L1492.9,209.3 L1494.1,211.3 L1495.3,211.5 L1496.6,210.7 L1497.8,208.8 L1499.0,208.8 L1500.3,209.1 L1501.5,208.8 L1502.7,208.2 L1504.0,207.3 L1505.2,206.3 L1506.4,206.0 L1507.7,205.8 L1508.9,205.6 L1510.1,204.2 L1511.4,203.5 L1512.6,202.4 L1513.8,201.8 L1515.1,201.3 L1516.3,200.6 L1517.5,200.5 L1518.8,201.2 L1520.0,201.4 L1521.6,200.8 L1523.3,200.3 L1524.9,199.4 L1526.2,198.5 L1527.4,198.8 L1528.7,198.2 L1529.9,198.4 L1531.1,197.9 L1532.3,197.4 L1533.8,196.9 L1535.4,196.5 L1536.9,196.4 L1538.4,195.8 L1540.0,195.8 L1541.5,195.0 L1542.8,195.4 L1544.1,194.3 L1545.4,194.0" stroke="#3ac0da" stroke-width="2.6" fill="none" stroke-linejoin="round" stroke-linecap="round"/>
<path d="M136.6,517.4 L137.8,517.2 L139.0,518.1 L140.5,521.5 L142.0,524.3 L143.2,522.4 L144.5,519.4 L145.7,518.1 L146.9,516.3 L148.2,515.6 L149.4,514.4 L150.6,514.9 L151.9,513.4 L153.1,514.4 L154.7,513.3 L156.2,514.2 L157.8,512.5 L159.3,513.2 L160.5,512.5 L161.8,511.8 L163.0,510.7 L164.2,510.2 L165.5,509.1 L166.7,509.5 L168.3,508.6 L170.0,507.6 L171.6,507.0 L172.9,508.1 L174.1,508.0 L175.4,509.5 L176.6,514.7 L177.8,518.1 L179.1,514.3 L180.3,513.2 L181.6,513.7 L182.8,514.4 L184.0,512.0 L185.2,509.5 L186.9,509.7 L188.5,507.8 L190.2,507.7 L191.8,505.4 L193.5,501.8 L195.1,499.6 L196.3,502.0 L197.6,503.3 L198.8,503.9 L200.1,501.3 L201.3,500.8 L202.9,499.4 L204.6,496.5 L206.2,495.4 L207.4,497.2 L208.7,498.4 L209.9,498.4 L211.6,502.5 L213.2,505.7 L214.9,510.7 L216.2,508.6 L217.4,505.8 L219.0,505.1 L220.7,503.3 L222.3,500.8 L223.9,502.1 L225.6,500.7 L227.2,502.8 L228.4,502.4 L229.7,504.3 L230.9,503.3 L232.2,501.1 L233.4,501.7 L234.7,499.6 L236.3,500.7 L238.0,499.4 L239.6,498.4 L240.8,498.1 L242.1,495.7 L243.3,494.7 L244.5,493.3 L245.8,493.8 L247.0,493.4 L248.2,496.1 L249.5,499.2 L250.7,502.1 L251.9,500.2 L253.2,497.1 L254.4,494.7 L255.6,493.6 L256.9,492.5 L258.1,490.9 L259.4,491.5 L260.6,492.2 L261.9,491.2 L263.1,487.2 L264.7,487.2 L266.4,486.5 L268.0,486.0 L269.6,486.0 L271.3,485.8 L272.9,486.5 L274.2,488.2 L275.4,488.0 L276.7,488.5 L277.9,489.7 L279.2,492.2 L280.4,494.7 L281.6,493.8 L282.9,492.7 L284.1,492.2 L285.3,495.5 L286.6,496.2 L287.8,499.6 L289.0,502.1 L290.3,503.8 L291.5,505.8 L292.7,505.3 L294.0,506.6 L295.2,507.0 L296.4,508.2 L297.7,509.5 L298.9,515.2 L300.2,519.8 L301.4,525.5 L302.6,522.0 L303.9,516.8 L305.1,514.4 L306.7,508.6 L308.4,505.2 L310.0,499.6 L311.6,502.5 L313.3,503.7 L314.9,505.8 L316.2,500.4 L317.4,496.7 L318.7,490.9 L319.9,487.6 L321.2,487.0 L322.4,486.0 L323.6,484.9 L324.9,483.3 L326.1,481.1 L327.3,479.4 L328.6,477.9 L329.8,478.6 L331.0,480.2 L332.3,479.5 L333.5,479.8 L334.7,476.0 L335.9,473.7 L337.2,473.3 L338.4,473.6 L339.7,472.4 L341.3,467.0 L343.0,466.7 L344.6,462.5 L345.9,462.7 L347.1,461.8 L348.3,463.0 L349.5,467.5 L351.2,466.5 L352.8,462.7 L354.5,462.5 L356.1,462.8 L357.8,461.7 L359.4,460.8 L360.9,462.9 L362.4,461.0 L363.8,461.8 L365.3,463.0 L366.8,462.5 L368.1,467.6 L369.3,473.7 L370.5,470.6 L371.8,468.4 L373.0,466.2 L374.2,462.0 L375.5,457.1 L376.7,453.9 L377.9,450.2 L379.2,446.1 L380.4,441.5 L381.6,436.6 L382.9,431.6 L384.1,432.6 L385.4,430.5 L386.6,430.4 L387.9,433.3 L389.1,434.1 L390.3,432.4 L391.6,432.2 L392.8,430.4 L394.0,433.2 L395.2,439.1 L396.4,442.3 L397.7,445.2 L398.9,438.3 L400.2,431.6 L401.4,428.2 L402.7,425.5 L403.9,422.9 L405.2,421.1 L406.4,419.3 L408.0,419.1 L409.7,418.3 L411.3,420.5 L412.5,419.5 L413.8,418.9 L415.0,418.8 L416.2,424.2 L417.5,430.4 L418.7,430.4 L420.0,432.0 L421.2,432.9 L422.7,431.7 L424.2,429.2 L425.8,432.7 L427.4,436.6 L428.6,438.7 L429.9,442.6 L431.1,444.0 L432.6,451.0 L434.0,456.4 L435.0,463.9 L436.0,469.9 L437.2,468.8 L438.5,465.6 L439.7,463.8 L440.9,460.0 L442.2,457.2 L443.4,452.6 L444.6,456.5 L445.9,461.3 L447.1,458.7 L448.4,456.7 L449.6,453.9 L450.9,460.3 L452.1,466.2 L453.3,465.6 L454.6,466.2 L455.8,465.0 L457.0,459.3 L458.2,453.9 L459.4,461.9 L460.7,468.7 L461.9,472.7 L463.2,474.9 L464.4,473.0 L465.7,470.6 L466.9,467.5 L468.1,472.1 L469.4,478.6 L470.6,480.0 L471.9,483.0 L473.1,486.0 L474.3,488.2 L475.5,489.7 L476.8,498.4 L478.0,501.6 L479.3,501.5 L480.5,504.5 L481.8,504.1 L483.0,503.3 L484.2,506.3 L485.4,510.7 L486.6,515.0 L487.9,520.3 L489.1,525.5 L490.4,522.4 L491.6,518.1 L492.8,519.9 L494.1,522.4 L495.3,523.1 L496.6,518.6 L497.8,515.7 L498.8,521.3 L499.8,525.4 L501.0,519.9 L502.2,513.0 L503.4,512.7 L504.7,512.6 L505.9,511.8 L507.1,508.2 L508.4,505.6 L509.6,502.9 L510.9,501.9 L512.1,499.1 L513.4,496.9 L514.2,493.3 L515.1,490.8 L516.4,499.3 L517.6,503.1 L519.2,499.6 L520.8,496.9 L522.0,498.9 L523.2,498.2 L524.5,503.3 L525.7,508.1 L527.3,510.8 L528.9,513.0 L530.4,517.3 L531.9,520.4 L533.1,513.6 L534.4,508.1 L535.8,508.8 L537.3,508.1 L538.9,503.1 L540.5,497.4 L541.8,502.7 L543.0,510.5 L543.9,517.2 L544.7,522.9 L545.7,520.8 L546.7,517.9 L547.7,526.3 L548.7,534.0 L550.2,518.0 L551.6,499.4 L553.1,497.2 L554.6,495.7 L556.2,486.2 L557.8,475.9 L558.7,485.1 L559.6,493.2 L561.2,499.9 L562.8,508.1 L564.0,513.4 L565.2,516.7 L566.1,519.9 L567.0,525.4 L568.2,518.8 L569.4,514.2 L570.6,512.2 L571.9,509.3 L573.4,499.4 L574.6,511.5 L575.9,525.4 L577.3,522.2 L578.8,519.2 L580.3,515.4 L581.8,514.2 L583.4,501.9 L585.0,489.5 L586.2,489.8 L587.5,492.2 L588.7,493.2 L590.2,488.7 L591.7,486.6 L592.9,490.9 L594.1,494.5 L595.4,492.2 L596.8,490.4 L598.1,488.3 L599.4,495.6 L600.6,503.1 L601.8,515.0 L603.0,526.6 L603.9,534.2 L604.8,543.9 L605.6,543.7 L606.5,547.6 L607.5,535.3 L608.5,522.9 L609.7,519.3 L611.0,516.7 L612.2,514.2 L613.8,510.2 L615.4,505.6 L616.6,492.9 L617.9,483.4 L619.6,483.4 L621.3,484.6 L622.9,492.1 L624.5,500.6 L625.8,497.3 L627.0,495.7 L628.4,495.6 L629.8,494.8 L631.2,494.5 L632.8,488.9 L634.4,484.6 L635.6,485.9 L636.9,489.4 L638.1,490.8 L639.3,493.5 L640.6,497.8 L641.8,500.6 L643.0,494.8 L644.3,488.3 L645.5,485.5 L646.8,485.8 L647.7,483.2 L648.9,473.1 L650.0,464.7 L651.4,462.8 L652.7,460.9 L653.9,464.9 L655.2,469.0 L656.4,472.1 L657.9,459.7 L659.4,446.1 L660.6,445.1 L661.8,442.4 L663.0,443.4 L664.3,444.9 L665.5,441.6 L666.8,438.7 L668.0,439.7 L669.3,439.2 L670.5,439.9 L671.7,442.6 L672.9,443.7 L674.4,433.1 L675.9,425.1 L677.1,423.2 L678.4,420.2 L679.9,419.8 L681.3,418.1 L682.8,419.4 L684.0,424.9 L685.3,428.8 L686.8,433.6 L688.2,437.9 L689.7,442.4 L691.2,432.3 L692.7,423.9 L693.9,414.0 L695.1,414.2 L696.4,415.2 L697.6,421.4 L698.9,425.1 L700.5,427.5 L702.1,431.3 L703.3,429.4 L704.4,432.3 L705.6,433.8 L706.5,429.1 L707.5,426.4 L708.7,423.4 L710.0,420.3 L711.2,417.7 L712.5,415.1 L713.7,414.0 L714.9,433.8 L716.4,438.7 L717.9,444.9 L719.5,444.5 L721.1,442.4 L722.4,446.8 L723.6,453.5 L724.9,461.3 L726.1,465.9 L727.3,469.2 L728.5,473.3 L729.8,475.5 L731.0,479.5 L731.9,472.7 L732.7,464.7 L733.7,461.4 L734.7,457.2 L735.7,459.5 L736.7,463.4 L738.4,451.1 L739.2,459.7 L740.1,467.1 L741.1,468.7 L742.1,473.3 L743.4,480.6 L744.6,489.4 L745.8,493.6 L747.1,495.7 L748.3,499.2 L749.5,487.7 L750.8,478.2 L752.0,472.5 L753.2,465.9 L754.5,460.4 L755.7,453.5 L757.4,451.1 L758.9,458.5 L759.8,452.3 L760.7,446.1 L762.3,441.0 L763.9,438.7 L764.8,434.1 L765.6,430.1 L766.8,436.2 L767.8,430.4 L768.8,423.9 L770.3,426.4 L771.8,427.6 L773.0,436.9 L774.3,443.1 L775.5,451.1 L777.1,444.5 L778.7,438.7 L780.4,436.2 L781.2,441.1 L782.1,446.1 L783.6,415.2 L785.1,420.5 L786.6,423.9 L788.1,422.9 L789.6,423.4 L790.8,425.9 L792.0,426.4 L793.6,423.6 L795.2,425.1 L796.5,422.6 L797.7,418.9 L799.0,416.5 L800.2,415.2 L801.5,417.4 L802.7,418.9 L803.9,422.6 L805.1,425.1 L806.4,415.5 L807.6,407.8 L808.9,408.4 L810.1,409.1 L811.3,413.6 L812.5,417.7 L813.8,422.5 L815.0,426.4 L816.2,426.3 L817.5,427.6 L818.8,423.7 L820.0,421.4 L821.2,416.8 L822.4,415.2 L823.6,425.3 L824.9,431.3 L826.1,436.1 L827.4,441.2 L829.0,442.9 L830.6,444.9 L832.0,435.7 L833.5,428.8 L834.5,427.1 L835.5,423.9 L836.8,424.1 L838.0,425.1 L839.2,429.9 L840.5,432.5 L841.7,428.2 L842.9,422.6 L844.4,422.0 L845.9,421.4 L847.1,423.2 L848.4,423.0 L849.6,425.1 L850.9,419.3 L852.1,414.0 L853.7,412.9 L855.3,412.8 L856.1,408.7 L857.0,406.6 L858.2,402.3 L859.5,397.9 L861.1,399.6 L862.7,401.6 L864.1,406.5 L865.5,406.4 L866.9,412.8 L868.1,406.7 L869.4,401.6 L870.6,397.8 L871.8,395.5 L873.0,392.7 L874.3,390.9 L875.5,388.1 L876.7,390.9 L878.0,393.1 L879.2,395.5 L880.5,388.0 L881.7,381.6 L883.0,374.0 L884.5,378.8 L885.9,383.1 L887.5,377.9 L889.1,375.7 L890.4,380.8 L891.6,386.3 L892.8,384.1 L894.1,383.2 L895.3,383.1 L896.8,380.4 L898.3,377.4 L899.1,382.1 L900.0,386.8 L901.5,389.5 L903.1,391.2 L904.7,394.4 L906.2,397.1 L907.4,396.8 L908.7,398.3 L909.9,398.4 L911.1,401.4 L912.4,403.3 L913.6,403.9 L914.9,402.6 L916.1,400.8 L917.3,403.9 L918.5,408.2 L919.8,409.1 L921.0,410.7 L922.2,413.6 L923.5,418.1 L924.7,423.3 L925.9,428.0 L927.1,430.6 L928.4,430.0 L929.6,425.9 L930.9,420.6 L932.1,415.1 L933.4,413.2 L934.6,414.0 L935.8,416.9 L937.0,411.3 L938.3,407.7 L939.5,410.2 L940.8,411.9 L942.0,410.7 L943.2,409.5 L944.4,410.0 L945.7,411.4 L946.9,410.2 L948.1,403.0 L949.4,397.1 L950.6,393.3 L951.9,390.9 L953.1,392.1 L954.4,390.4 L955.6,389.7 L956.9,390.9 L958.1,393.4 L959.3,390.9 L960.6,390.5 L961.8,390.9 L963.2,390.2 L964.7,393.4 L965.7,390.4 L966.7,387.2 L967.9,387.2 L969.2,388.0 L970.4,387.2 L971.6,386.5 L972.9,386.0 L974.1,386.3 L975.4,387.1 L976.6,388.5 L977.8,389.9 L979.1,386.8 L980.3,388.0 L981.1,393.6 L982.0,398.9 L983.0,393.7 L984.0,388.5 L985.5,391.4 L987.0,393.4 L988.0,394.9 L988.9,397.1 L990.1,402.4 L991.4,407.0 L992.4,402.7 L993.4,397.1 L994.8,397.4 L996.2,397.6 L997.6,398.4 L999.0,398.1 L1000.4,397.3 L1001.8,397.9 L1003.4,399.2 L1005.0,400.8 L1006.2,395.0 L1007.5,389.7 L1008.7,389.9 L1009.9,389.7 L1011.5,391.4 L1013.2,390.9 L1014.9,399.6 L1016.1,395.1 L1017.4,388.5 L1018.6,388.1 L1019.9,389.0 L1021.1,388.5 L1022.3,389.9 L1023.5,390.9 L1024.8,385.4 L1026.0,378.6 L1027.2,378.5 L1028.5,378.5 L1029.7,378.1 L1031.0,378.2 L1032.2,379.1 L1033.8,375.8 L1035.4,373.7 L1036.9,370.6 L1038.4,366.2 L1039.8,363.8 L1041.3,359.3 L1042.9,361.8 L1044.5,363.3 L1046.1,364.5 L1047.7,365.0 L1049.2,367.1 L1050.7,368.7 L1052.2,369.6 L1053.7,371.2 L1055.3,364.8 L1056.9,361.3 L1058.5,358.7 L1060.1,355.1 L1061.6,355.3 L1063.1,355.1 L1064.5,357.5 L1066.0,360.8 L1067.3,360.2 L1068.7,362.2 L1070.0,361.3 L1071.5,354.3 L1072.9,350.2 L1074.4,350.4 L1075.9,347.7 L1077.5,346.4 L1079.1,344.0 L1080.3,344.6 L1081.6,341.5 L1082.8,342.8 L1084.1,345.2 L1085.7,343.1 L1087.3,341.0 L1088.8,342.1 L1090.2,344.0 L1091.5,341.7 L1092.7,339.1 L1093.9,339.1 L1095.2,338.8 L1096.4,339.6 L1097.7,344.5 L1098.9,347.7 L1100.2,348.9 L1101.4,351.4 L1102.6,348.9 L1103.9,347.7 L1105.1,345.2 L1106.5,346.6 L1108.0,348.9 L1109.3,347.6 L1110.7,347.3 L1112.0,346.0 L1113.2,352.1 L1114.5,358.8 L1115.7,358.8 L1116.9,360.8 L1118.4,359.7 L1119.9,358.8 L1121.1,355.3 L1122.4,353.6 L1123.6,348.9 L1124.8,342.5 L1126.1,337.8 L1127.3,336.1 L1128.5,332.9 L1130.1,328.2 L1131.7,324.7 L1133.1,324.7 L1134.5,325.0 L1135.9,325.5 L1137.2,327.7 L1138.4,330.3 L1139.7,331.6 L1140.9,332.4 L1142.2,329.8 L1143.4,329.7 L1144.6,329.5 L1145.8,327.2 L1147.0,329.6 L1148.3,330.4 L1149.2,328.6 L1150.0,325.5 L1151.0,328.6 L1152.0,332.9 L1153.2,333.0 L1154.5,331.6 L1155.7,338.3 L1156.9,345.2 L1158.2,347.1 L1159.4,348.4 L1160.9,346.6 L1162.4,345.2 L1163.4,340.8 L1164.4,335.4 L1165.6,335.6 L1166.8,334.1 L1168.0,334.4 L1169.3,332.9 L1170.5,336.4 L1171.8,340.3 L1173.0,336.7 L1174.2,331.6 L1175.4,330.5 L1176.7,326.3 L1177.9,324.7 L1179.6,323.8 L1181.2,320.5 L1182.7,321.9 L1184.1,325.5 L1185.3,324.0 L1186.6,322.2 L1187.8,319.8 L1189.0,327.5 L1190.3,332.9 L1191.5,336.5 L1192.8,339.6 L1194.0,339.9 L1195.2,341.0 L1196.5,334.5 L1197.7,329.2 L1199.0,332.9 L1200.2,338.6 L1201.5,336.7 L1202.7,333.6 L1203.9,333.7 L1205.1,334.1 L1206.7,323.0 L1208.3,313.1 L1209.8,312.9 L1211.3,311.9 L1212.5,310.1 L1213.8,309.1 L1215.0,308.2 L1216.2,313.1 L1217.5,308.7 L1218.7,305.0 L1220.0,306.9 L1221.2,302.1 L1222.4,294.6 L1223.6,294.5 L1224.9,292.0 L1226.1,290.9 L1227.3,289.2 L1228.6,290.3 L1229.8,289.6 L1231.0,288.7 L1232.3,287.9 L1233.5,286.7 L1234.7,287.5 L1236.0,287.1 L1237.2,287.7 L1238.8,287.4 L1240.5,286.4 L1242.1,284.7 L1243.7,285.2 L1245.3,285.4 L1246.5,286.8 L1247.7,288.9 L1249.0,285.8 L1250.2,283.4 L1251.7,282.1 L1253.2,279.7 L1254.4,274.5 L1255.6,271.1 L1256.8,269.5 L1258.1,268.1 L1259.3,267.8 L1260.6,268.6 L1261.8,264.8 L1263.1,263.2 L1264.0,267.6 L1265.0,271.1 L1265.9,267.6 L1266.8,264.1 L1268.0,262.7 L1269.2,261.2 L1270.4,261.5 L1271.7,259.1 L1272.9,259.9 L1274.1,260.7 L1275.4,261.8 L1276.6,262.4 L1278.2,264.9 L1279.9,266.1 L1281.1,268.3 L1282.3,272.3 L1283.8,268.6 L1285.3,263.7 L1286.5,262.2 L1287.8,261.5 L1289.0,258.7 L1290.2,259.6 L1291.5,259.1 L1292.7,258.7 L1294.0,261.7 L1295.2,261.2 L1296.4,261.8 L1297.6,262.4 L1298.8,257.1 L1300.1,252.5 L1301.3,251.4 L1302.6,250.1 L1303.8,250.1 L1305.0,248.7 L1306.3,245.8 L1307.5,245.9 L1309.0,244.5 L1310.5,243.6 L1312.0,241.9 L1313.2,247.4 L1314.4,251.3 L1315.3,244.8 L1316.2,238.9 L1317.4,239.4 L1318.6,237.7 L1319.8,237.8 L1321.1,238.9 L1322.3,235.7 L1323.6,232.8 L1324.8,230.0 L1326.1,230.3 L1327.7,233.4 L1329.3,237.7 L1330.2,233.7 L1331.0,231.0 L1332.2,231.8 L1333.5,230.3 L1334.7,233.2 L1335.9,235.2 L1337.2,235.0 L1338.4,236.5 L1340.1,223.6 L1341.8,224.9 L1343.4,225.4 L1344.6,225.8 L1345.8,225.4 L1347.0,223.3 L1348.3,221.6 L1349.5,219.8 L1350.8,217.9 L1352.4,220.8 L1354.0,224.1 L1354.8,220.0 L1355.7,216.7 L1357.3,217.2 L1358.9,220.4 L1360.2,217.9 L1361.4,215.5 L1362.7,219.0 L1363.9,220.4 L1365.3,219.7 L1366.8,216.7 L1368.0,215.2 L1369.3,214.2 L1370.8,210.6 L1372.3,208.1 L1373.9,207.3 L1375.5,206.8 L1376.7,208.8 L1377.9,209.3 L1379.6,207.3 L1381.2,204.8 L1382.7,204.7 L1384.1,205.6 L1385.6,206.5 L1387.1,206.8 L1388.1,211.3 L1389.1,216.2 L1390.5,213.8 L1392.0,210.5 L1393.6,209.6 L1395.2,209.3 L1396.5,209.2 L1397.7,211.3 L1399.0,214.0 L1400.2,216.7 L1401.5,220.4 L1402.7,222.9 L1403.9,224.5 L1405.1,227.8 L1406.3,230.2 L1407.6,232.8 L1408.8,235.1 L1410.1,236.0 L1411.3,234.5 L1412.5,233.5 L1413.8,236.3 L1415.0,240.2 L1416.2,239.3 L1417.5,235.2 L1418.7,235.2 L1419.9,234.0 L1421.2,239.5 L1422.4,243.4 L1423.7,237.4 L1424.9,232.8 L1426.2,231.6 L1427.4,227.8 L1428.6,225.1 L1429.9,224.6 L1431.1,223.6 L1432.3,223.1 L1433.6,222.5 L1434.8,220.4 L1436.0,220.1 L1437.2,221.2 L1438.1,216.0 L1439.0,211.8 L1440.6,212.2 L1442.2,212.3 L1443.4,210.2 L1444.7,211.6 L1445.9,210.5 L1447.4,214.0 L1448.9,216.7 L1450.1,213.9 L1451.3,211.8 L1452.9,212.8 L1454.5,213.0 L1455.8,216.7 L1457.0,219.2 L1458.2,217.6 L1459.5,215.5 L1460.7,214.7 L1461.9,213.0 L1462.8,211.3 L1463.7,207.3 L1465.3,207.3 L1466.9,208.1 L1468.2,207.6 L1469.4,206.8 L1470.6,203.3 L1471.8,200.6 L1473.0,200.2 L1474.3,197.8 L1475.5,196.9 L1477.0,196.1 L1478.5,194.5 L1480.1,195.8 L1481.7,196.9 L1483.3,196.4 L1484.9,195.7 L1486.4,197.6 L1487.9,196.9 L1489.4,195.9 L1490.9,195.0 L1492.5,196.4 L1494.1,195.7 L1495.3,193.2 L1496.5,189.5 L1497.8,188.7 L1499.0,185.8 L1500.2,185.1 L1501.5,184.6 L1502.7,184.1 L1503.9,182.1 L1504.8,181.2 L1505.7,179.2 L1506.7,180.8 L1507.7,183.4 L1508.9,180.8 L1510.1,177.7 L1511.1,176.1 L1512.1,174.7 L1512.9,179.0 L1513.8,183.4 L1514.7,188.1 L1515.6,190.8 L1517.2,187.7 L1518.8,185.8 L1520.0,189.4 L1521.2,195.7 L1522.5,196.2 L1523.7,199.4 L1525.0,197.8 L1526.2,196.9 L1527.5,195.8 L1528.7,195.7 L1529.6,192.6 L1530.4,189.5 L1531.3,194.3 L1532.3,198.2 L1533.2,206.4 L1534.0,211.8 L1534.8,218.2 L1535.7,224.1 L1537.3,214.2 L1538.2,208.4 L1539.2,201.9 L1540.2,204.4 L1541.1,208.1 L1542.7,203.1 L1544.3,205.6 L1545.4,194.0" stroke="#1215ea" stroke-width="4.6" stroke-opacity="0.82" fill="none" stroke-linejoin="round" stroke-linecap="butt"/>
<text x="121.3" y="674.9" font-size="13.7" fill="#8f9092" text-anchor="middle">2021-05</text>
<text x="267.4" y="674.9" font-size="13.7" fill="#8f9092" text-anchor="middle">2021-09</text>
<text x="412.3" y="674.9" font-size="13.7" fill="#8f9092" text-anchor="middle">2022-01</text>
<text x="554.7" y="674.9" font-size="13.7" fill="#8f9092" text-anchor="middle">2022-05</text>
<text x="700.8" y="674.9" font-size="13.7" fill="#8f9092" text-anchor="middle">2022-09</text>
<text x="845.6" y="674.9" font-size="13.7" fill="#8f9092" text-anchor="middle">2023-01</text>
<text x="988.1" y="674.9" font-size="13.7" fill="#8f9092" text-anchor="middle">2023-05</text>
<text x="1134.1" y="674.9" font-size="13.7" fill="#8f9092" text-anchor="middle">2023-09</text>
<text x="1278.9" y="674.9" font-size="13.7" fill="#8f9092" text-anchor="middle">2024-01</text>
<text x="1422.6" y="674.9" font-size="13.7" fill="#8f9092" text-anchor="middle">2024-05</text>
<text x="1568.6" y="674.9" font-size="13.7" fill="#8f9092" text-anchor="middle">2024-09</text>
<text x="55.0" y="65.4" font-size="13.9" letter-spacing="-0.5" fill="#8f9092" text-anchor="end">80</text>
<text x="55.0" y="177.8" font-size="13.9" letter-spacing="-0.5" fill="#8f9092" text-anchor="end">60</text>
<text x="55.0" y="290.2" font-size="13.9" letter-spacing="-0.5" fill="#8f9092" text-anchor="end">40</text>
<text x="55.0" y="402.6" font-size="13.9" letter-spacing="-0.5" fill="#8f9092" text-anchor="end">20</text>
<text x="55.0" y="515.0" font-size="13.9" letter-spacing="-0.5" fill="#8f9092" text-anchor="end">0</text>
<text x="55.0" y="627.4" font-size="13.9" letter-spacing="-0.5" fill="#8f9092" text-anchor="end">−20</text>
<text transform="translate(21.8,346.6) rotate(-90)" font-size="18.1" fill="#7d7e80" text-anchor="middle">Cumulative returns %</text>
<text x="841" y="30" font-size="27.7" fill="#c9c9c9" text-anchor="middle">MONTECARLO SIMULATION</text>
<path d="M1463,57 H1493.2" stroke="#1616c8" stroke-width="3.8" stroke-linecap="round"/>
<rect x="1464" y="72.7" width="28" height="10.3" fill="#3d4860"/>
<text x="1503" y="61.5" font-size="14" fill="#c9c9c9">Current retunrs</text>
<text x="1503" y="82.7" font-size="14" fill="#c9c9c9">Montecarlo area</text>
</svg></body></html>
